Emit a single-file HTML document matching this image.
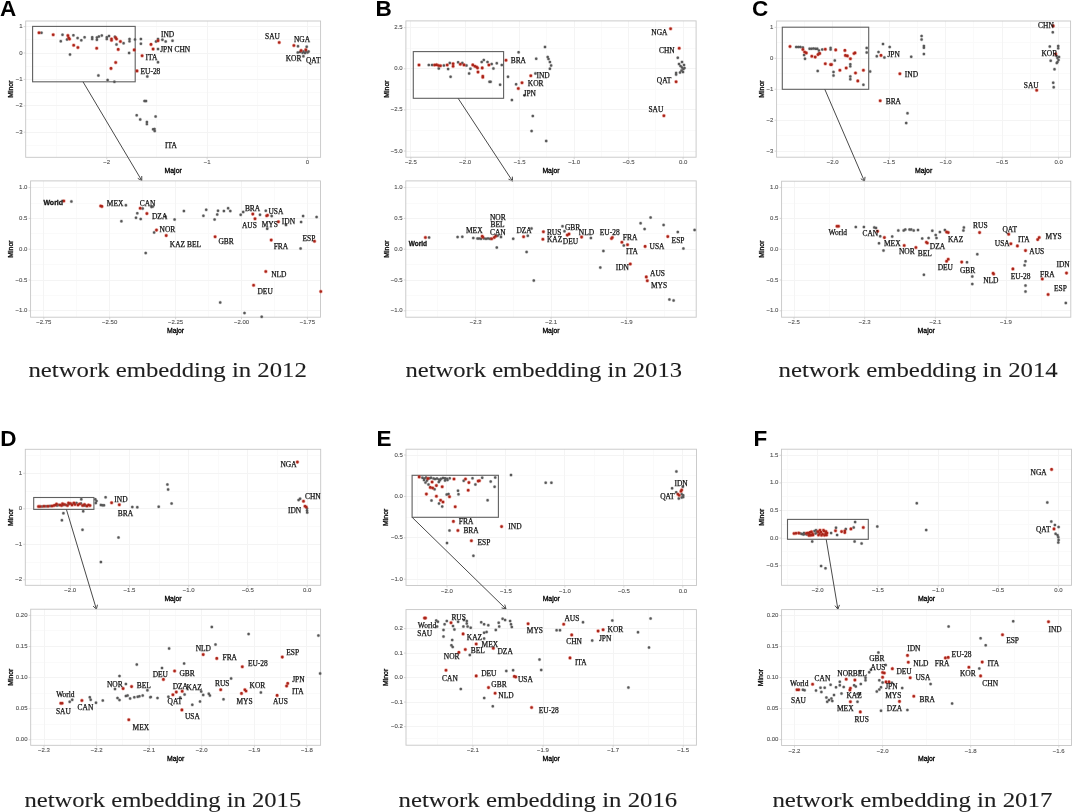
<!DOCTYPE html>
<html><head><meta charset="utf-8"><title>network embedding</title><style>
html,body{margin:0;padding:0;background:#fff;}
svg{display:block;}
.tk{font-family:"Liberation Sans",sans-serif;font-size:6.0px;fill:#505050;stroke:#505050;stroke-width:0.1px;}
.ti{font-family:"Liberation Sans",sans-serif;font-size:6.9px;fill:#000;stroke:#000;stroke-width:0.3px;}
.lb{font-family:"Liberation Serif",serif;font-size:7.45px;fill:#141414;stroke:#141414;stroke-width:0.25px;}
.ls{font-family:"Liberation Sans",sans-serif;font-size:7.6px;fill:#141414;font-weight:bold;stroke:#141414;stroke-width:0.3px;}
.let{font-family:"Liberation Sans",sans-serif;font-size:22.5px;font-weight:bold;fill:#000;}
.cap{font-family:"Liberation Serif",serif;font-size:21.8px;fill:#1e1e1e;stroke:#1e1e1e;stroke-width:0.1px;}
</style></head>
<body><svg width="1072" height="812" viewBox="0 0 1072 812">
<defs><filter id="bl" x="0" y="0" width="1072" height="812" filterUnits="userSpaceOnUse"><feColorMatrix type="identity"/></filter></defs>
<rect width="1072" height="812" fill="#fff"/>
<g filter="url(#bl)">
<rect width="1072" height="812" fill="#fff"/>
<g id="At">
<line x1="56.5" y1="21" x2="56.5" y2="157.3" stroke="#fafafa" stroke-width="1"/>
<line x1="156.5" y1="21" x2="156.5" y2="157.3" stroke="#fafafa" stroke-width="1"/>
<line x1="257.5" y1="21" x2="257.5" y2="157.3" stroke="#fafafa" stroke-width="1"/>
<line x1="25.7" y1="39.5" x2="320.6" y2="39.5" stroke="#fafafa" stroke-width="1"/>
<line x1="25.7" y1="66.5" x2="320.6" y2="66.5" stroke="#fafafa" stroke-width="1"/>
<line x1="25.7" y1="92.5" x2="320.6" y2="92.5" stroke="#fafafa" stroke-width="1"/>
<line x1="25.7" y1="119.5" x2="320.6" y2="119.5" stroke="#fafafa" stroke-width="1"/>
<line x1="25.7" y1="145.5" x2="320.6" y2="145.5" stroke="#fafafa" stroke-width="1"/>
<line x1="106.5" y1="21" x2="106.5" y2="157.3" stroke="#f4f4f4" stroke-width="1"/>
<line x1="207.5" y1="21" x2="207.5" y2="157.3" stroke="#f4f4f4" stroke-width="1"/>
<line x1="307.5" y1="21" x2="307.5" y2="157.3" stroke="#f4f4f4" stroke-width="1"/>
<line x1="25.7" y1="26.5" x2="320.6" y2="26.5" stroke="#f4f4f4" stroke-width="1"/>
<line x1="25.7" y1="53.5" x2="320.6" y2="53.5" stroke="#f4f4f4" stroke-width="1"/>
<line x1="25.7" y1="79.5" x2="320.6" y2="79.5" stroke="#f4f4f4" stroke-width="1"/>
<line x1="25.7" y1="105.5" x2="320.6" y2="105.5" stroke="#f4f4f4" stroke-width="1"/>
<line x1="25.7" y1="132.5" x2="320.6" y2="132.5" stroke="#f4f4f4" stroke-width="1"/>
<rect x="25.7" y="21" width="294.9" height="136.3" fill="none" stroke="#c6c6c6" stroke-width="0.9"/>
<path d="M106.78 157.3v2M207.14 157.3v2M307.5 157.3v2M25.7 26.6h-2M25.7 53h-2M25.7 79.4h-2M25.7 105.8h-2M25.7 132.2h-2" stroke="#c6c6c6" stroke-width="0.7"/>
<text x="106.78" y="164.46" text-anchor="middle" class="tk">−2</text>
<text x="207.14" y="164.46" text-anchor="middle" class="tk">−1</text>
<text x="307.5" y="164.46" text-anchor="middle" class="tk">0</text>
<text x="22.5" y="28.16" text-anchor="end" class="tk">1</text>
<text x="22.5" y="54.56" text-anchor="end" class="tk">0</text>
<text x="22.5" y="80.96" text-anchor="end" class="tk">−1</text>
<text x="22.5" y="107.36" text-anchor="end" class="tk">−2</text>
<text x="22.5" y="133.76" text-anchor="end" class="tk">−3</text>
<text x="173.15" y="172.98" text-anchor="middle" class="ti">Major</text>
<text transform="translate(12.98 89.15) rotate(-90)" text-anchor="middle" class="ti">Minor</text>
<rect x="32.6" y="26.4" width="102.6" height="55.4" fill="none" stroke="#606060" stroke-width="1.1"/>
<path d="M39.65 32.8a1.85 1.85 0 1 0 3.7 0a1.85 1.85 0 1 0 -3.7 0M60.65 34.8a1.85 1.85 0 1 0 3.7 0a1.85 1.85 0 1 0 -3.7 0M58.95 41.2a1.85 1.85 0 1 0 3.7 0a1.85 1.85 0 1 0 -3.7 0M65.15 39.5a1.85 1.85 0 1 0 3.7 0a1.85 1.85 0 1 0 -3.7 0M71.55 35.3a1.85 1.85 0 1 0 3.7 0a1.85 1.85 0 1 0 -3.7 0M75.75 38.1a1.85 1.85 0 1 0 3.7 0a1.85 1.85 0 1 0 -3.7 0M79.45 40.3a1.85 1.85 0 1 0 3.7 0a1.85 1.85 0 1 0 -3.7 0M82.75 37.3a1.85 1.85 0 1 0 3.7 0a1.85 1.85 0 1 0 -3.7 0M68.15 54.6a1.85 1.85 0 1 0 3.7 0a1.85 1.85 0 1 0 -3.7 0M90.35 37.3a1.85 1.85 0 1 0 3.7 0a1.85 1.85 0 1 0 -3.7 0M90.35 39a1.85 1.85 0 1 0 3.7 0a1.85 1.85 0 1 0 -3.7 0M95.05 37.6a1.85 1.85 0 1 0 3.7 0a1.85 1.85 0 1 0 -3.7 0M95.05 39.8a1.85 1.85 0 1 0 3.7 0a1.85 1.85 0 1 0 -3.7 0M97.05 36.5a1.85 1.85 0 1 0 3.7 0a1.85 1.85 0 1 0 -3.7 0M99.95 35.6a1.85 1.85 0 1 0 3.7 0a1.85 1.85 0 1 0 -3.7 0M104.95 37.3a1.85 1.85 0 1 0 3.7 0a1.85 1.85 0 1 0 -3.7 0M104.95 39a1.85 1.85 0 1 0 3.7 0a1.85 1.85 0 1 0 -3.7 0M107.15 36.1a1.85 1.85 0 1 0 3.7 0a1.85 1.85 0 1 0 -3.7 0M113.05 36.8a1.85 1.85 0 1 0 3.7 0a1.85 1.85 0 1 0 -3.7 0M114.65 44.4a1.85 1.85 0 1 0 3.7 0a1.85 1.85 0 1 0 -3.7 0M121.75 43.2a1.85 1.85 0 1 0 3.7 0a1.85 1.85 0 1 0 -3.7 0M127.65 39a1.85 1.85 0 1 0 3.7 0a1.85 1.85 0 1 0 -3.7 0M127.65 41.2a1.85 1.85 0 1 0 3.7 0a1.85 1.85 0 1 0 -3.7 0M133.15 39.5a1.85 1.85 0 1 0 3.7 0a1.85 1.85 0 1 0 -3.7 0M139.05 39a1.85 1.85 0 1 0 3.7 0a1.85 1.85 0 1 0 -3.7 0M139.05 43.7a1.85 1.85 0 1 0 3.7 0a1.85 1.85 0 1 0 -3.7 0M127.25 52.9a1.85 1.85 0 1 0 3.7 0a1.85 1.85 0 1 0 -3.7 0M145.45 76.4a1.85 1.85 0 1 0 3.7 0a1.85 1.85 0 1 0 -3.7 0M96.55 75.4a1.85 1.85 0 1 0 3.7 0a1.85 1.85 0 1 0 -3.7 0M105.75 80.1a1.85 1.85 0 1 0 3.7 0a1.85 1.85 0 1 0 -3.7 0M112.55 81.8a1.85 1.85 0 1 0 3.7 0a1.85 1.85 0 1 0 -3.7 0M156.15 49.1a1.85 1.85 0 1 0 3.7 0a1.85 1.85 0 1 0 -3.7 0M156.15 62.2a1.85 1.85 0 1 0 3.7 0a1.85 1.85 0 1 0 -3.7 0M154.15 41.5a1.85 1.85 0 1 0 3.7 0a1.85 1.85 0 1 0 -3.7 0M156.15 39a1.85 1.85 0 1 0 3.7 0a1.85 1.85 0 1 0 -3.7 0M160.55 39.8a1.85 1.85 0 1 0 3.7 0a1.85 1.85 0 1 0 -3.7 0M163.85 41.5a1.85 1.85 0 1 0 3.7 0a1.85 1.85 0 1 0 -3.7 0M170.65 40.7a1.85 1.85 0 1 0 3.7 0a1.85 1.85 0 1 0 -3.7 0M144.15 101.1a1.85 1.85 0 1 0 3.7 0a1.85 1.85 0 1 0 -3.7 0M142.65 101a1.85 1.85 0 1 0 3.7 0a1.85 1.85 0 1 0 -3.7 0M134.85 115.3a1.85 1.85 0 1 0 3.7 0a1.85 1.85 0 1 0 -3.7 0M138.35 119.4a1.85 1.85 0 1 0 3.7 0a1.85 1.85 0 1 0 -3.7 0M145.05 122.1a1.85 1.85 0 1 0 3.7 0a1.85 1.85 0 1 0 -3.7 0M145.05 124.1a1.85 1.85 0 1 0 3.7 0a1.85 1.85 0 1 0 -3.7 0M153.75 116.5a1.85 1.85 0 1 0 3.7 0a1.85 1.85 0 1 0 -3.7 0M151.25 129.3a1.85 1.85 0 1 0 3.7 0a1.85 1.85 0 1 0 -3.7 0M152.85 130.9a1.85 1.85 0 1 0 3.7 0a1.85 1.85 0 1 0 -3.7 0M152.65 129a1.85 1.85 0 1 0 3.7 0a1.85 1.85 0 1 0 -3.7 0M296.15 46.2a1.85 1.85 0 1 0 3.7 0a1.85 1.85 0 1 0 -3.7 0M304.85 46.7a1.85 1.85 0 1 0 3.7 0a1.85 1.85 0 1 0 -3.7 0M295.95 52.5a1.85 1.85 0 1 0 3.7 0a1.85 1.85 0 1 0 -3.7 0M298.15 52a1.85 1.85 0 1 0 3.7 0a1.85 1.85 0 1 0 -3.7 0M300.65 52.8a1.85 1.85 0 1 0 3.7 0a1.85 1.85 0 1 0 -3.7 0M303.15 53a1.85 1.85 0 1 0 3.7 0a1.85 1.85 0 1 0 -3.7 0M305.65 52.5a1.85 1.85 0 1 0 3.7 0a1.85 1.85 0 1 0 -3.7 0M306.75 51.6a1.85 1.85 0 1 0 3.7 0a1.85 1.85 0 1 0 -3.7 0M304.15 51a1.85 1.85 0 1 0 3.7 0a1.85 1.85 0 1 0 -3.7 0M301.65 51.5a1.85 1.85 0 1 0 3.7 0a1.85 1.85 0 1 0 -3.7 0M301.55 56.2a1.85 1.85 0 1 0 3.7 0a1.85 1.85 0 1 0 -3.7 0" fill="#8a8a8a" fill-opacity="0.35"/>
<path d="M40.25 32.8a1.25 1.25 0 1 0 2.5 0a1.25 1.25 0 1 0 -2.5 0M61.25 34.8a1.25 1.25 0 1 0 2.5 0a1.25 1.25 0 1 0 -2.5 0M59.55 41.2a1.25 1.25 0 1 0 2.5 0a1.25 1.25 0 1 0 -2.5 0M65.75 39.5a1.25 1.25 0 1 0 2.5 0a1.25 1.25 0 1 0 -2.5 0M72.15 35.3a1.25 1.25 0 1 0 2.5 0a1.25 1.25 0 1 0 -2.5 0M76.35 38.1a1.25 1.25 0 1 0 2.5 0a1.25 1.25 0 1 0 -2.5 0M80.05 40.3a1.25 1.25 0 1 0 2.5 0a1.25 1.25 0 1 0 -2.5 0M83.35 37.3a1.25 1.25 0 1 0 2.5 0a1.25 1.25 0 1 0 -2.5 0M68.75 54.6a1.25 1.25 0 1 0 2.5 0a1.25 1.25 0 1 0 -2.5 0M90.95 37.3a1.25 1.25 0 1 0 2.5 0a1.25 1.25 0 1 0 -2.5 0M90.95 39a1.25 1.25 0 1 0 2.5 0a1.25 1.25 0 1 0 -2.5 0M95.65 37.6a1.25 1.25 0 1 0 2.5 0a1.25 1.25 0 1 0 -2.5 0M95.65 39.8a1.25 1.25 0 1 0 2.5 0a1.25 1.25 0 1 0 -2.5 0M97.65 36.5a1.25 1.25 0 1 0 2.5 0a1.25 1.25 0 1 0 -2.5 0M100.55 35.6a1.25 1.25 0 1 0 2.5 0a1.25 1.25 0 1 0 -2.5 0M105.55 37.3a1.25 1.25 0 1 0 2.5 0a1.25 1.25 0 1 0 -2.5 0M105.55 39a1.25 1.25 0 1 0 2.5 0a1.25 1.25 0 1 0 -2.5 0M107.75 36.1a1.25 1.25 0 1 0 2.5 0a1.25 1.25 0 1 0 -2.5 0M113.65 36.8a1.25 1.25 0 1 0 2.5 0a1.25 1.25 0 1 0 -2.5 0M115.25 44.4a1.25 1.25 0 1 0 2.5 0a1.25 1.25 0 1 0 -2.5 0M122.35 43.2a1.25 1.25 0 1 0 2.5 0a1.25 1.25 0 1 0 -2.5 0M128.25 39a1.25 1.25 0 1 0 2.5 0a1.25 1.25 0 1 0 -2.5 0M128.25 41.2a1.25 1.25 0 1 0 2.5 0a1.25 1.25 0 1 0 -2.5 0M133.75 39.5a1.25 1.25 0 1 0 2.5 0a1.25 1.25 0 1 0 -2.5 0M139.65 39a1.25 1.25 0 1 0 2.5 0a1.25 1.25 0 1 0 -2.5 0M139.65 43.7a1.25 1.25 0 1 0 2.5 0a1.25 1.25 0 1 0 -2.5 0M127.85 52.9a1.25 1.25 0 1 0 2.5 0a1.25 1.25 0 1 0 -2.5 0M146.05 76.4a1.25 1.25 0 1 0 2.5 0a1.25 1.25 0 1 0 -2.5 0M97.15 75.4a1.25 1.25 0 1 0 2.5 0a1.25 1.25 0 1 0 -2.5 0M106.35 80.1a1.25 1.25 0 1 0 2.5 0a1.25 1.25 0 1 0 -2.5 0M113.15 81.8a1.25 1.25 0 1 0 2.5 0a1.25 1.25 0 1 0 -2.5 0M156.75 49.1a1.25 1.25 0 1 0 2.5 0a1.25 1.25 0 1 0 -2.5 0M156.75 62.2a1.25 1.25 0 1 0 2.5 0a1.25 1.25 0 1 0 -2.5 0M154.75 41.5a1.25 1.25 0 1 0 2.5 0a1.25 1.25 0 1 0 -2.5 0M156.75 39a1.25 1.25 0 1 0 2.5 0a1.25 1.25 0 1 0 -2.5 0M161.15 39.8a1.25 1.25 0 1 0 2.5 0a1.25 1.25 0 1 0 -2.5 0M164.45 41.5a1.25 1.25 0 1 0 2.5 0a1.25 1.25 0 1 0 -2.5 0M171.25 40.7a1.25 1.25 0 1 0 2.5 0a1.25 1.25 0 1 0 -2.5 0M144.75 101.1a1.25 1.25 0 1 0 2.5 0a1.25 1.25 0 1 0 -2.5 0M143.25 101a1.25 1.25 0 1 0 2.5 0a1.25 1.25 0 1 0 -2.5 0M135.45 115.3a1.25 1.25 0 1 0 2.5 0a1.25 1.25 0 1 0 -2.5 0M138.95 119.4a1.25 1.25 0 1 0 2.5 0a1.25 1.25 0 1 0 -2.5 0M145.65 122.1a1.25 1.25 0 1 0 2.5 0a1.25 1.25 0 1 0 -2.5 0M145.65 124.1a1.25 1.25 0 1 0 2.5 0a1.25 1.25 0 1 0 -2.5 0M154.35 116.5a1.25 1.25 0 1 0 2.5 0a1.25 1.25 0 1 0 -2.5 0M151.85 129.3a1.25 1.25 0 1 0 2.5 0a1.25 1.25 0 1 0 -2.5 0M153.45 130.9a1.25 1.25 0 1 0 2.5 0a1.25 1.25 0 1 0 -2.5 0M153.25 129a1.25 1.25 0 1 0 2.5 0a1.25 1.25 0 1 0 -2.5 0M296.75 46.2a1.25 1.25 0 1 0 2.5 0a1.25 1.25 0 1 0 -2.5 0M305.45 46.7a1.25 1.25 0 1 0 2.5 0a1.25 1.25 0 1 0 -2.5 0M296.55 52.5a1.25 1.25 0 1 0 2.5 0a1.25 1.25 0 1 0 -2.5 0M298.75 52a1.25 1.25 0 1 0 2.5 0a1.25 1.25 0 1 0 -2.5 0M301.25 52.8a1.25 1.25 0 1 0 2.5 0a1.25 1.25 0 1 0 -2.5 0M303.75 53a1.25 1.25 0 1 0 2.5 0a1.25 1.25 0 1 0 -2.5 0M306.25 52.5a1.25 1.25 0 1 0 2.5 0a1.25 1.25 0 1 0 -2.5 0M307.35 51.6a1.25 1.25 0 1 0 2.5 0a1.25 1.25 0 1 0 -2.5 0M304.75 51a1.25 1.25 0 1 0 2.5 0a1.25 1.25 0 1 0 -2.5 0M302.25 51.5a1.25 1.25 0 1 0 2.5 0a1.25 1.25 0 1 0 -2.5 0M302.15 56.2a1.25 1.25 0 1 0 2.5 0a1.25 1.25 0 1 0 -2.5 0" fill="#575757"/>
<path d="M37 32.8a2.0 2.0 0 1 0 4 0a2.0 2.0 0 1 0 -4 0M51.2 34.8a2.0 2.0 0 1 0 4 0a2.0 2.0 0 1 0 -4 0M65.9 35.6a2.0 2.0 0 1 0 4 0a2.0 2.0 0 1 0 -4 0M66.7 37.8a2.0 2.0 0 1 0 4 0a2.0 2.0 0 1 0 -4 0M67.5 39a2.0 2.0 0 1 0 4 0a2.0 2.0 0 1 0 -4 0M71.7 45.2a2.0 2.0 0 1 0 4 0a2.0 2.0 0 1 0 -4 0M75.9 47.5a2.0 2.0 0 1 0 4 0a2.0 2.0 0 1 0 -4 0M94.7 48.2a2.0 2.0 0 1 0 4 0a2.0 2.0 0 1 0 -4 0M109.5 39a2.0 2.0 0 1 0 4 0a2.0 2.0 0 1 0 -4 0M109.5 40.2a2.0 2.0 0 1 0 4 0a2.0 2.0 0 1 0 -4 0M113.7 37.8a2.0 2.0 0 1 0 4 0a2.0 2.0 0 1 0 -4 0M114.5 39a2.0 2.0 0 1 0 4 0a2.0 2.0 0 1 0 -4 0M118.4 41.5a2.0 2.0 0 1 0 4 0a2.0 2.0 0 1 0 -4 0M116.2 49.4a2.0 2.0 0 1 0 4 0a2.0 2.0 0 1 0 -4 0M132.2 49.9a2.0 2.0 0 1 0 4 0a2.0 2.0 0 1 0 -4 0M140.1 55.8a2.0 2.0 0 1 0 4 0a2.0 2.0 0 1 0 -4 0M113.7 62.5a2.0 2.0 0 1 0 4 0a2.0 2.0 0 1 0 -4 0M109 68.4a2.0 2.0 0 1 0 4 0a2.0 2.0 0 1 0 -4 0M135 70.9a2.0 2.0 0 1 0 4 0a2.0 2.0 0 1 0 -4 0M149 44.4a2.0 2.0 0 1 0 4 0a2.0 2.0 0 1 0 -4 0M151.1 49.1a2.0 2.0 0 1 0 4 0a2.0 2.0 0 1 0 -4 0M156 40.7a2.0 2.0 0 1 0 4 0a2.0 2.0 0 1 0 -4 0M277.2 42.5a2.0 2.0 0 1 0 4 0a2.0 2.0 0 1 0 -4 0M291.9 45.5a2.0 2.0 0 1 0 4 0a2.0 2.0 0 1 0 -4 0M299.1 50.6a2.0 2.0 0 1 0 4 0a2.0 2.0 0 1 0 -4 0M303.8 49.7a2.0 2.0 0 1 0 4 0a2.0 2.0 0 1 0 -4 0" fill="#dc4a3c" fill-opacity="0.45"/>
<path d="M37.7 32.8a1.3 1.3 0 1 0 2.6 0a1.3 1.3 0 1 0 -2.6 0M51.9 34.8a1.3 1.3 0 1 0 2.6 0a1.3 1.3 0 1 0 -2.6 0M66.6 35.6a1.3 1.3 0 1 0 2.6 0a1.3 1.3 0 1 0 -2.6 0M67.4 37.8a1.3 1.3 0 1 0 2.6 0a1.3 1.3 0 1 0 -2.6 0M68.2 39a1.3 1.3 0 1 0 2.6 0a1.3 1.3 0 1 0 -2.6 0M72.4 45.2a1.3 1.3 0 1 0 2.6 0a1.3 1.3 0 1 0 -2.6 0M76.6 47.5a1.3 1.3 0 1 0 2.6 0a1.3 1.3 0 1 0 -2.6 0M95.4 48.2a1.3 1.3 0 1 0 2.6 0a1.3 1.3 0 1 0 -2.6 0M110.2 39a1.3 1.3 0 1 0 2.6 0a1.3 1.3 0 1 0 -2.6 0M110.2 40.2a1.3 1.3 0 1 0 2.6 0a1.3 1.3 0 1 0 -2.6 0M114.4 37.8a1.3 1.3 0 1 0 2.6 0a1.3 1.3 0 1 0 -2.6 0M115.2 39a1.3 1.3 0 1 0 2.6 0a1.3 1.3 0 1 0 -2.6 0M119.1 41.5a1.3 1.3 0 1 0 2.6 0a1.3 1.3 0 1 0 -2.6 0M116.9 49.4a1.3 1.3 0 1 0 2.6 0a1.3 1.3 0 1 0 -2.6 0M132.9 49.9a1.3 1.3 0 1 0 2.6 0a1.3 1.3 0 1 0 -2.6 0M140.8 55.8a1.3 1.3 0 1 0 2.6 0a1.3 1.3 0 1 0 -2.6 0M114.4 62.5a1.3 1.3 0 1 0 2.6 0a1.3 1.3 0 1 0 -2.6 0M109.7 68.4a1.3 1.3 0 1 0 2.6 0a1.3 1.3 0 1 0 -2.6 0M135.7 70.9a1.3 1.3 0 1 0 2.6 0a1.3 1.3 0 1 0 -2.6 0M149.7 44.4a1.3 1.3 0 1 0 2.6 0a1.3 1.3 0 1 0 -2.6 0M151.8 49.1a1.3 1.3 0 1 0 2.6 0a1.3 1.3 0 1 0 -2.6 0M156.7 40.7a1.3 1.3 0 1 0 2.6 0a1.3 1.3 0 1 0 -2.6 0M277.9 42.5a1.3 1.3 0 1 0 2.6 0a1.3 1.3 0 1 0 -2.6 0M292.6 45.5a1.3 1.3 0 1 0 2.6 0a1.3 1.3 0 1 0 -2.6 0M299.8 50.6a1.3 1.3 0 1 0 2.6 0a1.3 1.3 0 1 0 -2.6 0M304.5 49.7a1.3 1.3 0 1 0 2.6 0a1.3 1.3 0 1 0 -2.6 0" fill="#a92419"/>
<text x="161" y="36.8" class="lb">IND</text>
<text x="160.2" y="52.1" class="lb">JPN CHN</text>
<text x="145.6" y="60.3" class="lb">ITA</text>
<text x="140.5" y="73.9" class="lb">EU-28</text>
<text x="165" y="148.3" class="lb">ITA</text>
<text x="265" y="38.5" class="lb">SAU</text>
<text x="293.9" y="42.1" class="lb">NGA</text>
<text x="285.7" y="61.4" class="lb">KOR</text>
<text x="306" y="63.2" class="lb">QAT</text>
<path d="M83 81.8L141.8 180.6M137.79 178.35L141.8 180.6L141.74 176" fill="none" stroke="#4a4a4a" stroke-width="1.0"/>
</g>
<g id="Ab">
<line x1="76.5" y1="180.9" x2="76.5" y2="317.2" stroke="#fafafa" stroke-width="1"/>
<line x1="142.5" y1="180.9" x2="142.5" y2="317.2" stroke="#fafafa" stroke-width="1"/>
<line x1="208.5" y1="180.9" x2="208.5" y2="317.2" stroke="#fafafa" stroke-width="1"/>
<line x1="274.5" y1="180.9" x2="274.5" y2="317.2" stroke="#fafafa" stroke-width="1"/>
<line x1="30.6" y1="203.5" x2="320.5" y2="203.5" stroke="#fafafa" stroke-width="1"/>
<line x1="30.6" y1="233.5" x2="320.5" y2="233.5" stroke="#fafafa" stroke-width="1"/>
<line x1="30.6" y1="264.5" x2="320.5" y2="264.5" stroke="#fafafa" stroke-width="1"/>
<line x1="30.6" y1="295.5" x2="320.5" y2="295.5" stroke="#fafafa" stroke-width="1"/>
<line x1="43.5" y1="180.9" x2="43.5" y2="317.2" stroke="#f4f4f4" stroke-width="1"/>
<line x1="109.5" y1="180.9" x2="109.5" y2="317.2" stroke="#f4f4f4" stroke-width="1"/>
<line x1="175.5" y1="180.9" x2="175.5" y2="317.2" stroke="#f4f4f4" stroke-width="1"/>
<line x1="241.5" y1="180.9" x2="241.5" y2="317.2" stroke="#f4f4f4" stroke-width="1"/>
<line x1="307.5" y1="180.9" x2="307.5" y2="317.2" stroke="#f4f4f4" stroke-width="1"/>
<line x1="30.6" y1="187.5" x2="320.5" y2="187.5" stroke="#f4f4f4" stroke-width="1"/>
<line x1="30.6" y1="218.5" x2="320.5" y2="218.5" stroke="#f4f4f4" stroke-width="1"/>
<line x1="30.6" y1="249.5" x2="320.5" y2="249.5" stroke="#f4f4f4" stroke-width="1"/>
<line x1="30.6" y1="280.5" x2="320.5" y2="280.5" stroke="#f4f4f4" stroke-width="1"/>
<line x1="30.6" y1="310.5" x2="320.5" y2="310.5" stroke="#f4f4f4" stroke-width="1"/>
<rect x="30.6" y="180.9" width="289.9" height="136.3" fill="none" stroke="#c6c6c6" stroke-width="0.9"/>
<path d="M43.8 317.2v2M109.7 317.2v2M175.6 317.2v2M241.5 317.2v2M307.4 317.2v2M30.6 187.6h-2M30.6 218.4h-2M30.6 249.2h-2M30.6 280h-2M30.6 310.8h-2" stroke="#c6c6c6" stroke-width="0.7"/>
<text x="43.8" y="324.36" text-anchor="middle" class="tk">−2.75</text>
<text x="109.7" y="324.36" text-anchor="middle" class="tk">−2.50</text>
<text x="175.6" y="324.36" text-anchor="middle" class="tk">−2.25</text>
<text x="241.5" y="324.36" text-anchor="middle" class="tk">−2.00</text>
<text x="307.4" y="324.36" text-anchor="middle" class="tk">−1.75</text>
<text x="27.4" y="189.16" text-anchor="end" class="tk">1.0</text>
<text x="27.4" y="219.96" text-anchor="end" class="tk">0.5</text>
<text x="27.4" y="250.76" text-anchor="end" class="tk">0.0</text>
<text x="27.4" y="281.56" text-anchor="end" class="tk">−0.5</text>
<text x="27.4" y="312.36" text-anchor="end" class="tk">−1.0</text>
<text x="175.55" y="332.88" text-anchor="middle" class="ti">Major</text>
<text transform="translate(13.38 249.05) rotate(-90)" text-anchor="middle" class="ti">Minor</text>
<path d="M69.55 201.4a1.85 1.85 0 1 0 3.7 0a1.85 1.85 0 1 0 -3.7 0M124.05 205.2a1.85 1.85 0 1 0 3.7 0a1.85 1.85 0 1 0 -3.7 0M140.85 208.6a1.85 1.85 0 1 0 3.7 0a1.85 1.85 0 1 0 -3.7 0M150.95 206.6a1.85 1.85 0 1 0 3.7 0a1.85 1.85 0 1 0 -3.7 0M149.65 207a1.85 1.85 0 1 0 3.7 0a1.85 1.85 0 1 0 -3.7 0M135.45 213.3a1.85 1.85 0 1 0 3.7 0a1.85 1.85 0 1 0 -3.7 0M134.15 217.8a1.85 1.85 0 1 0 3.7 0a1.85 1.85 0 1 0 -3.7 0M138.85 219a1.85 1.85 0 1 0 3.7 0a1.85 1.85 0 1 0 -3.7 0M119.55 221.2a1.85 1.85 0 1 0 3.7 0a1.85 1.85 0 1 0 -3.7 0M172.75 219.5a1.85 1.85 0 1 0 3.7 0a1.85 1.85 0 1 0 -3.7 0M152.25 232.4a1.85 1.85 0 1 0 3.7 0a1.85 1.85 0 1 0 -3.7 0M143.85 253.1a1.85 1.85 0 1 0 3.7 0a1.85 1.85 0 1 0 -3.7 0M182.05 211.1a1.85 1.85 0 1 0 3.7 0a1.85 1.85 0 1 0 -3.7 0M204.35 209.8a1.85 1.85 0 1 0 3.7 0a1.85 1.85 0 1 0 -3.7 0M201.55 215.8a1.85 1.85 0 1 0 3.7 0a1.85 1.85 0 1 0 -3.7 0M216.15 210.8a1.85 1.85 0 1 0 3.7 0a1.85 1.85 0 1 0 -3.7 0M215.35 214.5a1.85 1.85 0 1 0 3.7 0a1.85 1.85 0 1 0 -3.7 0M222.05 211.1a1.85 1.85 0 1 0 3.7 0a1.85 1.85 0 1 0 -3.7 0M226.25 208.2a1.85 1.85 0 1 0 3.7 0a1.85 1.85 0 1 0 -3.7 0M228.45 211.1a1.85 1.85 0 1 0 3.7 0a1.85 1.85 0 1 0 -3.7 0M212.75 219.5a1.85 1.85 0 1 0 3.7 0a1.85 1.85 0 1 0 -3.7 0M238.85 214.8a1.85 1.85 0 1 0 3.7 0a1.85 1.85 0 1 0 -3.7 0M241.35 211.9a1.85 1.85 0 1 0 3.7 0a1.85 1.85 0 1 0 -3.7 0M258.15 214.8a1.85 1.85 0 1 0 3.7 0a1.85 1.85 0 1 0 -3.7 0M263.95 210.8a1.85 1.85 0 1 0 3.7 0a1.85 1.85 0 1 0 -3.7 0M269.85 216.1a1.85 1.85 0 1 0 3.7 0a1.85 1.85 0 1 0 -3.7 0M265.35 228.7a1.85 1.85 0 1 0 3.7 0a1.85 1.85 0 1 0 -3.7 0M284.15 225a1.85 1.85 0 1 0 3.7 0a1.85 1.85 0 1 0 -3.7 0M301.25 216.1a1.85 1.85 0 1 0 3.7 0a1.85 1.85 0 1 0 -3.7 0M299.25 222a1.85 1.85 0 1 0 3.7 0a1.85 1.85 0 1 0 -3.7 0M314.75 217a1.85 1.85 0 1 0 3.7 0a1.85 1.85 0 1 0 -3.7 0M298.75 248.5a1.85 1.85 0 1 0 3.7 0a1.85 1.85 0 1 0 -3.7 0M218.35 302.4a1.85 1.85 0 1 0 3.7 0a1.85 1.85 0 1 0 -3.7 0M242.65 313.1a1.85 1.85 0 1 0 3.7 0a1.85 1.85 0 1 0 -3.7 0M259.85 316.8a1.85 1.85 0 1 0 3.7 0a1.85 1.85 0 1 0 -3.7 0M163.65 216.5a1.85 1.85 0 1 0 3.7 0a1.85 1.85 0 1 0 -3.7 0" fill="#8a8a8a" fill-opacity="0.35"/>
<path d="M70.15 201.4a1.25 1.25 0 1 0 2.5 0a1.25 1.25 0 1 0 -2.5 0M124.65 205.2a1.25 1.25 0 1 0 2.5 0a1.25 1.25 0 1 0 -2.5 0M141.45 208.6a1.25 1.25 0 1 0 2.5 0a1.25 1.25 0 1 0 -2.5 0M151.55 206.6a1.25 1.25 0 1 0 2.5 0a1.25 1.25 0 1 0 -2.5 0M150.25 207a1.25 1.25 0 1 0 2.5 0a1.25 1.25 0 1 0 -2.5 0M136.05 213.3a1.25 1.25 0 1 0 2.5 0a1.25 1.25 0 1 0 -2.5 0M134.75 217.8a1.25 1.25 0 1 0 2.5 0a1.25 1.25 0 1 0 -2.5 0M139.45 219a1.25 1.25 0 1 0 2.5 0a1.25 1.25 0 1 0 -2.5 0M120.15 221.2a1.25 1.25 0 1 0 2.5 0a1.25 1.25 0 1 0 -2.5 0M173.35 219.5a1.25 1.25 0 1 0 2.5 0a1.25 1.25 0 1 0 -2.5 0M152.85 232.4a1.25 1.25 0 1 0 2.5 0a1.25 1.25 0 1 0 -2.5 0M144.45 253.1a1.25 1.25 0 1 0 2.5 0a1.25 1.25 0 1 0 -2.5 0M182.65 211.1a1.25 1.25 0 1 0 2.5 0a1.25 1.25 0 1 0 -2.5 0M204.95 209.8a1.25 1.25 0 1 0 2.5 0a1.25 1.25 0 1 0 -2.5 0M202.15 215.8a1.25 1.25 0 1 0 2.5 0a1.25 1.25 0 1 0 -2.5 0M216.75 210.8a1.25 1.25 0 1 0 2.5 0a1.25 1.25 0 1 0 -2.5 0M215.95 214.5a1.25 1.25 0 1 0 2.5 0a1.25 1.25 0 1 0 -2.5 0M222.65 211.1a1.25 1.25 0 1 0 2.5 0a1.25 1.25 0 1 0 -2.5 0M226.85 208.2a1.25 1.25 0 1 0 2.5 0a1.25 1.25 0 1 0 -2.5 0M229.05 211.1a1.25 1.25 0 1 0 2.5 0a1.25 1.25 0 1 0 -2.5 0M213.35 219.5a1.25 1.25 0 1 0 2.5 0a1.25 1.25 0 1 0 -2.5 0M239.45 214.8a1.25 1.25 0 1 0 2.5 0a1.25 1.25 0 1 0 -2.5 0M241.95 211.9a1.25 1.25 0 1 0 2.5 0a1.25 1.25 0 1 0 -2.5 0M258.75 214.8a1.25 1.25 0 1 0 2.5 0a1.25 1.25 0 1 0 -2.5 0M264.55 210.8a1.25 1.25 0 1 0 2.5 0a1.25 1.25 0 1 0 -2.5 0M270.45 216.1a1.25 1.25 0 1 0 2.5 0a1.25 1.25 0 1 0 -2.5 0M265.95 228.7a1.25 1.25 0 1 0 2.5 0a1.25 1.25 0 1 0 -2.5 0M284.75 225a1.25 1.25 0 1 0 2.5 0a1.25 1.25 0 1 0 -2.5 0M301.85 216.1a1.25 1.25 0 1 0 2.5 0a1.25 1.25 0 1 0 -2.5 0M299.85 222a1.25 1.25 0 1 0 2.5 0a1.25 1.25 0 1 0 -2.5 0M315.35 217a1.25 1.25 0 1 0 2.5 0a1.25 1.25 0 1 0 -2.5 0M299.35 248.5a1.25 1.25 0 1 0 2.5 0a1.25 1.25 0 1 0 -2.5 0M218.95 302.4a1.25 1.25 0 1 0 2.5 0a1.25 1.25 0 1 0 -2.5 0M243.25 313.1a1.25 1.25 0 1 0 2.5 0a1.25 1.25 0 1 0 -2.5 0M260.45 316.8a1.25 1.25 0 1 0 2.5 0a1.25 1.25 0 1 0 -2.5 0M164.25 216.5a1.25 1.25 0 1 0 2.5 0a1.25 1.25 0 1 0 -2.5 0" fill="#575757"/>
<path d="M61.8 201a2.0 2.0 0 1 0 4 0a2.0 2.0 0 1 0 -4 0M98.7 206a2.0 2.0 0 1 0 4 0a2.0 2.0 0 1 0 -4 0M99.9 206.4a2.0 2.0 0 1 0 4 0a2.0 2.0 0 1 0 -4 0M138.2 208.2a2.0 2.0 0 1 0 4 0a2.0 2.0 0 1 0 -4 0M144.9 213.6a2.0 2.0 0 1 0 4 0a2.0 2.0 0 1 0 -4 0M154.5 230.1a2.0 2.0 0 1 0 4 0a2.0 2.0 0 1 0 -4 0M164.2 235.6a2.0 2.0 0 1 0 4 0a2.0 2.0 0 1 0 -4 0M213.1 236.8a2.0 2.0 0 1 0 4 0a2.0 2.0 0 1 0 -4 0M250.8 214.1a2.0 2.0 0 1 0 4 0a2.0 2.0 0 1 0 -4 0M253 218.7a2.0 2.0 0 1 0 4 0a2.0 2.0 0 1 0 -4 0M264.7 215.8a2.0 2.0 0 1 0 4 0a2.0 2.0 0 1 0 -4 0M265.5 215.3a2.0 2.0 0 1 0 4 0a2.0 2.0 0 1 0 -4 0M276.4 221.7a2.0 2.0 0 1 0 4 0a2.0 2.0 0 1 0 -4 0M269.2 240.1a2.0 2.0 0 1 0 4 0a2.0 2.0 0 1 0 -4 0M312.5 241.3a2.0 2.0 0 1 0 4 0a2.0 2.0 0 1 0 -4 0M263.8 271.5a2.0 2.0 0 1 0 4 0a2.0 2.0 0 1 0 -4 0M251.6 285.3a2.0 2.0 0 1 0 4 0a2.0 2.0 0 1 0 -4 0M318.8 291.5a2.0 2.0 0 1 0 4 0a2.0 2.0 0 1 0 -4 0" fill="#dc4a3c" fill-opacity="0.45"/>
<path d="M62.5 201a1.3 1.3 0 1 0 2.6 0a1.3 1.3 0 1 0 -2.6 0M99.4 206a1.3 1.3 0 1 0 2.6 0a1.3 1.3 0 1 0 -2.6 0M100.6 206.4a1.3 1.3 0 1 0 2.6 0a1.3 1.3 0 1 0 -2.6 0M138.9 208.2a1.3 1.3 0 1 0 2.6 0a1.3 1.3 0 1 0 -2.6 0M145.6 213.6a1.3 1.3 0 1 0 2.6 0a1.3 1.3 0 1 0 -2.6 0M155.2 230.1a1.3 1.3 0 1 0 2.6 0a1.3 1.3 0 1 0 -2.6 0M164.9 235.6a1.3 1.3 0 1 0 2.6 0a1.3 1.3 0 1 0 -2.6 0M213.8 236.8a1.3 1.3 0 1 0 2.6 0a1.3 1.3 0 1 0 -2.6 0M251.5 214.1a1.3 1.3 0 1 0 2.6 0a1.3 1.3 0 1 0 -2.6 0M253.7 218.7a1.3 1.3 0 1 0 2.6 0a1.3 1.3 0 1 0 -2.6 0M265.4 215.8a1.3 1.3 0 1 0 2.6 0a1.3 1.3 0 1 0 -2.6 0M266.2 215.3a1.3 1.3 0 1 0 2.6 0a1.3 1.3 0 1 0 -2.6 0M277.1 221.7a1.3 1.3 0 1 0 2.6 0a1.3 1.3 0 1 0 -2.6 0M269.9 240.1a1.3 1.3 0 1 0 2.6 0a1.3 1.3 0 1 0 -2.6 0M313.2 241.3a1.3 1.3 0 1 0 2.6 0a1.3 1.3 0 1 0 -2.6 0M264.5 271.5a1.3 1.3 0 1 0 2.6 0a1.3 1.3 0 1 0 -2.6 0M252.3 285.3a1.3 1.3 0 1 0 2.6 0a1.3 1.3 0 1 0 -2.6 0M319.5 291.5a1.3 1.3 0 1 0 2.6 0a1.3 1.3 0 1 0 -2.6 0" fill="#a92419"/>
<text x="43.4" y="204.9" class="ls" style="font-size:7px">World</text>
<text x="106.8" y="206.4" class="lb">MEX</text>
<text x="139.7" y="206.1" class="lb">CAN</text>
<text x="152" y="219" class="lb">DZA</text>
<text x="159.6" y="231.7" class="lb">NOR</text>
<text x="169.8" y="247.2" class="lb">KAZ BEL</text>
<text x="218.5" y="244.2" class="lb">GBR</text>
<text x="244.9" y="211.1" class="lb">BRA</text>
<text x="268.4" y="214" class="lb">USA</text>
<text x="242" y="227.9" class="lb">AUS</text>
<text x="261.7" y="227.4" class="lb">MYS</text>
<text x="281.8" y="223.7" class="lb">IDN</text>
<text x="273.7" y="248.9" class="lb">FRA</text>
<text x="302.5" y="240.5" class="lb">ESP</text>
<text x="271.2" y="277.2" class="lb">NLD</text>
<text x="257.5" y="293.7" class="lb">DEU</text>
</g>
<g id="Bt">
<line x1="438.5" y1="20.9" x2="438.5" y2="157.2" stroke="#fafafa" stroke-width="1"/>
<line x1="492.5" y1="20.9" x2="492.5" y2="157.2" stroke="#fafafa" stroke-width="1"/>
<line x1="546.5" y1="20.9" x2="546.5" y2="157.2" stroke="#fafafa" stroke-width="1"/>
<line x1="601.5" y1="20.9" x2="601.5" y2="157.2" stroke="#fafafa" stroke-width="1"/>
<line x1="655.5" y1="20.9" x2="655.5" y2="157.2" stroke="#fafafa" stroke-width="1"/>
<line x1="405.9" y1="48.5" x2="696.1" y2="48.5" stroke="#fafafa" stroke-width="1"/>
<line x1="405.9" y1="89.5" x2="696.1" y2="89.5" stroke="#fafafa" stroke-width="1"/>
<line x1="405.9" y1="130.5" x2="696.1" y2="130.5" stroke="#fafafa" stroke-width="1"/>
<line x1="410.5" y1="20.9" x2="410.5" y2="157.2" stroke="#f4f4f4" stroke-width="1"/>
<line x1="465.5" y1="20.9" x2="465.5" y2="157.2" stroke="#f4f4f4" stroke-width="1"/>
<line x1="519.5" y1="20.9" x2="519.5" y2="157.2" stroke="#f4f4f4" stroke-width="1"/>
<line x1="574.5" y1="20.9" x2="574.5" y2="157.2" stroke="#f4f4f4" stroke-width="1"/>
<line x1="628.5" y1="20.9" x2="628.5" y2="157.2" stroke="#f4f4f4" stroke-width="1"/>
<line x1="683.5" y1="20.9" x2="683.5" y2="157.2" stroke="#f4f4f4" stroke-width="1"/>
<line x1="405.9" y1="27.5" x2="696.1" y2="27.5" stroke="#f4f4f4" stroke-width="1"/>
<line x1="405.9" y1="68.5" x2="696.1" y2="68.5" stroke="#f4f4f4" stroke-width="1"/>
<line x1="405.9" y1="109.5" x2="696.1" y2="109.5" stroke="#f4f4f4" stroke-width="1"/>
<line x1="405.9" y1="151.5" x2="696.1" y2="151.5" stroke="#f4f4f4" stroke-width="1"/>
<rect x="405.9" y="20.9" width="290.2" height="136.3" fill="none" stroke="#c6c6c6" stroke-width="0.9"/>
<path d="M410.85 157.2v2M465.3 157.2v2M519.75 157.2v2M574.2 157.2v2M628.65 157.2v2M683.1 157.2v2M405.9 27.67h-2M405.9 68.8h-2M405.9 109.92h-2M405.9 151.05h-2" stroke="#c6c6c6" stroke-width="0.7"/>
<text x="410.85" y="164.36" text-anchor="middle" class="tk">−2.5</text>
<text x="465.3" y="164.36" text-anchor="middle" class="tk">−2.0</text>
<text x="519.75" y="164.36" text-anchor="middle" class="tk">−1.5</text>
<text x="574.2" y="164.36" text-anchor="middle" class="tk">−1.0</text>
<text x="628.65" y="164.36" text-anchor="middle" class="tk">−0.5</text>
<text x="683.1" y="164.36" text-anchor="middle" class="tk">0.0</text>
<text x="402.7" y="29.23" text-anchor="end" class="tk">2.5</text>
<text x="402.7" y="70.36" text-anchor="end" class="tk">0.0</text>
<text x="402.7" y="111.48" text-anchor="end" class="tk">−2.5</text>
<text x="402.7" y="152.61" text-anchor="end" class="tk">−5.0</text>
<text x="551" y="172.88" text-anchor="middle" class="ti">Major</text>
<text transform="translate(389.28 89.05) rotate(-90)" text-anchor="middle" class="ti">Minor</text>
<rect x="413.3" y="51.6" width="90.3" height="46.7" fill="none" stroke="#606060" stroke-width="1.1"/>
<path d="M426.95 65a1.85 1.85 0 1 0 3.7 0a1.85 1.85 0 1 0 -3.7 0M430.25 65a1.85 1.85 0 1 0 3.7 0a1.85 1.85 0 1 0 -3.7 0M436.95 68.4a1.85 1.85 0 1 0 3.7 0a1.85 1.85 0 1 0 -3.7 0M442.05 65.4a1.85 1.85 0 1 0 3.7 0a1.85 1.85 0 1 0 -3.7 0M447.95 62.9a1.85 1.85 0 1 0 3.7 0a1.85 1.85 0 1 0 -3.7 0M446.25 69.1a1.85 1.85 0 1 0 3.7 0a1.85 1.85 0 1 0 -3.7 0M448.75 76.8a1.85 1.85 0 1 0 3.7 0a1.85 1.85 0 1 0 -3.7 0M456.25 62.3a1.85 1.85 0 1 0 3.7 0a1.85 1.85 0 1 0 -3.7 0M460.45 62.9a1.85 1.85 0 1 0 3.7 0a1.85 1.85 0 1 0 -3.7 0M464.65 65.4a1.85 1.85 0 1 0 3.7 0a1.85 1.85 0 1 0 -3.7 0M468.55 68.7a1.85 1.85 0 1 0 3.7 0a1.85 1.85 0 1 0 -3.7 0M467.25 73.4a1.85 1.85 0 1 0 3.7 0a1.85 1.85 0 1 0 -3.7 0M479.85 62a1.85 1.85 0 1 0 3.7 0a1.85 1.85 0 1 0 -3.7 0M481.95 60a1.85 1.85 0 1 0 3.7 0a1.85 1.85 0 1 0 -3.7 0M485.65 62a1.85 1.85 0 1 0 3.7 0a1.85 1.85 0 1 0 -3.7 0M489.85 64a1.85 1.85 0 1 0 3.7 0a1.85 1.85 0 1 0 -3.7 0M491.55 68.4a1.85 1.85 0 1 0 3.7 0a1.85 1.85 0 1 0 -3.7 0M494.95 63.2a1.85 1.85 0 1 0 3.7 0a1.85 1.85 0 1 0 -3.7 0M487.65 81.8a1.85 1.85 0 1 0 3.7 0a1.85 1.85 0 1 0 -3.7 0M488.75 81.8a1.85 1.85 0 1 0 3.7 0a1.85 1.85 0 1 0 -3.7 0M498.25 84.7a1.85 1.85 0 1 0 3.7 0a1.85 1.85 0 1 0 -3.7 0M499.95 65a1.85 1.85 0 1 0 3.7 0a1.85 1.85 0 1 0 -3.7 0M516.75 52.3a1.85 1.85 0 1 0 3.7 0a1.85 1.85 0 1 0 -3.7 0M506.15 76.8a1.85 1.85 0 1 0 3.7 0a1.85 1.85 0 1 0 -3.7 0M514.25 84.3a1.85 1.85 0 1 0 3.7 0a1.85 1.85 0 1 0 -3.7 0M522.65 95.3a1.85 1.85 0 1 0 3.7 0a1.85 1.85 0 1 0 -3.7 0M510.05 100.1a1.85 1.85 0 1 0 3.7 0a1.85 1.85 0 1 0 -3.7 0M533.55 73.4a1.85 1.85 0 1 0 3.7 0a1.85 1.85 0 1 0 -3.7 0M534.35 58.7a1.85 1.85 0 1 0 3.7 0a1.85 1.85 0 1 0 -3.7 0M543.15 46.9a1.85 1.85 0 1 0 3.7 0a1.85 1.85 0 1 0 -3.7 0M545.85 57a1.85 1.85 0 1 0 3.7 0a1.85 1.85 0 1 0 -3.7 0M546.65 59a1.85 1.85 0 1 0 3.7 0a1.85 1.85 0 1 0 -3.7 0M548.05 62a1.85 1.85 0 1 0 3.7 0a1.85 1.85 0 1 0 -3.7 0M549.25 65.4a1.85 1.85 0 1 0 3.7 0a1.85 1.85 0 1 0 -3.7 0M548.05 68.7a1.85 1.85 0 1 0 3.7 0a1.85 1.85 0 1 0 -3.7 0M530.95 116a1.85 1.85 0 1 0 3.7 0a1.85 1.85 0 1 0 -3.7 0M529.75 131.1a1.85 1.85 0 1 0 3.7 0a1.85 1.85 0 1 0 -3.7 0M544.35 140.9a1.85 1.85 0 1 0 3.7 0a1.85 1.85 0 1 0 -3.7 0M675.95 57.8a1.85 1.85 0 1 0 3.7 0a1.85 1.85 0 1 0 -3.7 0M680.15 62a1.85 1.85 0 1 0 3.7 0a1.85 1.85 0 1 0 -3.7 0M677.15 64a1.85 1.85 0 1 0 3.7 0a1.85 1.85 0 1 0 -3.7 0M678.65 66a1.85 1.85 0 1 0 3.7 0a1.85 1.85 0 1 0 -3.7 0M680.15 67.5a1.85 1.85 0 1 0 3.7 0a1.85 1.85 0 1 0 -3.7 0M681.65 69a1.85 1.85 0 1 0 3.7 0a1.85 1.85 0 1 0 -3.7 0M679.65 70.5a1.85 1.85 0 1 0 3.7 0a1.85 1.85 0 1 0 -3.7 0M681.15 72a1.85 1.85 0 1 0 3.7 0a1.85 1.85 0 1 0 -3.7 0M678.15 72.5a1.85 1.85 0 1 0 3.7 0a1.85 1.85 0 1 0 -3.7 0M682.15 65a1.85 1.85 0 1 0 3.7 0a1.85 1.85 0 1 0 -3.7 0M682.65 68a1.85 1.85 0 1 0 3.7 0a1.85 1.85 0 1 0 -3.7 0M674.25 72.9a1.85 1.85 0 1 0 3.7 0a1.85 1.85 0 1 0 -3.7 0M674.25 74.6a1.85 1.85 0 1 0 3.7 0a1.85 1.85 0 1 0 -3.7 0" fill="#8a8a8a" fill-opacity="0.35"/>
<path d="M427.55 65a1.25 1.25 0 1 0 2.5 0a1.25 1.25 0 1 0 -2.5 0M430.85 65a1.25 1.25 0 1 0 2.5 0a1.25 1.25 0 1 0 -2.5 0M437.55 68.4a1.25 1.25 0 1 0 2.5 0a1.25 1.25 0 1 0 -2.5 0M442.65 65.4a1.25 1.25 0 1 0 2.5 0a1.25 1.25 0 1 0 -2.5 0M448.55 62.9a1.25 1.25 0 1 0 2.5 0a1.25 1.25 0 1 0 -2.5 0M446.85 69.1a1.25 1.25 0 1 0 2.5 0a1.25 1.25 0 1 0 -2.5 0M449.35 76.8a1.25 1.25 0 1 0 2.5 0a1.25 1.25 0 1 0 -2.5 0M456.85 62.3a1.25 1.25 0 1 0 2.5 0a1.25 1.25 0 1 0 -2.5 0M461.05 62.9a1.25 1.25 0 1 0 2.5 0a1.25 1.25 0 1 0 -2.5 0M465.25 65.4a1.25 1.25 0 1 0 2.5 0a1.25 1.25 0 1 0 -2.5 0M469.15 68.7a1.25 1.25 0 1 0 2.5 0a1.25 1.25 0 1 0 -2.5 0M467.85 73.4a1.25 1.25 0 1 0 2.5 0a1.25 1.25 0 1 0 -2.5 0M480.45 62a1.25 1.25 0 1 0 2.5 0a1.25 1.25 0 1 0 -2.5 0M482.55 60a1.25 1.25 0 1 0 2.5 0a1.25 1.25 0 1 0 -2.5 0M486.25 62a1.25 1.25 0 1 0 2.5 0a1.25 1.25 0 1 0 -2.5 0M490.45 64a1.25 1.25 0 1 0 2.5 0a1.25 1.25 0 1 0 -2.5 0M492.15 68.4a1.25 1.25 0 1 0 2.5 0a1.25 1.25 0 1 0 -2.5 0M495.55 63.2a1.25 1.25 0 1 0 2.5 0a1.25 1.25 0 1 0 -2.5 0M488.25 81.8a1.25 1.25 0 1 0 2.5 0a1.25 1.25 0 1 0 -2.5 0M489.35 81.8a1.25 1.25 0 1 0 2.5 0a1.25 1.25 0 1 0 -2.5 0M498.85 84.7a1.25 1.25 0 1 0 2.5 0a1.25 1.25 0 1 0 -2.5 0M500.55 65a1.25 1.25 0 1 0 2.5 0a1.25 1.25 0 1 0 -2.5 0M517.35 52.3a1.25 1.25 0 1 0 2.5 0a1.25 1.25 0 1 0 -2.5 0M506.75 76.8a1.25 1.25 0 1 0 2.5 0a1.25 1.25 0 1 0 -2.5 0M514.85 84.3a1.25 1.25 0 1 0 2.5 0a1.25 1.25 0 1 0 -2.5 0M523.25 95.3a1.25 1.25 0 1 0 2.5 0a1.25 1.25 0 1 0 -2.5 0M510.65 100.1a1.25 1.25 0 1 0 2.5 0a1.25 1.25 0 1 0 -2.5 0M534.15 73.4a1.25 1.25 0 1 0 2.5 0a1.25 1.25 0 1 0 -2.5 0M534.95 58.7a1.25 1.25 0 1 0 2.5 0a1.25 1.25 0 1 0 -2.5 0M543.75 46.9a1.25 1.25 0 1 0 2.5 0a1.25 1.25 0 1 0 -2.5 0M546.45 57a1.25 1.25 0 1 0 2.5 0a1.25 1.25 0 1 0 -2.5 0M547.25 59a1.25 1.25 0 1 0 2.5 0a1.25 1.25 0 1 0 -2.5 0M548.65 62a1.25 1.25 0 1 0 2.5 0a1.25 1.25 0 1 0 -2.5 0M549.85 65.4a1.25 1.25 0 1 0 2.5 0a1.25 1.25 0 1 0 -2.5 0M548.65 68.7a1.25 1.25 0 1 0 2.5 0a1.25 1.25 0 1 0 -2.5 0M531.55 116a1.25 1.25 0 1 0 2.5 0a1.25 1.25 0 1 0 -2.5 0M530.35 131.1a1.25 1.25 0 1 0 2.5 0a1.25 1.25 0 1 0 -2.5 0M544.95 140.9a1.25 1.25 0 1 0 2.5 0a1.25 1.25 0 1 0 -2.5 0M676.55 57.8a1.25 1.25 0 1 0 2.5 0a1.25 1.25 0 1 0 -2.5 0M680.75 62a1.25 1.25 0 1 0 2.5 0a1.25 1.25 0 1 0 -2.5 0M677.75 64a1.25 1.25 0 1 0 2.5 0a1.25 1.25 0 1 0 -2.5 0M679.25 66a1.25 1.25 0 1 0 2.5 0a1.25 1.25 0 1 0 -2.5 0M680.75 67.5a1.25 1.25 0 1 0 2.5 0a1.25 1.25 0 1 0 -2.5 0M682.25 69a1.25 1.25 0 1 0 2.5 0a1.25 1.25 0 1 0 -2.5 0M680.25 70.5a1.25 1.25 0 1 0 2.5 0a1.25 1.25 0 1 0 -2.5 0M681.75 72a1.25 1.25 0 1 0 2.5 0a1.25 1.25 0 1 0 -2.5 0M678.75 72.5a1.25 1.25 0 1 0 2.5 0a1.25 1.25 0 1 0 -2.5 0M682.75 65a1.25 1.25 0 1 0 2.5 0a1.25 1.25 0 1 0 -2.5 0M683.25 68a1.25 1.25 0 1 0 2.5 0a1.25 1.25 0 1 0 -2.5 0M674.85 72.9a1.25 1.25 0 1 0 2.5 0a1.25 1.25 0 1 0 -2.5 0M674.85 74.6a1.25 1.25 0 1 0 2.5 0a1.25 1.25 0 1 0 -2.5 0" fill="#575757"/>
<path d="M417 65a2.0 2.0 0 1 0 4 0a2.0 2.0 0 1 0 -4 0M432.6 65a2.0 2.0 0 1 0 4 0a2.0 2.0 0 1 0 -4 0M434.5 64.8a2.0 2.0 0 1 0 4 0a2.0 2.0 0 1 0 -4 0M436.5 65.5a2.0 2.0 0 1 0 4 0a2.0 2.0 0 1 0 -4 0M438.5 65.8a2.0 2.0 0 1 0 4 0a2.0 2.0 0 1 0 -4 0M445.2 65a2.0 2.0 0 1 0 4 0a2.0 2.0 0 1 0 -4 0M451.1 63.7a2.0 2.0 0 1 0 4 0a2.0 2.0 0 1 0 -4 0M451.1 66.2a2.0 2.0 0 1 0 4 0a2.0 2.0 0 1 0 -4 0M458.3 64.2a2.0 2.0 0 1 0 4 0a2.0 2.0 0 1 0 -4 0M462 64.9a2.0 2.0 0 1 0 4 0a2.0 2.0 0 1 0 -4 0M470.8 64.9a2.0 2.0 0 1 0 4 0a2.0 2.0 0 1 0 -4 0M472.9 66.2a2.0 2.0 0 1 0 4 0a2.0 2.0 0 1 0 -4 0M474.6 67a2.0 2.0 0 1 0 4 0a2.0 2.0 0 1 0 -4 0M475.5 67.9a2.0 2.0 0 1 0 4 0a2.0 2.0 0 1 0 -4 0M476 72.1a2.0 2.0 0 1 0 4 0a2.0 2.0 0 1 0 -4 0M480.2 67.9a2.0 2.0 0 1 0 4 0a2.0 2.0 0 1 0 -4 0M480.8 76.3a2.0 2.0 0 1 0 4 0a2.0 2.0 0 1 0 -4 0M480.8 77.3a2.0 2.0 0 1 0 4 0a2.0 2.0 0 1 0 -4 0M486.9 65a2.0 2.0 0 1 0 4 0a2.0 2.0 0 1 0 -4 0M504 60.3a2.0 2.0 0 1 0 4 0a2.0 2.0 0 1 0 -4 0M520 82.7a2.0 2.0 0 1 0 4 0a2.0 2.0 0 1 0 -4 0M516.3 88.5a2.0 2.0 0 1 0 4 0a2.0 2.0 0 1 0 -4 0M528.8 75.8a2.0 2.0 0 1 0 4 0a2.0 2.0 0 1 0 -4 0M668.6 28.8a2.0 2.0 0 1 0 4 0a2.0 2.0 0 1 0 -4 0M677.2 48.2a2.0 2.0 0 1 0 4 0a2.0 2.0 0 1 0 -4 0M674.1 81.8a2.0 2.0 0 1 0 4 0a2.0 2.0 0 1 0 -4 0M661.9 115.8a2.0 2.0 0 1 0 4 0a2.0 2.0 0 1 0 -4 0" fill="#dc4a3c" fill-opacity="0.45"/>
<path d="M417.7 65a1.3 1.3 0 1 0 2.6 0a1.3 1.3 0 1 0 -2.6 0M433.3 65a1.3 1.3 0 1 0 2.6 0a1.3 1.3 0 1 0 -2.6 0M435.2 64.8a1.3 1.3 0 1 0 2.6 0a1.3 1.3 0 1 0 -2.6 0M437.2 65.5a1.3 1.3 0 1 0 2.6 0a1.3 1.3 0 1 0 -2.6 0M439.2 65.8a1.3 1.3 0 1 0 2.6 0a1.3 1.3 0 1 0 -2.6 0M445.9 65a1.3 1.3 0 1 0 2.6 0a1.3 1.3 0 1 0 -2.6 0M451.8 63.7a1.3 1.3 0 1 0 2.6 0a1.3 1.3 0 1 0 -2.6 0M451.8 66.2a1.3 1.3 0 1 0 2.6 0a1.3 1.3 0 1 0 -2.6 0M459 64.2a1.3 1.3 0 1 0 2.6 0a1.3 1.3 0 1 0 -2.6 0M462.7 64.9a1.3 1.3 0 1 0 2.6 0a1.3 1.3 0 1 0 -2.6 0M471.5 64.9a1.3 1.3 0 1 0 2.6 0a1.3 1.3 0 1 0 -2.6 0M473.6 66.2a1.3 1.3 0 1 0 2.6 0a1.3 1.3 0 1 0 -2.6 0M475.3 67a1.3 1.3 0 1 0 2.6 0a1.3 1.3 0 1 0 -2.6 0M476.2 67.9a1.3 1.3 0 1 0 2.6 0a1.3 1.3 0 1 0 -2.6 0M476.7 72.1a1.3 1.3 0 1 0 2.6 0a1.3 1.3 0 1 0 -2.6 0M480.9 67.9a1.3 1.3 0 1 0 2.6 0a1.3 1.3 0 1 0 -2.6 0M481.5 76.3a1.3 1.3 0 1 0 2.6 0a1.3 1.3 0 1 0 -2.6 0M481.5 77.3a1.3 1.3 0 1 0 2.6 0a1.3 1.3 0 1 0 -2.6 0M487.6 65a1.3 1.3 0 1 0 2.6 0a1.3 1.3 0 1 0 -2.6 0M504.7 60.3a1.3 1.3 0 1 0 2.6 0a1.3 1.3 0 1 0 -2.6 0M520.7 82.7a1.3 1.3 0 1 0 2.6 0a1.3 1.3 0 1 0 -2.6 0M517 88.5a1.3 1.3 0 1 0 2.6 0a1.3 1.3 0 1 0 -2.6 0M529.5 75.8a1.3 1.3 0 1 0 2.6 0a1.3 1.3 0 1 0 -2.6 0M669.3 28.8a1.3 1.3 0 1 0 2.6 0a1.3 1.3 0 1 0 -2.6 0M677.9 48.2a1.3 1.3 0 1 0 2.6 0a1.3 1.3 0 1 0 -2.6 0M674.8 81.8a1.3 1.3 0 1 0 2.6 0a1.3 1.3 0 1 0 -2.6 0M662.6 115.8a1.3 1.3 0 1 0 2.6 0a1.3 1.3 0 1 0 -2.6 0" fill="#a92419"/>
<text x="510.7" y="63.2" class="lb">BRA</text>
<text x="536.5" y="78" class="lb">IND</text>
<text x="527.8" y="86.4" class="lb">KOR</text>
<text x="523.6" y="95.6" class="lb">JPN</text>
<text x="651.3" y="34.8" class="lb">NGA</text>
<text x="659" y="53.3" class="lb">CHN</text>
<text x="656.8" y="82.5" class="lb">QAT</text>
<text x="648.4" y="111.5" class="lb">SAU</text>
<path d="M458.1 98.3L512.6 181.2M508.49 179.13L512.6 181.2L512.33 176.61" fill="none" stroke="#4a4a4a" stroke-width="1.0"/>
</g>
<g id="Bb">
<line x1="437.5" y1="180.9" x2="437.5" y2="317.2" stroke="#fafafa" stroke-width="1"/>
<line x1="513.5" y1="180.9" x2="513.5" y2="317.2" stroke="#fafafa" stroke-width="1"/>
<line x1="588.5" y1="180.9" x2="588.5" y2="317.2" stroke="#fafafa" stroke-width="1"/>
<line x1="664.5" y1="180.9" x2="664.5" y2="317.2" stroke="#fafafa" stroke-width="1"/>
<line x1="405.8" y1="203.5" x2="696.2" y2="203.5" stroke="#fafafa" stroke-width="1"/>
<line x1="405.8" y1="233.5" x2="696.2" y2="233.5" stroke="#fafafa" stroke-width="1"/>
<line x1="405.8" y1="264.5" x2="696.2" y2="264.5" stroke="#fafafa" stroke-width="1"/>
<line x1="405.8" y1="295.5" x2="696.2" y2="295.5" stroke="#fafafa" stroke-width="1"/>
<line x1="475.5" y1="180.9" x2="475.5" y2="317.2" stroke="#f4f4f4" stroke-width="1"/>
<line x1="551.5" y1="180.9" x2="551.5" y2="317.2" stroke="#f4f4f4" stroke-width="1"/>
<line x1="626.5" y1="180.9" x2="626.5" y2="317.2" stroke="#f4f4f4" stroke-width="1"/>
<line x1="405.8" y1="187.5" x2="696.2" y2="187.5" stroke="#f4f4f4" stroke-width="1"/>
<line x1="405.8" y1="218.5" x2="696.2" y2="218.5" stroke="#f4f4f4" stroke-width="1"/>
<line x1="405.8" y1="249.5" x2="696.2" y2="249.5" stroke="#f4f4f4" stroke-width="1"/>
<line x1="405.8" y1="280.5" x2="696.2" y2="280.5" stroke="#f4f4f4" stroke-width="1"/>
<line x1="405.8" y1="310.5" x2="696.2" y2="310.5" stroke="#f4f4f4" stroke-width="1"/>
<rect x="405.8" y="180.9" width="290.4" height="136.3" fill="none" stroke="#c6c6c6" stroke-width="0.9"/>
<path d="M475.64 317.2v2M551.1 317.2v2M626.56 317.2v2M405.8 187.6h-2M405.8 218.4h-2M405.8 249.2h-2M405.8 280h-2M405.8 310.8h-2" stroke="#c6c6c6" stroke-width="0.7"/>
<text x="475.64" y="324.36" text-anchor="middle" class="tk">−2.3</text>
<text x="551.1" y="324.36" text-anchor="middle" class="tk">−2.1</text>
<text x="626.56" y="324.36" text-anchor="middle" class="tk">−1.9</text>
<text x="402.6" y="189.16" text-anchor="end" class="tk">1.0</text>
<text x="402.6" y="219.96" text-anchor="end" class="tk">0.5</text>
<text x="402.6" y="250.76" text-anchor="end" class="tk">0.0</text>
<text x="402.6" y="281.56" text-anchor="end" class="tk">−0.5</text>
<text x="402.6" y="312.36" text-anchor="end" class="tk">−1.0</text>
<text x="551" y="332.88" text-anchor="middle" class="ti">Major</text>
<text transform="translate(389.28 249.05) rotate(-90)" text-anchor="middle" class="ti">Minor</text>
<path d="M427.25 237.5a1.85 1.85 0 1 0 3.7 0a1.85 1.85 0 1 0 -3.7 0M455.75 237.1a1.85 1.85 0 1 0 3.7 0a1.85 1.85 0 1 0 -3.7 0M460.45 236.8a1.85 1.85 0 1 0 3.7 0a1.85 1.85 0 1 0 -3.7 0M471.45 238a1.85 1.85 0 1 0 3.7 0a1.85 1.85 0 1 0 -3.7 0M475.65 238.5a1.85 1.85 0 1 0 3.7 0a1.85 1.85 0 1 0 -3.7 0M477.15 238.5a1.85 1.85 0 1 0 3.7 0a1.85 1.85 0 1 0 -3.7 0M479.15 238.8a1.85 1.85 0 1 0 3.7 0a1.85 1.85 0 1 0 -3.7 0M482.15 238.5a1.85 1.85 0 1 0 3.7 0a1.85 1.85 0 1 0 -3.7 0M484.15 238.8a1.85 1.85 0 1 0 3.7 0a1.85 1.85 0 1 0 -3.7 0M486.15 238.5a1.85 1.85 0 1 0 3.7 0a1.85 1.85 0 1 0 -3.7 0M488.15 238.8a1.85 1.85 0 1 0 3.7 0a1.85 1.85 0 1 0 -3.7 0M495.75 235.8a1.85 1.85 0 1 0 3.7 0a1.85 1.85 0 1 0 -3.7 0M499.15 237.1a1.85 1.85 0 1 0 3.7 0a1.85 1.85 0 1 0 -3.7 0M494.95 247.5a1.85 1.85 0 1 0 3.7 0a1.85 1.85 0 1 0 -3.7 0M511.35 238.8a1.85 1.85 0 1 0 3.7 0a1.85 1.85 0 1 0 -3.7 0M529.65 228.4a1.85 1.85 0 1 0 3.7 0a1.85 1.85 0 1 0 -3.7 0M525.95 235.8a1.85 1.85 0 1 0 3.7 0a1.85 1.85 0 1 0 -3.7 0M524.75 251.9a1.85 1.85 0 1 0 3.7 0a1.85 1.85 0 1 0 -3.7 0M560.65 226.2a1.85 1.85 0 1 0 3.7 0a1.85 1.85 0 1 0 -3.7 0M562.65 231.2a1.85 1.85 0 1 0 3.7 0a1.85 1.85 0 1 0 -3.7 0M589.05 238a1.85 1.85 0 1 0 3.7 0a1.85 1.85 0 1 0 -3.7 0M601.55 250.9a1.85 1.85 0 1 0 3.7 0a1.85 1.85 0 1 0 -3.7 0M621.95 245.5a1.85 1.85 0 1 0 3.7 0a1.85 1.85 0 1 0 -3.7 0M638.75 223.2a1.85 1.85 0 1 0 3.7 0a1.85 1.85 0 1 0 -3.7 0M648.75 217.5a1.85 1.85 0 1 0 3.7 0a1.85 1.85 0 1 0 -3.7 0M642.75 229.1a1.85 1.85 0 1 0 3.7 0a1.85 1.85 0 1 0 -3.7 0M661.75 224.9a1.85 1.85 0 1 0 3.7 0a1.85 1.85 0 1 0 -3.7 0M675.95 232.1a1.85 1.85 0 1 0 3.7 0a1.85 1.85 0 1 0 -3.7 0M681.55 248.5a1.85 1.85 0 1 0 3.7 0a1.85 1.85 0 1 0 -3.7 0M692.75 229.9a1.85 1.85 0 1 0 3.7 0a1.85 1.85 0 1 0 -3.7 0M598.45 267.6a1.85 1.85 0 1 0 3.7 0a1.85 1.85 0 1 0 -3.7 0M531.95 280.6a1.85 1.85 0 1 0 3.7 0a1.85 1.85 0 1 0 -3.7 0M667.55 299.5a1.85 1.85 0 1 0 3.7 0a1.85 1.85 0 1 0 -3.7 0M671.75 300.4a1.85 1.85 0 1 0 3.7 0a1.85 1.85 0 1 0 -3.7 0" fill="#8a8a8a" fill-opacity="0.35"/>
<path d="M427.85 237.5a1.25 1.25 0 1 0 2.5 0a1.25 1.25 0 1 0 -2.5 0M456.35 237.1a1.25 1.25 0 1 0 2.5 0a1.25 1.25 0 1 0 -2.5 0M461.05 236.8a1.25 1.25 0 1 0 2.5 0a1.25 1.25 0 1 0 -2.5 0M472.05 238a1.25 1.25 0 1 0 2.5 0a1.25 1.25 0 1 0 -2.5 0M476.25 238.5a1.25 1.25 0 1 0 2.5 0a1.25 1.25 0 1 0 -2.5 0M477.75 238.5a1.25 1.25 0 1 0 2.5 0a1.25 1.25 0 1 0 -2.5 0M479.75 238.8a1.25 1.25 0 1 0 2.5 0a1.25 1.25 0 1 0 -2.5 0M482.75 238.5a1.25 1.25 0 1 0 2.5 0a1.25 1.25 0 1 0 -2.5 0M484.75 238.8a1.25 1.25 0 1 0 2.5 0a1.25 1.25 0 1 0 -2.5 0M486.75 238.5a1.25 1.25 0 1 0 2.5 0a1.25 1.25 0 1 0 -2.5 0M488.75 238.8a1.25 1.25 0 1 0 2.5 0a1.25 1.25 0 1 0 -2.5 0M496.35 235.8a1.25 1.25 0 1 0 2.5 0a1.25 1.25 0 1 0 -2.5 0M499.75 237.1a1.25 1.25 0 1 0 2.5 0a1.25 1.25 0 1 0 -2.5 0M495.55 247.5a1.25 1.25 0 1 0 2.5 0a1.25 1.25 0 1 0 -2.5 0M511.95 238.8a1.25 1.25 0 1 0 2.5 0a1.25 1.25 0 1 0 -2.5 0M530.25 228.4a1.25 1.25 0 1 0 2.5 0a1.25 1.25 0 1 0 -2.5 0M526.55 235.8a1.25 1.25 0 1 0 2.5 0a1.25 1.25 0 1 0 -2.5 0M525.35 251.9a1.25 1.25 0 1 0 2.5 0a1.25 1.25 0 1 0 -2.5 0M561.25 226.2a1.25 1.25 0 1 0 2.5 0a1.25 1.25 0 1 0 -2.5 0M563.25 231.2a1.25 1.25 0 1 0 2.5 0a1.25 1.25 0 1 0 -2.5 0M589.65 238a1.25 1.25 0 1 0 2.5 0a1.25 1.25 0 1 0 -2.5 0M602.15 250.9a1.25 1.25 0 1 0 2.5 0a1.25 1.25 0 1 0 -2.5 0M622.55 245.5a1.25 1.25 0 1 0 2.5 0a1.25 1.25 0 1 0 -2.5 0M639.35 223.2a1.25 1.25 0 1 0 2.5 0a1.25 1.25 0 1 0 -2.5 0M649.35 217.5a1.25 1.25 0 1 0 2.5 0a1.25 1.25 0 1 0 -2.5 0M643.35 229.1a1.25 1.25 0 1 0 2.5 0a1.25 1.25 0 1 0 -2.5 0M662.35 224.9a1.25 1.25 0 1 0 2.5 0a1.25 1.25 0 1 0 -2.5 0M676.55 232.1a1.25 1.25 0 1 0 2.5 0a1.25 1.25 0 1 0 -2.5 0M682.15 248.5a1.25 1.25 0 1 0 2.5 0a1.25 1.25 0 1 0 -2.5 0M693.35 229.9a1.25 1.25 0 1 0 2.5 0a1.25 1.25 0 1 0 -2.5 0M599.05 267.6a1.25 1.25 0 1 0 2.5 0a1.25 1.25 0 1 0 -2.5 0M532.55 280.6a1.25 1.25 0 1 0 2.5 0a1.25 1.25 0 1 0 -2.5 0M668.15 299.5a1.25 1.25 0 1 0 2.5 0a1.25 1.25 0 1 0 -2.5 0M672.35 300.4a1.25 1.25 0 1 0 2.5 0a1.25 1.25 0 1 0 -2.5 0" fill="#575757"/>
<path d="M423.4 237.5a2.0 2.0 0 1 0 4 0a2.0 2.0 0 1 0 -4 0M480.2 236.3a2.0 2.0 0 1 0 4 0a2.0 2.0 0 1 0 -4 0M480.8 237.1a2.0 2.0 0 1 0 4 0a2.0 2.0 0 1 0 -4 0M489.7 238.8a2.0 2.0 0 1 0 4 0a2.0 2.0 0 1 0 -4 0M492.2 237.5a2.0 2.0 0 1 0 4 0a2.0 2.0 0 1 0 -4 0M493.6 236.3a2.0 2.0 0 1 0 4 0a2.0 2.0 0 1 0 -4 0M521.6 236.8a2.0 2.0 0 1 0 4 0a2.0 2.0 0 1 0 -4 0M541.4 231.7a2.0 2.0 0 1 0 4 0a2.0 2.0 0 1 0 -4 0M540.9 239.3a2.0 2.0 0 1 0 4 0a2.0 2.0 0 1 0 -4 0M565.3 235.1a2.0 2.0 0 1 0 4 0a2.0 2.0 0 1 0 -4 0M567 234.1a2.0 2.0 0 1 0 4 0a2.0 2.0 0 1 0 -4 0M579.6 237.1a2.0 2.0 0 1 0 4 0a2.0 2.0 0 1 0 -4 0M609.5 238.5a2.0 2.0 0 1 0 4 0a2.0 2.0 0 1 0 -4 0M610.3 237.5a2.0 2.0 0 1 0 4 0a2.0 2.0 0 1 0 -4 0M619.9 242.2a2.0 2.0 0 1 0 4 0a2.0 2.0 0 1 0 -4 0M625.5 244.7a2.0 2.0 0 1 0 4 0a2.0 2.0 0 1 0 -4 0M643.1 246.4a2.0 2.0 0 1 0 4 0a2.0 2.0 0 1 0 -4 0M665.8 236.6a2.0 2.0 0 1 0 4 0a2.0 2.0 0 1 0 -4 0M628.3 264a2.0 2.0 0 1 0 4 0a2.0 2.0 0 1 0 -4 0M644.3 276.9a2.0 2.0 0 1 0 4 0a2.0 2.0 0 1 0 -4 0M645.3 280.7a2.0 2.0 0 1 0 4 0a2.0 2.0 0 1 0 -4 0" fill="#dc4a3c" fill-opacity="0.45"/>
<path d="M424.1 237.5a1.3 1.3 0 1 0 2.6 0a1.3 1.3 0 1 0 -2.6 0M480.9 236.3a1.3 1.3 0 1 0 2.6 0a1.3 1.3 0 1 0 -2.6 0M481.5 237.1a1.3 1.3 0 1 0 2.6 0a1.3 1.3 0 1 0 -2.6 0M490.4 238.8a1.3 1.3 0 1 0 2.6 0a1.3 1.3 0 1 0 -2.6 0M492.9 237.5a1.3 1.3 0 1 0 2.6 0a1.3 1.3 0 1 0 -2.6 0M494.3 236.3a1.3 1.3 0 1 0 2.6 0a1.3 1.3 0 1 0 -2.6 0M522.3 236.8a1.3 1.3 0 1 0 2.6 0a1.3 1.3 0 1 0 -2.6 0M542.1 231.7a1.3 1.3 0 1 0 2.6 0a1.3 1.3 0 1 0 -2.6 0M541.6 239.3a1.3 1.3 0 1 0 2.6 0a1.3 1.3 0 1 0 -2.6 0M566 235.1a1.3 1.3 0 1 0 2.6 0a1.3 1.3 0 1 0 -2.6 0M567.7 234.1a1.3 1.3 0 1 0 2.6 0a1.3 1.3 0 1 0 -2.6 0M580.3 237.1a1.3 1.3 0 1 0 2.6 0a1.3 1.3 0 1 0 -2.6 0M610.2 238.5a1.3 1.3 0 1 0 2.6 0a1.3 1.3 0 1 0 -2.6 0M611 237.5a1.3 1.3 0 1 0 2.6 0a1.3 1.3 0 1 0 -2.6 0M620.6 242.2a1.3 1.3 0 1 0 2.6 0a1.3 1.3 0 1 0 -2.6 0M626.2 244.7a1.3 1.3 0 1 0 2.6 0a1.3 1.3 0 1 0 -2.6 0M643.8 246.4a1.3 1.3 0 1 0 2.6 0a1.3 1.3 0 1 0 -2.6 0M666.5 236.6a1.3 1.3 0 1 0 2.6 0a1.3 1.3 0 1 0 -2.6 0M629 264a1.3 1.3 0 1 0 2.6 0a1.3 1.3 0 1 0 -2.6 0M645 276.9a1.3 1.3 0 1 0 2.6 0a1.3 1.3 0 1 0 -2.6 0M646 280.7a1.3 1.3 0 1 0 2.6 0a1.3 1.3 0 1 0 -2.6 0" fill="#a92419"/>
<text x="408.8" y="245.9" class="ls" style="font-size:6.5px">World</text>
<text x="466" y="232.6" class="lb">MEX</text>
<text x="490" y="219.5" class="lb">NOR</text>
<text x="490.5" y="227" class="lb">BEL</text>
<text x="490" y="234.6" class="lb">CAN</text>
<text x="516.4" y="233.4" class="lb">DZA</text>
<text x="546.9" y="235" class="lb">RUS</text>
<text x="546.9" y="241.8" class="lb">KAZ</text>
<text x="565" y="229.6" class="lb">GBR</text>
<text x="562.8" y="243.8" class="lb">DEU</text>
<text x="578.8" y="234.6" class="lb">NLD</text>
<text x="599.8" y="234.6" class="lb">EU-28</text>
<text x="622.8" y="240.1" class="lb">FRA</text>
<text x="626.1" y="253.9" class="lb">ITA</text>
<text x="649.6" y="248.9" class="lb">USA</text>
<text x="671.6" y="243" class="lb">ESP</text>
<text x="615.7" y="269.6" class="lb">IDN</text>
<text x="650.1" y="276" class="lb">AUS</text>
<text x="651" y="287.8" class="lb">MYS</text>
</g>
<g id="Ct">
<line x1="804.5" y1="21" x2="804.5" y2="157.2" stroke="#fafafa" stroke-width="1"/>
<line x1="860.5" y1="21" x2="860.5" y2="157.2" stroke="#fafafa" stroke-width="1"/>
<line x1="917.5" y1="21" x2="917.5" y2="157.2" stroke="#fafafa" stroke-width="1"/>
<line x1="973.5" y1="21" x2="973.5" y2="157.2" stroke="#fafafa" stroke-width="1"/>
<line x1="1030.5" y1="21" x2="1030.5" y2="157.2" stroke="#fafafa" stroke-width="1"/>
<line x1="776.6" y1="42.5" x2="1070.6" y2="42.5" stroke="#fafafa" stroke-width="1"/>
<line x1="776.6" y1="73.5" x2="1070.6" y2="73.5" stroke="#fafafa" stroke-width="1"/>
<line x1="776.6" y1="104.5" x2="1070.6" y2="104.5" stroke="#fafafa" stroke-width="1"/>
<line x1="776.6" y1="135.5" x2="1070.6" y2="135.5" stroke="#fafafa" stroke-width="1"/>
<line x1="832.5" y1="21" x2="832.5" y2="157.2" stroke="#f4f4f4" stroke-width="1"/>
<line x1="889.5" y1="21" x2="889.5" y2="157.2" stroke="#f4f4f4" stroke-width="1"/>
<line x1="945.5" y1="21" x2="945.5" y2="157.2" stroke="#f4f4f4" stroke-width="1"/>
<line x1="1002.5" y1="21" x2="1002.5" y2="157.2" stroke="#f4f4f4" stroke-width="1"/>
<line x1="1058.5" y1="21" x2="1058.5" y2="157.2" stroke="#f4f4f4" stroke-width="1"/>
<line x1="776.6" y1="27.5" x2="1070.6" y2="27.5" stroke="#f4f4f4" stroke-width="1"/>
<line x1="776.6" y1="58.5" x2="1070.6" y2="58.5" stroke="#f4f4f4" stroke-width="1"/>
<line x1="776.6" y1="89.5" x2="1070.6" y2="89.5" stroke="#f4f4f4" stroke-width="1"/>
<line x1="776.6" y1="120.5" x2="1070.6" y2="120.5" stroke="#f4f4f4" stroke-width="1"/>
<line x1="776.6" y1="151.5" x2="1070.6" y2="151.5" stroke="#f4f4f4" stroke-width="1"/>
<rect x="776.6" y="21" width="294" height="136.2" fill="none" stroke="#c6c6c6" stroke-width="0.9"/>
<path d="M832.6 157.2v2M889.1 157.2v2M945.6 157.2v2M1002.1 157.2v2M1058.6 157.2v2M776.6 27.35h-2M776.6 58.3h-2M776.6 89.25h-2M776.6 120.2h-2M776.6 151.15h-2" stroke="#c6c6c6" stroke-width="0.7"/>
<text x="832.6" y="164.36" text-anchor="middle" class="tk">−2.0</text>
<text x="889.1" y="164.36" text-anchor="middle" class="tk">−1.5</text>
<text x="945.6" y="164.36" text-anchor="middle" class="tk">−1.0</text>
<text x="1002.1" y="164.36" text-anchor="middle" class="tk">−0.5</text>
<text x="1058.6" y="164.36" text-anchor="middle" class="tk">0.0</text>
<text x="773.4" y="28.91" text-anchor="end" class="tk">1</text>
<text x="773.4" y="59.86" text-anchor="end" class="tk">0</text>
<text x="773.4" y="90.81" text-anchor="end" class="tk">−1</text>
<text x="773.4" y="121.76" text-anchor="end" class="tk">−2</text>
<text x="773.4" y="152.71" text-anchor="end" class="tk">−3</text>
<text x="923.6" y="172.88" text-anchor="middle" class="ti">Major</text>
<text transform="translate(764.28 89.1) rotate(-90)" text-anchor="middle" class="ti">Minor</text>
<rect x="782.3" y="27.2" width="86.4" height="62.1" fill="none" stroke="#606060" stroke-width="1.1"/>
<path d="M794.35 47a1.85 1.85 0 1 0 3.7 0a1.85 1.85 0 1 0 -3.7 0M796.45 47a1.85 1.85 0 1 0 3.7 0a1.85 1.85 0 1 0 -3.7 0M798.55 47a1.85 1.85 0 1 0 3.7 0a1.85 1.85 0 1 0 -3.7 0M801.05 47.5a1.85 1.85 0 1 0 3.7 0a1.85 1.85 0 1 0 -3.7 0M802.25 55.1a1.85 1.85 0 1 0 3.7 0a1.85 1.85 0 1 0 -3.7 0M803.15 58.8a1.85 1.85 0 1 0 3.7 0a1.85 1.85 0 1 0 -3.7 0M807.75 48.7a1.85 1.85 0 1 0 3.7 0a1.85 1.85 0 1 0 -3.7 0M809.65 48.7a1.85 1.85 0 1 0 3.7 0a1.85 1.85 0 1 0 -3.7 0M811.65 48.5a1.85 1.85 0 1 0 3.7 0a1.85 1.85 0 1 0 -3.7 0M813.65 48.7a1.85 1.85 0 1 0 3.7 0a1.85 1.85 0 1 0 -3.7 0M815.35 48.7a1.85 1.85 0 1 0 3.7 0a1.85 1.85 0 1 0 -3.7 0M817.05 50.4a1.85 1.85 0 1 0 3.7 0a1.85 1.85 0 1 0 -3.7 0M817.05 53.4a1.85 1.85 0 1 0 3.7 0a1.85 1.85 0 1 0 -3.7 0M820.35 49.5a1.85 1.85 0 1 0 3.7 0a1.85 1.85 0 1 0 -3.7 0M828.75 47.9a1.85 1.85 0 1 0 3.7 0a1.85 1.85 0 1 0 -3.7 0M828.75 49.5a1.85 1.85 0 1 0 3.7 0a1.85 1.85 0 1 0 -3.7 0M832.95 60.4a1.85 1.85 0 1 0 3.7 0a1.85 1.85 0 1 0 -3.7 0M815.85 70.9a1.85 1.85 0 1 0 3.7 0a1.85 1.85 0 1 0 -3.7 0M831.65 71.9a1.85 1.85 0 1 0 3.7 0a1.85 1.85 0 1 0 -3.7 0M831.65 75.6a1.85 1.85 0 1 0 3.7 0a1.85 1.85 0 1 0 -3.7 0M848.45 64.3a1.85 1.85 0 1 0 3.7 0a1.85 1.85 0 1 0 -3.7 0M848.45 66.3a1.85 1.85 0 1 0 3.7 0a1.85 1.85 0 1 0 -3.7 0M848.45 76.4a1.85 1.85 0 1 0 3.7 0a1.85 1.85 0 1 0 -3.7 0M848.45 79.2a1.85 1.85 0 1 0 3.7 0a1.85 1.85 0 1 0 -3.7 0M861.55 84.8a1.85 1.85 0 1 0 3.7 0a1.85 1.85 0 1 0 -3.7 0M864.85 47.9a1.85 1.85 0 1 0 3.7 0a1.85 1.85 0 1 0 -3.7 0M864.85 52.4a1.85 1.85 0 1 0 3.7 0a1.85 1.85 0 1 0 -3.7 0M868.25 71.4a1.85 1.85 0 1 0 3.7 0a1.85 1.85 0 1 0 -3.7 0M874.95 56.2a1.85 1.85 0 1 0 3.7 0a1.85 1.85 0 1 0 -3.7 0M876.65 52a1.85 1.85 0 1 0 3.7 0a1.85 1.85 0 1 0 -3.7 0M882.55 57.4a1.85 1.85 0 1 0 3.7 0a1.85 1.85 0 1 0 -3.7 0M881.15 44a1.85 1.85 0 1 0 3.7 0a1.85 1.85 0 1 0 -3.7 0M887.85 47a1.85 1.85 0 1 0 3.7 0a1.85 1.85 0 1 0 -3.7 0M909.35 56.8a1.85 1.85 0 1 0 3.7 0a1.85 1.85 0 1 0 -3.7 0M919.75 36a1.85 1.85 0 1 0 3.7 0a1.85 1.85 0 1 0 -3.7 0M919.75 39.6a1.85 1.85 0 1 0 3.7 0a1.85 1.85 0 1 0 -3.7 0M922.05 46.1a1.85 1.85 0 1 0 3.7 0a1.85 1.85 0 1 0 -3.7 0M922.05 47.7a1.85 1.85 0 1 0 3.7 0a1.85 1.85 0 1 0 -3.7 0M922.05 54.1a1.85 1.85 0 1 0 3.7 0a1.85 1.85 0 1 0 -3.7 0M905.65 113.2a1.85 1.85 0 1 0 3.7 0a1.85 1.85 0 1 0 -3.7 0M904.35 123.1a1.85 1.85 0 1 0 3.7 0a1.85 1.85 0 1 0 -3.7 0M1050.95 32.3a1.85 1.85 0 1 0 3.7 0a1.85 1.85 0 1 0 -3.7 0M1047.95 46.6a1.85 1.85 0 1 0 3.7 0a1.85 1.85 0 1 0 -3.7 0M1056.35 46.1a1.85 1.85 0 1 0 3.7 0a1.85 1.85 0 1 0 -3.7 0M1056.35 48.2a1.85 1.85 0 1 0 3.7 0a1.85 1.85 0 1 0 -3.7 0M1054.65 56.1a1.85 1.85 0 1 0 3.7 0a1.85 1.85 0 1 0 -3.7 0M1055.65 58a1.85 1.85 0 1 0 3.7 0a1.85 1.85 0 1 0 -3.7 0M1056.65 60a1.85 1.85 0 1 0 3.7 0a1.85 1.85 0 1 0 -3.7 0M1055.65 62a1.85 1.85 0 1 0 3.7 0a1.85 1.85 0 1 0 -3.7 0M1054.95 62.9a1.85 1.85 0 1 0 3.7 0a1.85 1.85 0 1 0 -3.7 0M1057.15 57a1.85 1.85 0 1 0 3.7 0a1.85 1.85 0 1 0 -3.7 0M1048.85 60.7a1.85 1.85 0 1 0 3.7 0a1.85 1.85 0 1 0 -3.7 0M1052.65 69.2a1.85 1.85 0 1 0 3.7 0a1.85 1.85 0 1 0 -3.7 0M1051.35 82.7a1.85 1.85 0 1 0 3.7 0a1.85 1.85 0 1 0 -3.7 0M1051.85 87.2a1.85 1.85 0 1 0 3.7 0a1.85 1.85 0 1 0 -3.7 0" fill="#8a8a8a" fill-opacity="0.35"/>
<path d="M794.95 47a1.25 1.25 0 1 0 2.5 0a1.25 1.25 0 1 0 -2.5 0M797.05 47a1.25 1.25 0 1 0 2.5 0a1.25 1.25 0 1 0 -2.5 0M799.15 47a1.25 1.25 0 1 0 2.5 0a1.25 1.25 0 1 0 -2.5 0M801.65 47.5a1.25 1.25 0 1 0 2.5 0a1.25 1.25 0 1 0 -2.5 0M802.85 55.1a1.25 1.25 0 1 0 2.5 0a1.25 1.25 0 1 0 -2.5 0M803.75 58.8a1.25 1.25 0 1 0 2.5 0a1.25 1.25 0 1 0 -2.5 0M808.35 48.7a1.25 1.25 0 1 0 2.5 0a1.25 1.25 0 1 0 -2.5 0M810.25 48.7a1.25 1.25 0 1 0 2.5 0a1.25 1.25 0 1 0 -2.5 0M812.25 48.5a1.25 1.25 0 1 0 2.5 0a1.25 1.25 0 1 0 -2.5 0M814.25 48.7a1.25 1.25 0 1 0 2.5 0a1.25 1.25 0 1 0 -2.5 0M815.95 48.7a1.25 1.25 0 1 0 2.5 0a1.25 1.25 0 1 0 -2.5 0M817.65 50.4a1.25 1.25 0 1 0 2.5 0a1.25 1.25 0 1 0 -2.5 0M817.65 53.4a1.25 1.25 0 1 0 2.5 0a1.25 1.25 0 1 0 -2.5 0M820.95 49.5a1.25 1.25 0 1 0 2.5 0a1.25 1.25 0 1 0 -2.5 0M829.35 47.9a1.25 1.25 0 1 0 2.5 0a1.25 1.25 0 1 0 -2.5 0M829.35 49.5a1.25 1.25 0 1 0 2.5 0a1.25 1.25 0 1 0 -2.5 0M833.55 60.4a1.25 1.25 0 1 0 2.5 0a1.25 1.25 0 1 0 -2.5 0M816.45 70.9a1.25 1.25 0 1 0 2.5 0a1.25 1.25 0 1 0 -2.5 0M832.25 71.9a1.25 1.25 0 1 0 2.5 0a1.25 1.25 0 1 0 -2.5 0M832.25 75.6a1.25 1.25 0 1 0 2.5 0a1.25 1.25 0 1 0 -2.5 0M849.05 64.3a1.25 1.25 0 1 0 2.5 0a1.25 1.25 0 1 0 -2.5 0M849.05 66.3a1.25 1.25 0 1 0 2.5 0a1.25 1.25 0 1 0 -2.5 0M849.05 76.4a1.25 1.25 0 1 0 2.5 0a1.25 1.25 0 1 0 -2.5 0M849.05 79.2a1.25 1.25 0 1 0 2.5 0a1.25 1.25 0 1 0 -2.5 0M862.15 84.8a1.25 1.25 0 1 0 2.5 0a1.25 1.25 0 1 0 -2.5 0M865.45 47.9a1.25 1.25 0 1 0 2.5 0a1.25 1.25 0 1 0 -2.5 0M865.45 52.4a1.25 1.25 0 1 0 2.5 0a1.25 1.25 0 1 0 -2.5 0M868.85 71.4a1.25 1.25 0 1 0 2.5 0a1.25 1.25 0 1 0 -2.5 0M875.55 56.2a1.25 1.25 0 1 0 2.5 0a1.25 1.25 0 1 0 -2.5 0M877.25 52a1.25 1.25 0 1 0 2.5 0a1.25 1.25 0 1 0 -2.5 0M883.15 57.4a1.25 1.25 0 1 0 2.5 0a1.25 1.25 0 1 0 -2.5 0M881.75 44a1.25 1.25 0 1 0 2.5 0a1.25 1.25 0 1 0 -2.5 0M888.45 47a1.25 1.25 0 1 0 2.5 0a1.25 1.25 0 1 0 -2.5 0M909.95 56.8a1.25 1.25 0 1 0 2.5 0a1.25 1.25 0 1 0 -2.5 0M920.35 36a1.25 1.25 0 1 0 2.5 0a1.25 1.25 0 1 0 -2.5 0M920.35 39.6a1.25 1.25 0 1 0 2.5 0a1.25 1.25 0 1 0 -2.5 0M922.65 46.1a1.25 1.25 0 1 0 2.5 0a1.25 1.25 0 1 0 -2.5 0M922.65 47.7a1.25 1.25 0 1 0 2.5 0a1.25 1.25 0 1 0 -2.5 0M922.65 54.1a1.25 1.25 0 1 0 2.5 0a1.25 1.25 0 1 0 -2.5 0M906.25 113.2a1.25 1.25 0 1 0 2.5 0a1.25 1.25 0 1 0 -2.5 0M904.95 123.1a1.25 1.25 0 1 0 2.5 0a1.25 1.25 0 1 0 -2.5 0M1051.55 32.3a1.25 1.25 0 1 0 2.5 0a1.25 1.25 0 1 0 -2.5 0M1048.55 46.6a1.25 1.25 0 1 0 2.5 0a1.25 1.25 0 1 0 -2.5 0M1056.95 46.1a1.25 1.25 0 1 0 2.5 0a1.25 1.25 0 1 0 -2.5 0M1056.95 48.2a1.25 1.25 0 1 0 2.5 0a1.25 1.25 0 1 0 -2.5 0M1055.25 56.1a1.25 1.25 0 1 0 2.5 0a1.25 1.25 0 1 0 -2.5 0M1056.25 58a1.25 1.25 0 1 0 2.5 0a1.25 1.25 0 1 0 -2.5 0M1057.25 60a1.25 1.25 0 1 0 2.5 0a1.25 1.25 0 1 0 -2.5 0M1056.25 62a1.25 1.25 0 1 0 2.5 0a1.25 1.25 0 1 0 -2.5 0M1055.55 62.9a1.25 1.25 0 1 0 2.5 0a1.25 1.25 0 1 0 -2.5 0M1057.75 57a1.25 1.25 0 1 0 2.5 0a1.25 1.25 0 1 0 -2.5 0M1049.45 60.7a1.25 1.25 0 1 0 2.5 0a1.25 1.25 0 1 0 -2.5 0M1053.25 69.2a1.25 1.25 0 1 0 2.5 0a1.25 1.25 0 1 0 -2.5 0M1051.95 82.7a1.25 1.25 0 1 0 2.5 0a1.25 1.25 0 1 0 -2.5 0M1052.45 87.2a1.25 1.25 0 1 0 2.5 0a1.25 1.25 0 1 0 -2.5 0" fill="#575757"/>
<path d="M788 46.5a2.0 2.0 0 1 0 4 0a2.0 2.0 0 1 0 -4 0M800.9 49.5a2.0 2.0 0 1 0 4 0a2.0 2.0 0 1 0 -4 0M802.6 52a2.0 2.0 0 1 0 4 0a2.0 2.0 0 1 0 -4 0M804.3 52.9a2.0 2.0 0 1 0 4 0a2.0 2.0 0 1 0 -4 0M816 54.6a2.0 2.0 0 1 0 4 0a2.0 2.0 0 1 0 -4 0M817.7 53.4a2.0 2.0 0 1 0 4 0a2.0 2.0 0 1 0 -4 0M809.8 56.2a2.0 2.0 0 1 0 4 0a2.0 2.0 0 1 0 -4 0M813.2 57.1a2.0 2.0 0 1 0 4 0a2.0 2.0 0 1 0 -4 0M823.3 49.2a2.0 2.0 0 1 0 4 0a2.0 2.0 0 1 0 -4 0M833.7 49.9a2.0 2.0 0 1 0 4 0a2.0 2.0 0 1 0 -4 0M823.3 63.8a2.0 2.0 0 1 0 4 0a2.0 2.0 0 1 0 -4 0M828.6 64.6a2.0 2.0 0 1 0 4 0a2.0 2.0 0 1 0 -4 0M829.5 64.6a2.0 2.0 0 1 0 4 0a2.0 2.0 0 1 0 -4 0M837.9 70.2a2.0 2.0 0 1 0 4 0a2.0 2.0 0 1 0 -4 0M842.9 50.4a2.0 2.0 0 1 0 4 0a2.0 2.0 0 1 0 -4 0M843.4 55.4a2.0 2.0 0 1 0 4 0a2.0 2.0 0 1 0 -4 0M845.4 55.9a2.0 2.0 0 1 0 4 0a2.0 2.0 0 1 0 -4 0M848.4 58.8a2.0 2.0 0 1 0 4 0a2.0 2.0 0 1 0 -4 0M844.2 68a2.0 2.0 0 1 0 4 0a2.0 2.0 0 1 0 -4 0M853 52.9a2.0 2.0 0 1 0 4 0a2.0 2.0 0 1 0 -4 0M852 53.5a2.0 2.0 0 1 0 4 0a2.0 2.0 0 1 0 -4 0M853.5 73a2.0 2.0 0 1 0 4 0a2.0 2.0 0 1 0 -4 0M855.8 80.9a2.0 2.0 0 1 0 4 0a2.0 2.0 0 1 0 -4 0M861.4 70.2a2.0 2.0 0 1 0 4 0a2.0 2.0 0 1 0 -4 0M879 55.4a2.0 2.0 0 1 0 4 0a2.0 2.0 0 1 0 -4 0M897.9 73.7a2.0 2.0 0 1 0 4 0a2.0 2.0 0 1 0 -4 0M878.2 100.7a2.0 2.0 0 1 0 4 0a2.0 2.0 0 1 0 -4 0M1051.2 25.9a2.0 2.0 0 1 0 4 0a2.0 2.0 0 1 0 -4 0M1053.7 54a2.0 2.0 0 1 0 4 0a2.0 2.0 0 1 0 -4 0M1034.7 90.2a2.0 2.0 0 1 0 4 0a2.0 2.0 0 1 0 -4 0" fill="#dc4a3c" fill-opacity="0.45"/>
<path d="M788.7 46.5a1.3 1.3 0 1 0 2.6 0a1.3 1.3 0 1 0 -2.6 0M801.6 49.5a1.3 1.3 0 1 0 2.6 0a1.3 1.3 0 1 0 -2.6 0M803.3 52a1.3 1.3 0 1 0 2.6 0a1.3 1.3 0 1 0 -2.6 0M805 52.9a1.3 1.3 0 1 0 2.6 0a1.3 1.3 0 1 0 -2.6 0M816.7 54.6a1.3 1.3 0 1 0 2.6 0a1.3 1.3 0 1 0 -2.6 0M818.4 53.4a1.3 1.3 0 1 0 2.6 0a1.3 1.3 0 1 0 -2.6 0M810.5 56.2a1.3 1.3 0 1 0 2.6 0a1.3 1.3 0 1 0 -2.6 0M813.9 57.1a1.3 1.3 0 1 0 2.6 0a1.3 1.3 0 1 0 -2.6 0M824 49.2a1.3 1.3 0 1 0 2.6 0a1.3 1.3 0 1 0 -2.6 0M834.4 49.9a1.3 1.3 0 1 0 2.6 0a1.3 1.3 0 1 0 -2.6 0M824 63.8a1.3 1.3 0 1 0 2.6 0a1.3 1.3 0 1 0 -2.6 0M829.3 64.6a1.3 1.3 0 1 0 2.6 0a1.3 1.3 0 1 0 -2.6 0M830.2 64.6a1.3 1.3 0 1 0 2.6 0a1.3 1.3 0 1 0 -2.6 0M838.6 70.2a1.3 1.3 0 1 0 2.6 0a1.3 1.3 0 1 0 -2.6 0M843.6 50.4a1.3 1.3 0 1 0 2.6 0a1.3 1.3 0 1 0 -2.6 0M844.1 55.4a1.3 1.3 0 1 0 2.6 0a1.3 1.3 0 1 0 -2.6 0M846.1 55.9a1.3 1.3 0 1 0 2.6 0a1.3 1.3 0 1 0 -2.6 0M849.1 58.8a1.3 1.3 0 1 0 2.6 0a1.3 1.3 0 1 0 -2.6 0M844.9 68a1.3 1.3 0 1 0 2.6 0a1.3 1.3 0 1 0 -2.6 0M853.7 52.9a1.3 1.3 0 1 0 2.6 0a1.3 1.3 0 1 0 -2.6 0M852.7 53.5a1.3 1.3 0 1 0 2.6 0a1.3 1.3 0 1 0 -2.6 0M854.2 73a1.3 1.3 0 1 0 2.6 0a1.3 1.3 0 1 0 -2.6 0M856.5 80.9a1.3 1.3 0 1 0 2.6 0a1.3 1.3 0 1 0 -2.6 0M862.1 70.2a1.3 1.3 0 1 0 2.6 0a1.3 1.3 0 1 0 -2.6 0M879.7 55.4a1.3 1.3 0 1 0 2.6 0a1.3 1.3 0 1 0 -2.6 0M898.6 73.7a1.3 1.3 0 1 0 2.6 0a1.3 1.3 0 1 0 -2.6 0M878.9 100.7a1.3 1.3 0 1 0 2.6 0a1.3 1.3 0 1 0 -2.6 0M1051.9 25.9a1.3 1.3 0 1 0 2.6 0a1.3 1.3 0 1 0 -2.6 0M1054.4 54a1.3 1.3 0 1 0 2.6 0a1.3 1.3 0 1 0 -2.6 0M1035.4 90.2a1.3 1.3 0 1 0 2.6 0a1.3 1.3 0 1 0 -2.6 0" fill="#a92419"/>
<text x="887.4" y="57.1" class="lb">JPN</text>
<text x="904.8" y="77.1" class="lb">IND</text>
<text x="885.7" y="104.3" class="lb">BRA</text>
<text x="1038.1" y="28.1" class="lb">CHN</text>
<text x="1041.4" y="55.8" class="lb">KOR</text>
<text x="1023.8" y="88" class="lb">SAU</text>
<path d="M824.8 89.3L864.5 181.4M860.81 178.65L864.5 181.4L865.04 176.83" fill="none" stroke="#4a4a4a" stroke-width="1.0"/>
</g>
<g id="Cb">
<line x1="829.5" y1="181.2" x2="829.5" y2="317.2" stroke="#fafafa" stroke-width="1"/>
<line x1="900.5" y1="181.2" x2="900.5" y2="317.2" stroke="#fafafa" stroke-width="1"/>
<line x1="970.5" y1="181.2" x2="970.5" y2="317.2" stroke="#fafafa" stroke-width="1"/>
<line x1="1041.5" y1="181.2" x2="1041.5" y2="317.2" stroke="#fafafa" stroke-width="1"/>
<line x1="781.6" y1="203.5" x2="1070.8" y2="203.5" stroke="#fafafa" stroke-width="1"/>
<line x1="781.6" y1="233.5" x2="1070.8" y2="233.5" stroke="#fafafa" stroke-width="1"/>
<line x1="781.6" y1="264.5" x2="1070.8" y2="264.5" stroke="#fafafa" stroke-width="1"/>
<line x1="781.6" y1="295.5" x2="1070.8" y2="295.5" stroke="#fafafa" stroke-width="1"/>
<line x1="794.5" y1="181.2" x2="794.5" y2="317.2" stroke="#f4f4f4" stroke-width="1"/>
<line x1="864.5" y1="181.2" x2="864.5" y2="317.2" stroke="#f4f4f4" stroke-width="1"/>
<line x1="935.5" y1="181.2" x2="935.5" y2="317.2" stroke="#f4f4f4" stroke-width="1"/>
<line x1="1006.5" y1="181.2" x2="1006.5" y2="317.2" stroke="#f4f4f4" stroke-width="1"/>
<line x1="781.6" y1="187.5" x2="1070.8" y2="187.5" stroke="#f4f4f4" stroke-width="1"/>
<line x1="781.6" y1="218.5" x2="1070.8" y2="218.5" stroke="#f4f4f4" stroke-width="1"/>
<line x1="781.6" y1="249.5" x2="1070.8" y2="249.5" stroke="#f4f4f4" stroke-width="1"/>
<line x1="781.6" y1="280.5" x2="1070.8" y2="280.5" stroke="#f4f4f4" stroke-width="1"/>
<line x1="781.6" y1="310.5" x2="1070.8" y2="310.5" stroke="#f4f4f4" stroke-width="1"/>
<rect x="781.6" y="181.2" width="289.2" height="136" fill="none" stroke="#c6c6c6" stroke-width="0.9"/>
<path d="M794 317.2v2M864.68 317.2v2M935.36 317.2v2M1006.04 317.2v2M781.6 187.6h-2M781.6 218.4h-2M781.6 249.2h-2M781.6 280h-2M781.6 310.8h-2" stroke="#c6c6c6" stroke-width="0.7"/>
<text x="794" y="324.36" text-anchor="middle" class="tk">−2.5</text>
<text x="864.68" y="324.36" text-anchor="middle" class="tk">−2.3</text>
<text x="935.36" y="324.36" text-anchor="middle" class="tk">−2.1</text>
<text x="1006.04" y="324.36" text-anchor="middle" class="tk">−1.9</text>
<text x="778.4" y="189.16" text-anchor="end" class="tk">1.0</text>
<text x="778.4" y="219.96" text-anchor="end" class="tk">0.5</text>
<text x="778.4" y="250.76" text-anchor="end" class="tk">0.0</text>
<text x="778.4" y="281.56" text-anchor="end" class="tk">−0.5</text>
<text x="778.4" y="312.36" text-anchor="end" class="tk">−1.0</text>
<text x="926.2" y="332.88" text-anchor="middle" class="ti">Major</text>
<text transform="translate(764.28 249.2) rotate(-90)" text-anchor="middle" class="ti">Minor</text>
<path d="M853.95 227a1.85 1.85 0 1 0 3.7 0a1.85 1.85 0 1 0 -3.7 0M862.05 227a1.85 1.85 0 1 0 3.7 0a1.85 1.85 0 1 0 -3.7 0M872.45 227.4a1.85 1.85 0 1 0 3.7 0a1.85 1.85 0 1 0 -3.7 0M874.15 227.9a1.85 1.85 0 1 0 3.7 0a1.85 1.85 0 1 0 -3.7 0M878.35 236.3a1.85 1.85 0 1 0 3.7 0a1.85 1.85 0 1 0 -3.7 0M890.35 236.6a1.85 1.85 0 1 0 3.7 0a1.85 1.85 0 1 0 -3.7 0M877.15 243.3a1.85 1.85 0 1 0 3.7 0a1.85 1.85 0 1 0 -3.7 0M881.65 250.6a1.85 1.85 0 1 0 3.7 0a1.85 1.85 0 1 0 -3.7 0M896.45 230.4a1.85 1.85 0 1 0 3.7 0a1.85 1.85 0 1 0 -3.7 0M901.85 230.4a1.85 1.85 0 1 0 3.7 0a1.85 1.85 0 1 0 -3.7 0M903.45 229.6a1.85 1.85 0 1 0 3.7 0a1.85 1.85 0 1 0 -3.7 0M907.65 229.6a1.85 1.85 0 1 0 3.7 0a1.85 1.85 0 1 0 -3.7 0M909.35 229.6a1.85 1.85 0 1 0 3.7 0a1.85 1.85 0 1 0 -3.7 0M911.85 230.4a1.85 1.85 0 1 0 3.7 0a1.85 1.85 0 1 0 -3.7 0M916.15 230.1a1.85 1.85 0 1 0 3.7 0a1.85 1.85 0 1 0 -3.7 0M920.35 238.5a1.85 1.85 0 1 0 3.7 0a1.85 1.85 0 1 0 -3.7 0M926.75 238a1.85 1.85 0 1 0 3.7 0a1.85 1.85 0 1 0 -3.7 0M930.45 230.7a1.85 1.85 0 1 0 3.7 0a1.85 1.85 0 1 0 -3.7 0M938.05 232.1a1.85 1.85 0 1 0 3.7 0a1.85 1.85 0 1 0 -3.7 0M933.85 235a1.85 1.85 0 1 0 3.7 0a1.85 1.85 0 1 0 -3.7 0M934.65 238a1.85 1.85 0 1 0 3.7 0a1.85 1.85 0 1 0 -3.7 0M943.05 230.1a1.85 1.85 0 1 0 3.7 0a1.85 1.85 0 1 0 -3.7 0M962.05 227.4a1.85 1.85 0 1 0 3.7 0a1.85 1.85 0 1 0 -3.7 0M961.55 230.4a1.85 1.85 0 1 0 3.7 0a1.85 1.85 0 1 0 -3.7 0M975.45 254.2a1.85 1.85 0 1 0 3.7 0a1.85 1.85 0 1 0 -3.7 0M1023.65 261.3a1.85 1.85 0 1 0 3.7 0a1.85 1.85 0 1 0 -3.7 0M1022.75 265.2a1.85 1.85 0 1 0 3.7 0a1.85 1.85 0 1 0 -3.7 0M965.15 262.3a1.85 1.85 0 1 0 3.7 0a1.85 1.85 0 1 0 -3.7 0M922.05 274.8a1.85 1.85 0 1 0 3.7 0a1.85 1.85 0 1 0 -3.7 0M970.45 276.4a1.85 1.85 0 1 0 3.7 0a1.85 1.85 0 1 0 -3.7 0M970.45 284.1a1.85 1.85 0 1 0 3.7 0a1.85 1.85 0 1 0 -3.7 0M1023.65 285.6a1.85 1.85 0 1 0 3.7 0a1.85 1.85 0 1 0 -3.7 0M1023.65 291.6a1.85 1.85 0 1 0 3.7 0a1.85 1.85 0 1 0 -3.7 0M1063.95 302.9a1.85 1.85 0 1 0 3.7 0a1.85 1.85 0 1 0 -3.7 0" fill="#8a8a8a" fill-opacity="0.35"/>
<path d="M854.55 227a1.25 1.25 0 1 0 2.5 0a1.25 1.25 0 1 0 -2.5 0M862.65 227a1.25 1.25 0 1 0 2.5 0a1.25 1.25 0 1 0 -2.5 0M873.05 227.4a1.25 1.25 0 1 0 2.5 0a1.25 1.25 0 1 0 -2.5 0M874.75 227.9a1.25 1.25 0 1 0 2.5 0a1.25 1.25 0 1 0 -2.5 0M878.95 236.3a1.25 1.25 0 1 0 2.5 0a1.25 1.25 0 1 0 -2.5 0M890.95 236.6a1.25 1.25 0 1 0 2.5 0a1.25 1.25 0 1 0 -2.5 0M877.75 243.3a1.25 1.25 0 1 0 2.5 0a1.25 1.25 0 1 0 -2.5 0M882.25 250.6a1.25 1.25 0 1 0 2.5 0a1.25 1.25 0 1 0 -2.5 0M897.05 230.4a1.25 1.25 0 1 0 2.5 0a1.25 1.25 0 1 0 -2.5 0M902.45 230.4a1.25 1.25 0 1 0 2.5 0a1.25 1.25 0 1 0 -2.5 0M904.05 229.6a1.25 1.25 0 1 0 2.5 0a1.25 1.25 0 1 0 -2.5 0M908.25 229.6a1.25 1.25 0 1 0 2.5 0a1.25 1.25 0 1 0 -2.5 0M909.95 229.6a1.25 1.25 0 1 0 2.5 0a1.25 1.25 0 1 0 -2.5 0M912.45 230.4a1.25 1.25 0 1 0 2.5 0a1.25 1.25 0 1 0 -2.5 0M916.75 230.1a1.25 1.25 0 1 0 2.5 0a1.25 1.25 0 1 0 -2.5 0M920.95 238.5a1.25 1.25 0 1 0 2.5 0a1.25 1.25 0 1 0 -2.5 0M927.35 238a1.25 1.25 0 1 0 2.5 0a1.25 1.25 0 1 0 -2.5 0M931.05 230.7a1.25 1.25 0 1 0 2.5 0a1.25 1.25 0 1 0 -2.5 0M938.65 232.1a1.25 1.25 0 1 0 2.5 0a1.25 1.25 0 1 0 -2.5 0M934.45 235a1.25 1.25 0 1 0 2.5 0a1.25 1.25 0 1 0 -2.5 0M935.25 238a1.25 1.25 0 1 0 2.5 0a1.25 1.25 0 1 0 -2.5 0M943.65 230.1a1.25 1.25 0 1 0 2.5 0a1.25 1.25 0 1 0 -2.5 0M962.65 227.4a1.25 1.25 0 1 0 2.5 0a1.25 1.25 0 1 0 -2.5 0M962.15 230.4a1.25 1.25 0 1 0 2.5 0a1.25 1.25 0 1 0 -2.5 0M976.05 254.2a1.25 1.25 0 1 0 2.5 0a1.25 1.25 0 1 0 -2.5 0M1024.25 261.3a1.25 1.25 0 1 0 2.5 0a1.25 1.25 0 1 0 -2.5 0M1023.35 265.2a1.25 1.25 0 1 0 2.5 0a1.25 1.25 0 1 0 -2.5 0M965.75 262.3a1.25 1.25 0 1 0 2.5 0a1.25 1.25 0 1 0 -2.5 0M922.65 274.8a1.25 1.25 0 1 0 2.5 0a1.25 1.25 0 1 0 -2.5 0M971.05 276.4a1.25 1.25 0 1 0 2.5 0a1.25 1.25 0 1 0 -2.5 0M971.05 284.1a1.25 1.25 0 1 0 2.5 0a1.25 1.25 0 1 0 -2.5 0M1024.25 285.6a1.25 1.25 0 1 0 2.5 0a1.25 1.25 0 1 0 -2.5 0M1024.25 291.6a1.25 1.25 0 1 0 2.5 0a1.25 1.25 0 1 0 -2.5 0M1064.55 302.9a1.25 1.25 0 1 0 2.5 0a1.25 1.25 0 1 0 -2.5 0" fill="#575757"/>
<path d="M835 226.2a2.0 2.0 0 1 0 4 0a2.0 2.0 0 1 0 -4 0M836.5 226.2a2.0 2.0 0 1 0 4 0a2.0 2.0 0 1 0 -4 0M875.6 231.2a2.0 2.0 0 1 0 4 0a2.0 2.0 0 1 0 -4 0M882.4 237.6a2.0 2.0 0 1 0 4 0a2.0 2.0 0 1 0 -4 0M902.2 245.5a2.0 2.0 0 1 0 4 0a2.0 2.0 0 1 0 -4 0M913.9 247.5a2.0 2.0 0 1 0 4 0a2.0 2.0 0 1 0 -4 0M924.4 242.2a2.0 2.0 0 1 0 4 0a2.0 2.0 0 1 0 -4 0M925.3 243a2.0 2.0 0 1 0 4 0a2.0 2.0 0 1 0 -4 0M944.6 232.1a2.0 2.0 0 1 0 4 0a2.0 2.0 0 1 0 -4 0M946.2 232.6a2.0 2.0 0 1 0 4 0a2.0 2.0 0 1 0 -4 0M977.6 232.6a2.0 2.0 0 1 0 4 0a2.0 2.0 0 1 0 -4 0M1006.7 234.3a2.0 2.0 0 1 0 4 0a2.0 2.0 0 1 0 -4 0M1008.9 243.8a2.0 2.0 0 1 0 4 0a2.0 2.0 0 1 0 -4 0M1015.4 245.9a2.0 2.0 0 1 0 4 0a2.0 2.0 0 1 0 -4 0M1037.2 237.5a2.0 2.0 0 1 0 4 0a2.0 2.0 0 1 0 -4 0M1035.7 239.6a2.0 2.0 0 1 0 4 0a2.0 2.0 0 1 0 -4 0M1023.5 250.6a2.0 2.0 0 1 0 4 0a2.0 2.0 0 1 0 -4 0M944.6 261.2a2.0 2.0 0 1 0 4 0a2.0 2.0 0 1 0 -4 0M946.2 259.3a2.0 2.0 0 1 0 4 0a2.0 2.0 0 1 0 -4 0M959.7 262.1a2.0 2.0 0 1 0 4 0a2.0 2.0 0 1 0 -4 0M1010.9 268.9a2.0 2.0 0 1 0 4 0a2.0 2.0 0 1 0 -4 0M1064.5 273.1a2.0 2.0 0 1 0 4 0a2.0 2.0 0 1 0 -4 0M991.1 273.2a2.0 2.0 0 1 0 4 0a2.0 2.0 0 1 0 -4 0M991.6 274a2.0 2.0 0 1 0 4 0a2.0 2.0 0 1 0 -4 0M1040.3 279a2.0 2.0 0 1 0 4 0a2.0 2.0 0 1 0 -4 0M1046.1 294.5a2.0 2.0 0 1 0 4 0a2.0 2.0 0 1 0 -4 0" fill="#dc4a3c" fill-opacity="0.45"/>
<path d="M835.7 226.2a1.3 1.3 0 1 0 2.6 0a1.3 1.3 0 1 0 -2.6 0M837.2 226.2a1.3 1.3 0 1 0 2.6 0a1.3 1.3 0 1 0 -2.6 0M876.3 231.2a1.3 1.3 0 1 0 2.6 0a1.3 1.3 0 1 0 -2.6 0M883.1 237.6a1.3 1.3 0 1 0 2.6 0a1.3 1.3 0 1 0 -2.6 0M902.9 245.5a1.3 1.3 0 1 0 2.6 0a1.3 1.3 0 1 0 -2.6 0M914.6 247.5a1.3 1.3 0 1 0 2.6 0a1.3 1.3 0 1 0 -2.6 0M925.1 242.2a1.3 1.3 0 1 0 2.6 0a1.3 1.3 0 1 0 -2.6 0M926 243a1.3 1.3 0 1 0 2.6 0a1.3 1.3 0 1 0 -2.6 0M945.3 232.1a1.3 1.3 0 1 0 2.6 0a1.3 1.3 0 1 0 -2.6 0M946.9 232.6a1.3 1.3 0 1 0 2.6 0a1.3 1.3 0 1 0 -2.6 0M978.3 232.6a1.3 1.3 0 1 0 2.6 0a1.3 1.3 0 1 0 -2.6 0M1007.4 234.3a1.3 1.3 0 1 0 2.6 0a1.3 1.3 0 1 0 -2.6 0M1009.6 243.8a1.3 1.3 0 1 0 2.6 0a1.3 1.3 0 1 0 -2.6 0M1016.1 245.9a1.3 1.3 0 1 0 2.6 0a1.3 1.3 0 1 0 -2.6 0M1037.9 237.5a1.3 1.3 0 1 0 2.6 0a1.3 1.3 0 1 0 -2.6 0M1036.4 239.6a1.3 1.3 0 1 0 2.6 0a1.3 1.3 0 1 0 -2.6 0M1024.2 250.6a1.3 1.3 0 1 0 2.6 0a1.3 1.3 0 1 0 -2.6 0M945.3 261.2a1.3 1.3 0 1 0 2.6 0a1.3 1.3 0 1 0 -2.6 0M946.9 259.3a1.3 1.3 0 1 0 2.6 0a1.3 1.3 0 1 0 -2.6 0M960.4 262.1a1.3 1.3 0 1 0 2.6 0a1.3 1.3 0 1 0 -2.6 0M1011.6 268.9a1.3 1.3 0 1 0 2.6 0a1.3 1.3 0 1 0 -2.6 0M1065.2 273.1a1.3 1.3 0 1 0 2.6 0a1.3 1.3 0 1 0 -2.6 0M991.8 273.2a1.3 1.3 0 1 0 2.6 0a1.3 1.3 0 1 0 -2.6 0M992.3 274a1.3 1.3 0 1 0 2.6 0a1.3 1.3 0 1 0 -2.6 0M1041 279a1.3 1.3 0 1 0 2.6 0a1.3 1.3 0 1 0 -2.6 0M1046.8 294.5a1.3 1.3 0 1 0 2.6 0a1.3 1.3 0 1 0 -2.6 0" fill="#a92419"/>
<text x="828.6" y="235.4" class="lb">World</text>
<text x="862.5" y="235.8" class="lb">CAN</text>
<text x="884" y="246.4" class="lb">MEX</text>
<text x="899" y="254" class="lb">NOR</text>
<text x="917.8" y="255.6" class="lb">BEL</text>
<text x="929.8" y="248.9" class="lb">DZA</text>
<text x="947.9" y="242.2" class="lb">KAZ</text>
<text x="973.1" y="227.9" class="lb">RUS</text>
<text x="1002.5" y="232.1" class="lb">QAT</text>
<text x="994.8" y="246.4" class="lb">USA</text>
<text x="1017.9" y="242.2" class="lb">ITA</text>
<text x="1045.6" y="238.8" class="lb">MYS</text>
<text x="1029.3" y="254.2" class="lb">AUS</text>
<text x="937.7" y="269.6" class="lb">DEU</text>
<text x="960" y="272.6" class="lb">GBR</text>
<text x="1056.5" y="267.3" class="lb">IDN</text>
<text x="983.2" y="282.7" class="lb">NLD</text>
<text x="1010.7" y="278.9" class="lb">EU-28</text>
<text x="1040.1" y="276.9" class="lb">FRA</text>
<text x="1054" y="291.1" class="lb">ESP</text>
</g>
<g id="Dt">
<line x1="40.5" y1="449.3" x2="40.5" y2="585.3" stroke="#fafafa" stroke-width="1"/>
<line x1="99.5" y1="449.3" x2="99.5" y2="585.3" stroke="#fafafa" stroke-width="1"/>
<line x1="159.5" y1="449.3" x2="159.5" y2="585.3" stroke="#fafafa" stroke-width="1"/>
<line x1="218.5" y1="449.3" x2="218.5" y2="585.3" stroke="#fafafa" stroke-width="1"/>
<line x1="277.5" y1="449.3" x2="277.5" y2="585.3" stroke="#fafafa" stroke-width="1"/>
<line x1="25.3" y1="455.5" x2="320.7" y2="455.5" stroke="#fafafa" stroke-width="1"/>
<line x1="25.3" y1="491.5" x2="320.7" y2="491.5" stroke="#fafafa" stroke-width="1"/>
<line x1="25.3" y1="526.5" x2="320.7" y2="526.5" stroke="#fafafa" stroke-width="1"/>
<line x1="25.3" y1="562.5" x2="320.7" y2="562.5" stroke="#fafafa" stroke-width="1"/>
<line x1="70.5" y1="449.3" x2="70.5" y2="585.3" stroke="#f4f4f4" stroke-width="1"/>
<line x1="129.5" y1="449.3" x2="129.5" y2="585.3" stroke="#f4f4f4" stroke-width="1"/>
<line x1="188.5" y1="449.3" x2="188.5" y2="585.3" stroke="#f4f4f4" stroke-width="1"/>
<line x1="247.5" y1="449.3" x2="247.5" y2="585.3" stroke="#f4f4f4" stroke-width="1"/>
<line x1="307.5" y1="449.3" x2="307.5" y2="585.3" stroke="#f4f4f4" stroke-width="1"/>
<line x1="25.3" y1="473.5" x2="320.7" y2="473.5" stroke="#f4f4f4" stroke-width="1"/>
<line x1="25.3" y1="508.5" x2="320.7" y2="508.5" stroke="#f4f4f4" stroke-width="1"/>
<line x1="25.3" y1="544.5" x2="320.7" y2="544.5" stroke="#f4f4f4" stroke-width="1"/>
<line x1="25.3" y1="579.5" x2="320.7" y2="579.5" stroke="#f4f4f4" stroke-width="1"/>
<rect x="25.3" y="449.3" width="295.4" height="136" fill="none" stroke="#c6c6c6" stroke-width="0.9"/>
<path d="M70.3 585.3v2M129.5 585.3v2M188.7 585.3v2M247.9 585.3v2M307.1 585.3v2M25.3 473.3h-2M25.3 508.8h-2M25.3 544.3h-2M25.3 579.8h-2" stroke="#c6c6c6" stroke-width="0.7"/>
<text x="70.3" y="592.46" text-anchor="middle" class="tk">−2.0</text>
<text x="129.5" y="592.46" text-anchor="middle" class="tk">−1.5</text>
<text x="188.7" y="592.46" text-anchor="middle" class="tk">−1.0</text>
<text x="247.9" y="592.46" text-anchor="middle" class="tk">−0.5</text>
<text x="307.1" y="592.46" text-anchor="middle" class="tk">0.0</text>
<text x="22.1" y="474.86" text-anchor="end" class="tk">1</text>
<text x="22.1" y="510.36" text-anchor="end" class="tk">0</text>
<text x="22.1" y="545.86" text-anchor="end" class="tk">−1</text>
<text x="22.1" y="581.36" text-anchor="end" class="tk">−2</text>
<text x="173" y="600.98" text-anchor="middle" class="ti">Major</text>
<text transform="translate(12.88 517.3) rotate(-90)" text-anchor="middle" class="ti">Minor</text>
<rect x="33.7" y="497.5" width="60.2" height="11.9" fill="none" stroke="#606060" stroke-width="1.1"/>
<path d="M40.15 506.5a1.85 1.85 0 1 0 3.7 0a1.85 1.85 0 1 0 -3.7 0M44.15 506.3a1.85 1.85 0 1 0 3.7 0a1.85 1.85 0 1 0 -3.7 0M48.15 506a1.85 1.85 0 1 0 3.7 0a1.85 1.85 0 1 0 -3.7 0M55.15 505.5a1.85 1.85 0 1 0 3.7 0a1.85 1.85 0 1 0 -3.7 0M56.65 505a1.85 1.85 0 1 0 3.7 0a1.85 1.85 0 1 0 -3.7 0M61.15 505a1.85 1.85 0 1 0 3.7 0a1.85 1.85 0 1 0 -3.7 0M64.15 505a1.85 1.85 0 1 0 3.7 0a1.85 1.85 0 1 0 -3.7 0M67.15 504a1.85 1.85 0 1 0 3.7 0a1.85 1.85 0 1 0 -3.7 0M71.65 503.5a1.85 1.85 0 1 0 3.7 0a1.85 1.85 0 1 0 -3.7 0M74.65 503a1.85 1.85 0 1 0 3.7 0a1.85 1.85 0 1 0 -3.7 0M79.15 503.5a1.85 1.85 0 1 0 3.7 0a1.85 1.85 0 1 0 -3.7 0M79.45 499.3a1.85 1.85 0 1 0 3.7 0a1.85 1.85 0 1 0 -3.7 0M82.15 505.5a1.85 1.85 0 1 0 3.7 0a1.85 1.85 0 1 0 -3.7 0M83.65 505.5a1.85 1.85 0 1 0 3.7 0a1.85 1.85 0 1 0 -3.7 0M93.45 499.3a1.85 1.85 0 1 0 3.7 0a1.85 1.85 0 1 0 -3.7 0M93.95 503.1a1.85 1.85 0 1 0 3.7 0a1.85 1.85 0 1 0 -3.7 0M94.65 501a1.85 1.85 0 1 0 3.7 0a1.85 1.85 0 1 0 -3.7 0M99.05 504.9a1.85 1.85 0 1 0 3.7 0a1.85 1.85 0 1 0 -3.7 0M100.65 505.3a1.85 1.85 0 1 0 3.7 0a1.85 1.85 0 1 0 -3.7 0M102.15 505.3a1.85 1.85 0 1 0 3.7 0a1.85 1.85 0 1 0 -3.7 0M103.75 497.3a1.85 1.85 0 1 0 3.7 0a1.85 1.85 0 1 0 -3.7 0M130.45 507.1a1.85 1.85 0 1 0 3.7 0a1.85 1.85 0 1 0 -3.7 0M135.45 507.2a1.85 1.85 0 1 0 3.7 0a1.85 1.85 0 1 0 -3.7 0M156.85 506.7a1.85 1.85 0 1 0 3.7 0a1.85 1.85 0 1 0 -3.7 0M165.55 484.5a1.85 1.85 0 1 0 3.7 0a1.85 1.85 0 1 0 -3.7 0M166.25 489.4a1.85 1.85 0 1 0 3.7 0a1.85 1.85 0 1 0 -3.7 0M169.75 503.5a1.85 1.85 0 1 0 3.7 0a1.85 1.85 0 1 0 -3.7 0M81.35 511.3a1.85 1.85 0 1 0 3.7 0a1.85 1.85 0 1 0 -3.7 0M61.55 513.2a1.85 1.85 0 1 0 3.7 0a1.85 1.85 0 1 0 -3.7 0M60.05 520.2a1.85 1.85 0 1 0 3.7 0a1.85 1.85 0 1 0 -3.7 0M80.65 529.8a1.85 1.85 0 1 0 3.7 0a1.85 1.85 0 1 0 -3.7 0M116.65 537.5a1.85 1.85 0 1 0 3.7 0a1.85 1.85 0 1 0 -3.7 0M99.05 562.1a1.85 1.85 0 1 0 3.7 0a1.85 1.85 0 1 0 -3.7 0M296.75 500.1a1.85 1.85 0 1 0 3.7 0a1.85 1.85 0 1 0 -3.7 0M298.25 498.7a1.85 1.85 0 1 0 3.7 0a1.85 1.85 0 1 0 -3.7 0M305.15 508.5a1.85 1.85 0 1 0 3.7 0a1.85 1.85 0 1 0 -3.7 0M305.15 510.5a1.85 1.85 0 1 0 3.7 0a1.85 1.85 0 1 0 -3.7 0M305.35 512.5a1.85 1.85 0 1 0 3.7 0a1.85 1.85 0 1 0 -3.7 0" fill="#8a8a8a" fill-opacity="0.35"/>
<path d="M40.75 506.5a1.25 1.25 0 1 0 2.5 0a1.25 1.25 0 1 0 -2.5 0M44.75 506.3a1.25 1.25 0 1 0 2.5 0a1.25 1.25 0 1 0 -2.5 0M48.75 506a1.25 1.25 0 1 0 2.5 0a1.25 1.25 0 1 0 -2.5 0M55.75 505.5a1.25 1.25 0 1 0 2.5 0a1.25 1.25 0 1 0 -2.5 0M57.25 505a1.25 1.25 0 1 0 2.5 0a1.25 1.25 0 1 0 -2.5 0M61.75 505a1.25 1.25 0 1 0 2.5 0a1.25 1.25 0 1 0 -2.5 0M64.75 505a1.25 1.25 0 1 0 2.5 0a1.25 1.25 0 1 0 -2.5 0M67.75 504a1.25 1.25 0 1 0 2.5 0a1.25 1.25 0 1 0 -2.5 0M72.25 503.5a1.25 1.25 0 1 0 2.5 0a1.25 1.25 0 1 0 -2.5 0M75.25 503a1.25 1.25 0 1 0 2.5 0a1.25 1.25 0 1 0 -2.5 0M79.75 503.5a1.25 1.25 0 1 0 2.5 0a1.25 1.25 0 1 0 -2.5 0M80.05 499.3a1.25 1.25 0 1 0 2.5 0a1.25 1.25 0 1 0 -2.5 0M82.75 505.5a1.25 1.25 0 1 0 2.5 0a1.25 1.25 0 1 0 -2.5 0M84.25 505.5a1.25 1.25 0 1 0 2.5 0a1.25 1.25 0 1 0 -2.5 0M94.05 499.3a1.25 1.25 0 1 0 2.5 0a1.25 1.25 0 1 0 -2.5 0M94.55 503.1a1.25 1.25 0 1 0 2.5 0a1.25 1.25 0 1 0 -2.5 0M95.25 501a1.25 1.25 0 1 0 2.5 0a1.25 1.25 0 1 0 -2.5 0M99.65 504.9a1.25 1.25 0 1 0 2.5 0a1.25 1.25 0 1 0 -2.5 0M101.25 505.3a1.25 1.25 0 1 0 2.5 0a1.25 1.25 0 1 0 -2.5 0M102.75 505.3a1.25 1.25 0 1 0 2.5 0a1.25 1.25 0 1 0 -2.5 0M104.35 497.3a1.25 1.25 0 1 0 2.5 0a1.25 1.25 0 1 0 -2.5 0M131.05 507.1a1.25 1.25 0 1 0 2.5 0a1.25 1.25 0 1 0 -2.5 0M136.05 507.2a1.25 1.25 0 1 0 2.5 0a1.25 1.25 0 1 0 -2.5 0M157.45 506.7a1.25 1.25 0 1 0 2.5 0a1.25 1.25 0 1 0 -2.5 0M166.15 484.5a1.25 1.25 0 1 0 2.5 0a1.25 1.25 0 1 0 -2.5 0M166.85 489.4a1.25 1.25 0 1 0 2.5 0a1.25 1.25 0 1 0 -2.5 0M170.35 503.5a1.25 1.25 0 1 0 2.5 0a1.25 1.25 0 1 0 -2.5 0M81.95 511.3a1.25 1.25 0 1 0 2.5 0a1.25 1.25 0 1 0 -2.5 0M62.15 513.2a1.25 1.25 0 1 0 2.5 0a1.25 1.25 0 1 0 -2.5 0M60.65 520.2a1.25 1.25 0 1 0 2.5 0a1.25 1.25 0 1 0 -2.5 0M81.25 529.8a1.25 1.25 0 1 0 2.5 0a1.25 1.25 0 1 0 -2.5 0M117.25 537.5a1.25 1.25 0 1 0 2.5 0a1.25 1.25 0 1 0 -2.5 0M99.65 562.1a1.25 1.25 0 1 0 2.5 0a1.25 1.25 0 1 0 -2.5 0M297.35 500.1a1.25 1.25 0 1 0 2.5 0a1.25 1.25 0 1 0 -2.5 0M298.85 498.7a1.25 1.25 0 1 0 2.5 0a1.25 1.25 0 1 0 -2.5 0M305.75 508.5a1.25 1.25 0 1 0 2.5 0a1.25 1.25 0 1 0 -2.5 0M305.75 510.5a1.25 1.25 0 1 0 2.5 0a1.25 1.25 0 1 0 -2.5 0M305.95 512.5a1.25 1.25 0 1 0 2.5 0a1.25 1.25 0 1 0 -2.5 0" fill="#575757"/>
<path d="M36.5 506.5a2.0 2.0 0 1 0 4 0a2.0 2.0 0 1 0 -4 0M38 506.5a2.0 2.0 0 1 0 4 0a2.0 2.0 0 1 0 -4 0M42 506.3a2.0 2.0 0 1 0 4 0a2.0 2.0 0 1 0 -4 0M46 506.3a2.0 2.0 0 1 0 4 0a2.0 2.0 0 1 0 -4 0M50 506a2.0 2.0 0 1 0 4 0a2.0 2.0 0 1 0 -4 0M54.5 504a2.0 2.0 0 1 0 4 0a2.0 2.0 0 1 0 -4 0M60.5 503.8a2.0 2.0 0 1 0 4 0a2.0 2.0 0 1 0 -4 0M66.5 503a2.0 2.0 0 1 0 4 0a2.0 2.0 0 1 0 -4 0M72 503a2.0 2.0 0 1 0 4 0a2.0 2.0 0 1 0 -4 0M82.5 504.5a2.0 2.0 0 1 0 4 0a2.0 2.0 0 1 0 -4 0M52 505.5a2.0 2.0 0 1 0 4 0a2.0 2.0 0 1 0 -4 0M53.5 505a2.0 2.0 0 1 0 4 0a2.0 2.0 0 1 0 -4 0M58 505a2.0 2.0 0 1 0 4 0a2.0 2.0 0 1 0 -4 0M59.5 505.5a2.0 2.0 0 1 0 4 0a2.0 2.0 0 1 0 -4 0M62.5 504.5a2.0 2.0 0 1 0 4 0a2.0 2.0 0 1 0 -4 0M65.5 505.5a2.0 2.0 0 1 0 4 0a2.0 2.0 0 1 0 -4 0M68.5 503.5a2.0 2.0 0 1 0 4 0a2.0 2.0 0 1 0 -4 0M70 505a2.0 2.0 0 1 0 4 0a2.0 2.0 0 1 0 -4 0M73 504.5a2.0 2.0 0 1 0 4 0a2.0 2.0 0 1 0 -4 0M76 505a2.0 2.0 0 1 0 4 0a2.0 2.0 0 1 0 -4 0M77.5 504a2.0 2.0 0 1 0 4 0a2.0 2.0 0 1 0 -4 0M80.5 505.5a2.0 2.0 0 1 0 4 0a2.0 2.0 0 1 0 -4 0M85 506a2.0 2.0 0 1 0 4 0a2.0 2.0 0 1 0 -4 0M86.5 505a2.0 2.0 0 1 0 4 0a2.0 2.0 0 1 0 -4 0M88 505.5a2.0 2.0 0 1 0 4 0a2.0 2.0 0 1 0 -4 0M109.6 502.8a2.0 2.0 0 1 0 4 0a2.0 2.0 0 1 0 -4 0M117.3 504.8a2.0 2.0 0 1 0 4 0a2.0 2.0 0 1 0 -4 0M295.4 462.1a2.0 2.0 0 1 0 4 0a2.0 2.0 0 1 0 -4 0M301.5 501.3a2.0 2.0 0 1 0 4 0a2.0 2.0 0 1 0 -4 0M303 506.3a2.0 2.0 0 1 0 4 0a2.0 2.0 0 1 0 -4 0M304.2 507a2.0 2.0 0 1 0 4 0a2.0 2.0 0 1 0 -4 0" fill="#dc4a3c" fill-opacity="0.45"/>
<path d="M37.2 506.5a1.3 1.3 0 1 0 2.6 0a1.3 1.3 0 1 0 -2.6 0M38.7 506.5a1.3 1.3 0 1 0 2.6 0a1.3 1.3 0 1 0 -2.6 0M42.7 506.3a1.3 1.3 0 1 0 2.6 0a1.3 1.3 0 1 0 -2.6 0M46.7 506.3a1.3 1.3 0 1 0 2.6 0a1.3 1.3 0 1 0 -2.6 0M50.7 506a1.3 1.3 0 1 0 2.6 0a1.3 1.3 0 1 0 -2.6 0M55.2 504a1.3 1.3 0 1 0 2.6 0a1.3 1.3 0 1 0 -2.6 0M61.2 503.8a1.3 1.3 0 1 0 2.6 0a1.3 1.3 0 1 0 -2.6 0M67.2 503a1.3 1.3 0 1 0 2.6 0a1.3 1.3 0 1 0 -2.6 0M72.7 503a1.3 1.3 0 1 0 2.6 0a1.3 1.3 0 1 0 -2.6 0M83.2 504.5a1.3 1.3 0 1 0 2.6 0a1.3 1.3 0 1 0 -2.6 0M52.7 505.5a1.3 1.3 0 1 0 2.6 0a1.3 1.3 0 1 0 -2.6 0M54.2 505a1.3 1.3 0 1 0 2.6 0a1.3 1.3 0 1 0 -2.6 0M58.7 505a1.3 1.3 0 1 0 2.6 0a1.3 1.3 0 1 0 -2.6 0M60.2 505.5a1.3 1.3 0 1 0 2.6 0a1.3 1.3 0 1 0 -2.6 0M63.2 504.5a1.3 1.3 0 1 0 2.6 0a1.3 1.3 0 1 0 -2.6 0M66.2 505.5a1.3 1.3 0 1 0 2.6 0a1.3 1.3 0 1 0 -2.6 0M69.2 503.5a1.3 1.3 0 1 0 2.6 0a1.3 1.3 0 1 0 -2.6 0M70.7 505a1.3 1.3 0 1 0 2.6 0a1.3 1.3 0 1 0 -2.6 0M73.7 504.5a1.3 1.3 0 1 0 2.6 0a1.3 1.3 0 1 0 -2.6 0M76.7 505a1.3 1.3 0 1 0 2.6 0a1.3 1.3 0 1 0 -2.6 0M78.2 504a1.3 1.3 0 1 0 2.6 0a1.3 1.3 0 1 0 -2.6 0M81.2 505.5a1.3 1.3 0 1 0 2.6 0a1.3 1.3 0 1 0 -2.6 0M85.7 506a1.3 1.3 0 1 0 2.6 0a1.3 1.3 0 1 0 -2.6 0M87.2 505a1.3 1.3 0 1 0 2.6 0a1.3 1.3 0 1 0 -2.6 0M88.7 505.5a1.3 1.3 0 1 0 2.6 0a1.3 1.3 0 1 0 -2.6 0M110.3 502.8a1.3 1.3 0 1 0 2.6 0a1.3 1.3 0 1 0 -2.6 0M118 504.8a1.3 1.3 0 1 0 2.6 0a1.3 1.3 0 1 0 -2.6 0M296.1 462.1a1.3 1.3 0 1 0 2.6 0a1.3 1.3 0 1 0 -2.6 0M302.2 501.3a1.3 1.3 0 1 0 2.6 0a1.3 1.3 0 1 0 -2.6 0M303.7 506.3a1.3 1.3 0 1 0 2.6 0a1.3 1.3 0 1 0 -2.6 0M304.9 507a1.3 1.3 0 1 0 2.6 0a1.3 1.3 0 1 0 -2.6 0" fill="#a92419"/>
<text x="114.3" y="501.5" class="lb">IND</text>
<text x="117.8" y="516.4" class="lb">BRA</text>
<text x="280.4" y="466.8" class="lb">NGA</text>
<text x="305" y="499.3" class="lb">CHN</text>
<text x="288" y="512.5" class="lb">IDN</text>
<path d="M66.4 509.4L96.4 609.2M93.05 606.05L96.4 609.2L97.46 604.72" fill="none" stroke="#4a4a4a" stroke-width="1.0"/>
</g>
<g id="Db">
<line x1="70.5" y1="609.2" x2="70.5" y2="745.3" stroke="#fafafa" stroke-width="1"/>
<line x1="122.5" y1="609.2" x2="122.5" y2="745.3" stroke="#fafafa" stroke-width="1"/>
<line x1="175.5" y1="609.2" x2="175.5" y2="745.3" stroke="#fafafa" stroke-width="1"/>
<line x1="228.5" y1="609.2" x2="228.5" y2="745.3" stroke="#fafafa" stroke-width="1"/>
<line x1="280.5" y1="609.2" x2="280.5" y2="745.3" stroke="#fafafa" stroke-width="1"/>
<line x1="30.7" y1="630.5" x2="320.6" y2="630.5" stroke="#fafafa" stroke-width="1"/>
<line x1="30.7" y1="662.5" x2="320.6" y2="662.5" stroke="#fafafa" stroke-width="1"/>
<line x1="30.7" y1="693.5" x2="320.6" y2="693.5" stroke="#fafafa" stroke-width="1"/>
<line x1="30.7" y1="724.5" x2="320.6" y2="724.5" stroke="#fafafa" stroke-width="1"/>
<line x1="44.5" y1="609.2" x2="44.5" y2="745.3" stroke="#f4f4f4" stroke-width="1"/>
<line x1="96.5" y1="609.2" x2="96.5" y2="745.3" stroke="#f4f4f4" stroke-width="1"/>
<line x1="149.5" y1="609.2" x2="149.5" y2="745.3" stroke="#f4f4f4" stroke-width="1"/>
<line x1="201.5" y1="609.2" x2="201.5" y2="745.3" stroke="#f4f4f4" stroke-width="1"/>
<line x1="254.5" y1="609.2" x2="254.5" y2="745.3" stroke="#f4f4f4" stroke-width="1"/>
<line x1="306.5" y1="609.2" x2="306.5" y2="745.3" stroke="#f4f4f4" stroke-width="1"/>
<line x1="30.7" y1="615.5" x2="320.6" y2="615.5" stroke="#f4f4f4" stroke-width="1"/>
<line x1="30.7" y1="646.5" x2="320.6" y2="646.5" stroke="#f4f4f4" stroke-width="1"/>
<line x1="30.7" y1="677.5" x2="320.6" y2="677.5" stroke="#f4f4f4" stroke-width="1"/>
<line x1="30.7" y1="708.5" x2="320.6" y2="708.5" stroke="#f4f4f4" stroke-width="1"/>
<line x1="30.7" y1="739.5" x2="320.6" y2="739.5" stroke="#f4f4f4" stroke-width="1"/>
<rect x="30.7" y="609.2" width="289.9" height="136.1" fill="none" stroke="#c6c6c6" stroke-width="0.9"/>
<path d="M44 745.3v2M96.6 745.3v2M149.2 745.3v2M201.8 745.3v2M254.4 745.3v2M307 745.3v2M30.7 615.4h-2M30.7 646.5h-2M30.7 677.6h-2M30.7 708.7h-2M30.7 739.8h-2" stroke="#c6c6c6" stroke-width="0.7"/>
<text x="44" y="752.46" text-anchor="middle" class="tk">−2.3</text>
<text x="96.6" y="752.46" text-anchor="middle" class="tk">−2.2</text>
<text x="149.2" y="752.46" text-anchor="middle" class="tk">−2.1</text>
<text x="201.8" y="752.46" text-anchor="middle" class="tk">−2.0</text>
<text x="254.4" y="752.46" text-anchor="middle" class="tk">−1.9</text>
<text x="307" y="752.46" text-anchor="middle" class="tk">−1.8</text>
<text x="27.5" y="616.96" text-anchor="end" class="tk">0.20</text>
<text x="27.5" y="648.06" text-anchor="end" class="tk">0.15</text>
<text x="27.5" y="679.16" text-anchor="end" class="tk">0.10</text>
<text x="27.5" y="710.26" text-anchor="end" class="tk">0.05</text>
<text x="27.5" y="741.36" text-anchor="end" class="tk">0.00</text>
<text x="175.65" y="760.98" text-anchor="middle" class="ti">Major</text>
<text transform="translate(12.88 677.25) rotate(-90)" text-anchor="middle" class="ti">Minor</text>
<path d="M67.85 701.8a1.85 1.85 0 1 0 3.7 0a1.85 1.85 0 1 0 -3.7 0M70.35 699.8a1.85 1.85 0 1 0 3.7 0a1.85 1.85 0 1 0 -3.7 0M87.95 697.3a1.85 1.85 0 1 0 3.7 0a1.85 1.85 0 1 0 -3.7 0M88.85 699.8a1.85 1.85 0 1 0 3.7 0a1.85 1.85 0 1 0 -3.7 0M94.15 702.7a1.85 1.85 0 1 0 3.7 0a1.85 1.85 0 1 0 -3.7 0M100.95 700.5a1.85 1.85 0 1 0 3.7 0a1.85 1.85 0 1 0 -3.7 0M115.65 698.1a1.85 1.85 0 1 0 3.7 0a1.85 1.85 0 1 0 -3.7 0M117.65 700.1a1.85 1.85 0 1 0 3.7 0a1.85 1.85 0 1 0 -3.7 0M124.05 696a1.85 1.85 0 1 0 3.7 0a1.85 1.85 0 1 0 -3.7 0M125.75 695.6a1.85 1.85 0 1 0 3.7 0a1.85 1.85 0 1 0 -3.7 0M128.25 698.5a1.85 1.85 0 1 0 3.7 0a1.85 1.85 0 1 0 -3.7 0M132.45 697.3a1.85 1.85 0 1 0 3.7 0a1.85 1.85 0 1 0 -3.7 0M135.85 696.8a1.85 1.85 0 1 0 3.7 0a1.85 1.85 0 1 0 -3.7 0M137.55 696.3a1.85 1.85 0 1 0 3.7 0a1.85 1.85 0 1 0 -3.7 0M140.85 695.6a1.85 1.85 0 1 0 3.7 0a1.85 1.85 0 1 0 -3.7 0M148.45 697.3a1.85 1.85 0 1 0 3.7 0a1.85 1.85 0 1 0 -3.7 0M155.65 698.1a1.85 1.85 0 1 0 3.7 0a1.85 1.85 0 1 0 -3.7 0M166.55 696.8a1.85 1.85 0 1 0 3.7 0a1.85 1.85 0 1 0 -3.7 0M113.15 689.1a1.85 1.85 0 1 0 3.7 0a1.85 1.85 0 1 0 -3.7 0M124.05 684a1.85 1.85 0 1 0 3.7 0a1.85 1.85 0 1 0 -3.7 0M145.55 690.3a1.85 1.85 0 1 0 3.7 0a1.85 1.85 0 1 0 -3.7 0M167.25 648.4a1.85 1.85 0 1 0 3.7 0a1.85 1.85 0 1 0 -3.7 0M134.95 664.6a1.85 1.85 0 1 0 3.7 0a1.85 1.85 0 1 0 -3.7 0M160.15 668a1.85 1.85 0 1 0 3.7 0a1.85 1.85 0 1 0 -3.7 0M117.65 676.1a1.85 1.85 0 1 0 3.7 0a1.85 1.85 0 1 0 -3.7 0M209.95 626.9a1.85 1.85 0 1 0 3.7 0a1.85 1.85 0 1 0 -3.7 0M246.75 634.1a1.85 1.85 0 1 0 3.7 0a1.85 1.85 0 1 0 -3.7 0M316.55 635.6a1.85 1.85 0 1 0 3.7 0a1.85 1.85 0 1 0 -3.7 0M213.65 644.5a1.85 1.85 0 1 0 3.7 0a1.85 1.85 0 1 0 -3.7 0M182.25 663.5a1.85 1.85 0 1 0 3.7 0a1.85 1.85 0 1 0 -3.7 0M318.25 673.4a1.85 1.85 0 1 0 3.7 0a1.85 1.85 0 1 0 -3.7 0M229.25 678.4a1.85 1.85 0 1 0 3.7 0a1.85 1.85 0 1 0 -3.7 0M259.05 692.4a1.85 1.85 0 1 0 3.7 0a1.85 1.85 0 1 0 -3.7 0M182.75 694.4a1.85 1.85 0 1 0 3.7 0a1.85 1.85 0 1 0 -3.7 0M178.35 697.6a1.85 1.85 0 1 0 3.7 0a1.85 1.85 0 1 0 -3.7 0M199.35 691.4a1.85 1.85 0 1 0 3.7 0a1.85 1.85 0 1 0 -3.7 0M201.35 694.9a1.85 1.85 0 1 0 3.7 0a1.85 1.85 0 1 0 -3.7 0M206.95 693.7a1.85 1.85 0 1 0 3.7 0a1.85 1.85 0 1 0 -3.7 0M208.05 695.6a1.85 1.85 0 1 0 3.7 0a1.85 1.85 0 1 0 -3.7 0M221.65 699.3a1.85 1.85 0 1 0 3.7 0a1.85 1.85 0 1 0 -3.7 0M198.15 701.5a1.85 1.85 0 1 0 3.7 0a1.85 1.85 0 1 0 -3.7 0M190.45 704.8a1.85 1.85 0 1 0 3.7 0a1.85 1.85 0 1 0 -3.7 0M148.95 697.1a1.85 1.85 0 1 0 3.7 0a1.85 1.85 0 1 0 -3.7 0" fill="#8a8a8a" fill-opacity="0.35"/>
<path d="M68.45 701.8a1.25 1.25 0 1 0 2.5 0a1.25 1.25 0 1 0 -2.5 0M70.95 699.8a1.25 1.25 0 1 0 2.5 0a1.25 1.25 0 1 0 -2.5 0M88.55 697.3a1.25 1.25 0 1 0 2.5 0a1.25 1.25 0 1 0 -2.5 0M89.45 699.8a1.25 1.25 0 1 0 2.5 0a1.25 1.25 0 1 0 -2.5 0M94.75 702.7a1.25 1.25 0 1 0 2.5 0a1.25 1.25 0 1 0 -2.5 0M101.55 700.5a1.25 1.25 0 1 0 2.5 0a1.25 1.25 0 1 0 -2.5 0M116.25 698.1a1.25 1.25 0 1 0 2.5 0a1.25 1.25 0 1 0 -2.5 0M118.25 700.1a1.25 1.25 0 1 0 2.5 0a1.25 1.25 0 1 0 -2.5 0M124.65 696a1.25 1.25 0 1 0 2.5 0a1.25 1.25 0 1 0 -2.5 0M126.35 695.6a1.25 1.25 0 1 0 2.5 0a1.25 1.25 0 1 0 -2.5 0M128.85 698.5a1.25 1.25 0 1 0 2.5 0a1.25 1.25 0 1 0 -2.5 0M133.05 697.3a1.25 1.25 0 1 0 2.5 0a1.25 1.25 0 1 0 -2.5 0M136.45 696.8a1.25 1.25 0 1 0 2.5 0a1.25 1.25 0 1 0 -2.5 0M138.15 696.3a1.25 1.25 0 1 0 2.5 0a1.25 1.25 0 1 0 -2.5 0M141.45 695.6a1.25 1.25 0 1 0 2.5 0a1.25 1.25 0 1 0 -2.5 0M149.05 697.3a1.25 1.25 0 1 0 2.5 0a1.25 1.25 0 1 0 -2.5 0M156.25 698.1a1.25 1.25 0 1 0 2.5 0a1.25 1.25 0 1 0 -2.5 0M167.15 696.8a1.25 1.25 0 1 0 2.5 0a1.25 1.25 0 1 0 -2.5 0M113.75 689.1a1.25 1.25 0 1 0 2.5 0a1.25 1.25 0 1 0 -2.5 0M124.65 684a1.25 1.25 0 1 0 2.5 0a1.25 1.25 0 1 0 -2.5 0M146.15 690.3a1.25 1.25 0 1 0 2.5 0a1.25 1.25 0 1 0 -2.5 0M167.85 648.4a1.25 1.25 0 1 0 2.5 0a1.25 1.25 0 1 0 -2.5 0M135.55 664.6a1.25 1.25 0 1 0 2.5 0a1.25 1.25 0 1 0 -2.5 0M160.75 668a1.25 1.25 0 1 0 2.5 0a1.25 1.25 0 1 0 -2.5 0M118.25 676.1a1.25 1.25 0 1 0 2.5 0a1.25 1.25 0 1 0 -2.5 0M210.55 626.9a1.25 1.25 0 1 0 2.5 0a1.25 1.25 0 1 0 -2.5 0M247.35 634.1a1.25 1.25 0 1 0 2.5 0a1.25 1.25 0 1 0 -2.5 0M317.15 635.6a1.25 1.25 0 1 0 2.5 0a1.25 1.25 0 1 0 -2.5 0M214.25 644.5a1.25 1.25 0 1 0 2.5 0a1.25 1.25 0 1 0 -2.5 0M182.85 663.5a1.25 1.25 0 1 0 2.5 0a1.25 1.25 0 1 0 -2.5 0M318.85 673.4a1.25 1.25 0 1 0 2.5 0a1.25 1.25 0 1 0 -2.5 0M229.85 678.4a1.25 1.25 0 1 0 2.5 0a1.25 1.25 0 1 0 -2.5 0M259.65 692.4a1.25 1.25 0 1 0 2.5 0a1.25 1.25 0 1 0 -2.5 0M183.35 694.4a1.25 1.25 0 1 0 2.5 0a1.25 1.25 0 1 0 -2.5 0M178.95 697.6a1.25 1.25 0 1 0 2.5 0a1.25 1.25 0 1 0 -2.5 0M199.95 691.4a1.25 1.25 0 1 0 2.5 0a1.25 1.25 0 1 0 -2.5 0M201.95 694.9a1.25 1.25 0 1 0 2.5 0a1.25 1.25 0 1 0 -2.5 0M207.55 693.7a1.25 1.25 0 1 0 2.5 0a1.25 1.25 0 1 0 -2.5 0M208.65 695.6a1.25 1.25 0 1 0 2.5 0a1.25 1.25 0 1 0 -2.5 0M222.25 699.3a1.25 1.25 0 1 0 2.5 0a1.25 1.25 0 1 0 -2.5 0M198.75 701.5a1.25 1.25 0 1 0 2.5 0a1.25 1.25 0 1 0 -2.5 0M191.05 704.8a1.25 1.25 0 1 0 2.5 0a1.25 1.25 0 1 0 -2.5 0M149.55 697.1a1.25 1.25 0 1 0 2.5 0a1.25 1.25 0 1 0 -2.5 0" fill="#575757"/>
<path d="M58.8 703.2a2.0 2.0 0 1 0 4 0a2.0 2.0 0 1 0 -4 0M60.1 703.2a2.0 2.0 0 1 0 4 0a2.0 2.0 0 1 0 -4 0M79.9 700.5a2.0 2.0 0 1 0 4 0a2.0 2.0 0 1 0 -4 0M170.9 694.8a2.0 2.0 0 1 0 4 0a2.0 2.0 0 1 0 -4 0M174.3 692.1a2.0 2.0 0 1 0 4 0a2.0 2.0 0 1 0 -4 0M126.8 719.8a2.0 2.0 0 1 0 4 0a2.0 2.0 0 1 0 -4 0M121.1 688.6a2.0 2.0 0 1 0 4 0a2.0 2.0 0 1 0 -4 0M129.6 686.6a2.0 2.0 0 1 0 4 0a2.0 2.0 0 1 0 -4 0M172.6 671a2.0 2.0 0 1 0 4 0a2.0 2.0 0 1 0 -4 0M161.4 679.4a2.0 2.0 0 1 0 4 0a2.0 2.0 0 1 0 -4 0M201.2 654.6a2.0 2.0 0 1 0 4 0a2.0 2.0 0 1 0 -4 0M214.8 658.4a2.0 2.0 0 1 0 4 0a2.0 2.0 0 1 0 -4 0M240.3 666.7a2.0 2.0 0 1 0 4 0a2.0 2.0 0 1 0 -4 0M280.3 657.1a2.0 2.0 0 1 0 4 0a2.0 2.0 0 1 0 -4 0M218.7 689.7a2.0 2.0 0 1 0 4 0a2.0 2.0 0 1 0 -4 0M242.9 689.8a2.0 2.0 0 1 0 4 0a2.0 2.0 0 1 0 -4 0M244 691a2.0 2.0 0 1 0 4 0a2.0 2.0 0 1 0 -4 0M239.5 693.4a2.0 2.0 0 1 0 4 0a2.0 2.0 0 1 0 -4 0M285.7 683.4a2.0 2.0 0 1 0 4 0a2.0 2.0 0 1 0 -4 0M284.6 686a2.0 2.0 0 1 0 4 0a2.0 2.0 0 1 0 -4 0M275.1 695.4a2.0 2.0 0 1 0 4 0a2.0 2.0 0 1 0 -4 0M180.2 691.3a2.0 2.0 0 1 0 4 0a2.0 2.0 0 1 0 -4 0M179.9 709.9a2.0 2.0 0 1 0 4 0a2.0 2.0 0 1 0 -4 0" fill="#dc4a3c" fill-opacity="0.45"/>
<path d="M59.5 703.2a1.3 1.3 0 1 0 2.6 0a1.3 1.3 0 1 0 -2.6 0M60.8 703.2a1.3 1.3 0 1 0 2.6 0a1.3 1.3 0 1 0 -2.6 0M80.6 700.5a1.3 1.3 0 1 0 2.6 0a1.3 1.3 0 1 0 -2.6 0M171.6 694.8a1.3 1.3 0 1 0 2.6 0a1.3 1.3 0 1 0 -2.6 0M175 692.1a1.3 1.3 0 1 0 2.6 0a1.3 1.3 0 1 0 -2.6 0M127.5 719.8a1.3 1.3 0 1 0 2.6 0a1.3 1.3 0 1 0 -2.6 0M121.8 688.6a1.3 1.3 0 1 0 2.6 0a1.3 1.3 0 1 0 -2.6 0M130.3 686.6a1.3 1.3 0 1 0 2.6 0a1.3 1.3 0 1 0 -2.6 0M173.3 671a1.3 1.3 0 1 0 2.6 0a1.3 1.3 0 1 0 -2.6 0M162.1 679.4a1.3 1.3 0 1 0 2.6 0a1.3 1.3 0 1 0 -2.6 0M201.9 654.6a1.3 1.3 0 1 0 2.6 0a1.3 1.3 0 1 0 -2.6 0M215.5 658.4a1.3 1.3 0 1 0 2.6 0a1.3 1.3 0 1 0 -2.6 0M241 666.7a1.3 1.3 0 1 0 2.6 0a1.3 1.3 0 1 0 -2.6 0M281 657.1a1.3 1.3 0 1 0 2.6 0a1.3 1.3 0 1 0 -2.6 0M219.4 689.7a1.3 1.3 0 1 0 2.6 0a1.3 1.3 0 1 0 -2.6 0M243.6 689.8a1.3 1.3 0 1 0 2.6 0a1.3 1.3 0 1 0 -2.6 0M244.7 691a1.3 1.3 0 1 0 2.6 0a1.3 1.3 0 1 0 -2.6 0M240.2 693.4a1.3 1.3 0 1 0 2.6 0a1.3 1.3 0 1 0 -2.6 0M286.4 683.4a1.3 1.3 0 1 0 2.6 0a1.3 1.3 0 1 0 -2.6 0M285.3 686a1.3 1.3 0 1 0 2.6 0a1.3 1.3 0 1 0 -2.6 0M275.8 695.4a1.3 1.3 0 1 0 2.6 0a1.3 1.3 0 1 0 -2.6 0M180.9 691.3a1.3 1.3 0 1 0 2.6 0a1.3 1.3 0 1 0 -2.6 0M180.6 709.9a1.3 1.3 0 1 0 2.6 0a1.3 1.3 0 1 0 -2.6 0" fill="#a92419"/>
<text x="56.2" y="696.9" class="lb">World</text>
<text x="55.9" y="714.1" class="lb">SAU</text>
<text x="77.6" y="710.2" class="lb">CAN</text>
<text x="107" y="687.3" class="lb">NOR</text>
<text x="136.8" y="687.6" class="lb">BEL</text>
<text x="152.7" y="677.4" class="lb">DEU</text>
<text x="179.4" y="676.4" class="lb">GBR</text>
<text x="195.7" y="651.2" class="lb">NLD</text>
<text x="222.5" y="659.9" class="lb">FRA</text>
<text x="247.9" y="665.5" class="lb">EU-28</text>
<text x="286.3" y="654.6" class="lb">ESP</text>
<text x="172.7" y="688.6" class="lb">DZA</text>
<text x="186.6" y="689.8" class="lb">KAZ</text>
<text x="215" y="686.1" class="lb">RUS</text>
<text x="249.6" y="687.6" class="lb">KOR</text>
<text x="292.2" y="682.3" class="lb">JPN</text>
<text x="291.9" y="693.7" class="lb">ITA</text>
<text x="167.6" y="703.8" class="lb">QAT</text>
<text x="236.5" y="704.3" class="lb">MYS</text>
<text x="272.9" y="704.3" class="lb">AUS</text>
<text x="184.9" y="718.6" class="lb">USA</text>
<text x="132.6" y="729.9" class="lb">MEX</text>
</g>
<g id="Et">
<line x1="417.5" y1="449.2" x2="417.5" y2="585.5" stroke="#fafafa" stroke-width="1"/>
<line x1="476.5" y1="449.2" x2="476.5" y2="585.5" stroke="#fafafa" stroke-width="1"/>
<line x1="535.5" y1="449.2" x2="535.5" y2="585.5" stroke="#fafafa" stroke-width="1"/>
<line x1="594.5" y1="449.2" x2="594.5" y2="585.5" stroke="#fafafa" stroke-width="1"/>
<line x1="653.5" y1="449.2" x2="653.5" y2="585.5" stroke="#fafafa" stroke-width="1"/>
<line x1="406" y1="475.5" x2="696.5" y2="475.5" stroke="#fafafa" stroke-width="1"/>
<line x1="406" y1="517.5" x2="696.5" y2="517.5" stroke="#fafafa" stroke-width="1"/>
<line x1="406" y1="558.5" x2="696.5" y2="558.5" stroke="#fafafa" stroke-width="1"/>
<line x1="446.5" y1="449.2" x2="446.5" y2="585.5" stroke="#f4f4f4" stroke-width="1"/>
<line x1="505.5" y1="449.2" x2="505.5" y2="585.5" stroke="#f4f4f4" stroke-width="1"/>
<line x1="564.5" y1="449.2" x2="564.5" y2="585.5" stroke="#f4f4f4" stroke-width="1"/>
<line x1="623.5" y1="449.2" x2="623.5" y2="585.5" stroke="#f4f4f4" stroke-width="1"/>
<line x1="682.5" y1="449.2" x2="682.5" y2="585.5" stroke="#f4f4f4" stroke-width="1"/>
<line x1="406" y1="455.5" x2="696.5" y2="455.5" stroke="#f4f4f4" stroke-width="1"/>
<line x1="406" y1="496.5" x2="696.5" y2="496.5" stroke="#f4f4f4" stroke-width="1"/>
<line x1="406" y1="537.5" x2="696.5" y2="537.5" stroke="#f4f4f4" stroke-width="1"/>
<line x1="406" y1="579.5" x2="696.5" y2="579.5" stroke="#f4f4f4" stroke-width="1"/>
<rect x="406" y="449.2" width="290.5" height="136.3" fill="none" stroke="#c6c6c6" stroke-width="0.9"/>
<path d="M447 585.5v2M505.95 585.5v2M564.9 585.5v2M623.85 585.5v2M682.8 585.5v2M406 455h-2M406 496.4h-2M406 537.8h-2M406 579.2h-2" stroke="#c6c6c6" stroke-width="0.7"/>
<text x="447" y="592.66" text-anchor="middle" class="tk">−2.0</text>
<text x="505.95" y="592.66" text-anchor="middle" class="tk">−1.5</text>
<text x="564.9" y="592.66" text-anchor="middle" class="tk">−1.0</text>
<text x="623.85" y="592.66" text-anchor="middle" class="tk">−0.5</text>
<text x="682.8" y="592.66" text-anchor="middle" class="tk">0.0</text>
<text x="402.8" y="456.56" text-anchor="end" class="tk">0.5</text>
<text x="402.8" y="497.96" text-anchor="end" class="tk">0.0</text>
<text x="402.8" y="539.36" text-anchor="end" class="tk">−0.5</text>
<text x="402.8" y="580.76" text-anchor="end" class="tk">−1.0</text>
<text x="551.25" y="601.18" text-anchor="middle" class="ti">Major</text>
<text transform="translate(387.68 517.35) rotate(-90)" text-anchor="middle" class="ti">Minor</text>
<rect x="412.1" y="475.3" width="86.3" height="42" fill="none" stroke="#606060" stroke-width="1.1"/>
<path d="M420.55 477.7a1.85 1.85 0 1 0 3.7 0a1.85 1.85 0 1 0 -3.7 0M422.65 478.5a1.85 1.85 0 1 0 3.7 0a1.85 1.85 0 1 0 -3.7 0M424.15 477.5a1.85 1.85 0 1 0 3.7 0a1.85 1.85 0 1 0 -3.7 0M427.65 478.2a1.85 1.85 0 1 0 3.7 0a1.85 1.85 0 1 0 -3.7 0M429.15 477.8a1.85 1.85 0 1 0 3.7 0a1.85 1.85 0 1 0 -3.7 0M431.65 478.5a1.85 1.85 0 1 0 3.7 0a1.85 1.85 0 1 0 -3.7 0M433.15 479a1.85 1.85 0 1 0 3.7 0a1.85 1.85 0 1 0 -3.7 0M435.15 478.5a1.85 1.85 0 1 0 3.7 0a1.85 1.85 0 1 0 -3.7 0M437.15 479.5a1.85 1.85 0 1 0 3.7 0a1.85 1.85 0 1 0 -3.7 0M439.15 478.8a1.85 1.85 0 1 0 3.7 0a1.85 1.85 0 1 0 -3.7 0M441.15 478a1.85 1.85 0 1 0 3.7 0a1.85 1.85 0 1 0 -3.7 0M443.15 478.3a1.85 1.85 0 1 0 3.7 0a1.85 1.85 0 1 0 -3.7 0M445.15 478.8a1.85 1.85 0 1 0 3.7 0a1.85 1.85 0 1 0 -3.7 0M447.85 478.3a1.85 1.85 0 1 0 3.7 0a1.85 1.85 0 1 0 -3.7 0M422.15 480a1.85 1.85 0 1 0 3.7 0a1.85 1.85 0 1 0 -3.7 0M425.15 480.5a1.85 1.85 0 1 0 3.7 0a1.85 1.85 0 1 0 -3.7 0M443.15 480.5a1.85 1.85 0 1 0 3.7 0a1.85 1.85 0 1 0 -3.7 0M445.65 480a1.85 1.85 0 1 0 3.7 0a1.85 1.85 0 1 0 -3.7 0M423.65 482.6a1.85 1.85 0 1 0 3.7 0a1.85 1.85 0 1 0 -3.7 0M426.65 484.4a1.85 1.85 0 1 0 3.7 0a1.85 1.85 0 1 0 -3.7 0M432.75 489.3a1.85 1.85 0 1 0 3.7 0a1.85 1.85 0 1 0 -3.7 0M436.95 482a1.85 1.85 0 1 0 3.7 0a1.85 1.85 0 1 0 -3.7 0M438.15 480.2a1.85 1.85 0 1 0 3.7 0a1.85 1.85 0 1 0 -3.7 0M461.85 480.8a1.85 1.85 0 1 0 3.7 0a1.85 1.85 0 1 0 -3.7 0M470.65 478.3a1.85 1.85 0 1 0 3.7 0a1.85 1.85 0 1 0 -3.7 0M473.55 484.4a1.85 1.85 0 1 0 3.7 0a1.85 1.85 0 1 0 -3.7 0M480.35 477.7a1.85 1.85 0 1 0 3.7 0a1.85 1.85 0 1 0 -3.7 0M488.85 481.6a1.85 1.85 0 1 0 3.7 0a1.85 1.85 0 1 0 -3.7 0M493.35 477.4a1.85 1.85 0 1 0 3.7 0a1.85 1.85 0 1 0 -3.7 0M492.75 486.8a1.85 1.85 0 1 0 3.7 0a1.85 1.85 0 1 0 -3.7 0M509.15 475.1a1.85 1.85 0 1 0 3.7 0a1.85 1.85 0 1 0 -3.7 0M456.15 490.7a1.85 1.85 0 1 0 3.7 0a1.85 1.85 0 1 0 -3.7 0M456.65 494.3a1.85 1.85 0 1 0 3.7 0a1.85 1.85 0 1 0 -3.7 0M444.85 494.5a1.85 1.85 0 1 0 3.7 0a1.85 1.85 0 1 0 -3.7 0M446.65 494.1a1.85 1.85 0 1 0 3.7 0a1.85 1.85 0 1 0 -3.7 0M429.65 500.5a1.85 1.85 0 1 0 3.7 0a1.85 1.85 0 1 0 -3.7 0M437.15 503.6a1.85 1.85 0 1 0 3.7 0a1.85 1.85 0 1 0 -3.7 0M440.35 506.6a1.85 1.85 0 1 0 3.7 0a1.85 1.85 0 1 0 -3.7 0M485.75 500.2a1.85 1.85 0 1 0 3.7 0a1.85 1.85 0 1 0 -3.7 0M447.65 530.5a1.85 1.85 0 1 0 3.7 0a1.85 1.85 0 1 0 -3.7 0M445.15 543.1a1.85 1.85 0 1 0 3.7 0a1.85 1.85 0 1 0 -3.7 0M471.55 555.8a1.85 1.85 0 1 0 3.7 0a1.85 1.85 0 1 0 -3.7 0M543.85 482.7a1.85 1.85 0 1 0 3.7 0a1.85 1.85 0 1 0 -3.7 0M549.55 482.7a1.85 1.85 0 1 0 3.7 0a1.85 1.85 0 1 0 -3.7 0M674.55 471.4a1.85 1.85 0 1 0 3.7 0a1.85 1.85 0 1 0 -3.7 0M670.25 488.3a1.85 1.85 0 1 0 3.7 0a1.85 1.85 0 1 0 -3.7 0M680.95 486.8a1.85 1.85 0 1 0 3.7 0a1.85 1.85 0 1 0 -3.7 0M674.35 492.3a1.85 1.85 0 1 0 3.7 0a1.85 1.85 0 1 0 -3.7 0M679.85 494.2a1.85 1.85 0 1 0 3.7 0a1.85 1.85 0 1 0 -3.7 0M681.35 495.3a1.85 1.85 0 1 0 3.7 0a1.85 1.85 0 1 0 -3.7 0M681.35 497.1a1.85 1.85 0 1 0 3.7 0a1.85 1.85 0 1 0 -3.7 0M679.85 497.5a1.85 1.85 0 1 0 3.7 0a1.85 1.85 0 1 0 -3.7 0M676.95 498.6a1.85 1.85 0 1 0 3.7 0a1.85 1.85 0 1 0 -3.7 0" fill="#8a8a8a" fill-opacity="0.35"/>
<path d="M421.15 477.7a1.25 1.25 0 1 0 2.5 0a1.25 1.25 0 1 0 -2.5 0M423.25 478.5a1.25 1.25 0 1 0 2.5 0a1.25 1.25 0 1 0 -2.5 0M424.75 477.5a1.25 1.25 0 1 0 2.5 0a1.25 1.25 0 1 0 -2.5 0M428.25 478.2a1.25 1.25 0 1 0 2.5 0a1.25 1.25 0 1 0 -2.5 0M429.75 477.8a1.25 1.25 0 1 0 2.5 0a1.25 1.25 0 1 0 -2.5 0M432.25 478.5a1.25 1.25 0 1 0 2.5 0a1.25 1.25 0 1 0 -2.5 0M433.75 479a1.25 1.25 0 1 0 2.5 0a1.25 1.25 0 1 0 -2.5 0M435.75 478.5a1.25 1.25 0 1 0 2.5 0a1.25 1.25 0 1 0 -2.5 0M437.75 479.5a1.25 1.25 0 1 0 2.5 0a1.25 1.25 0 1 0 -2.5 0M439.75 478.8a1.25 1.25 0 1 0 2.5 0a1.25 1.25 0 1 0 -2.5 0M441.75 478a1.25 1.25 0 1 0 2.5 0a1.25 1.25 0 1 0 -2.5 0M443.75 478.3a1.25 1.25 0 1 0 2.5 0a1.25 1.25 0 1 0 -2.5 0M445.75 478.8a1.25 1.25 0 1 0 2.5 0a1.25 1.25 0 1 0 -2.5 0M448.45 478.3a1.25 1.25 0 1 0 2.5 0a1.25 1.25 0 1 0 -2.5 0M422.75 480a1.25 1.25 0 1 0 2.5 0a1.25 1.25 0 1 0 -2.5 0M425.75 480.5a1.25 1.25 0 1 0 2.5 0a1.25 1.25 0 1 0 -2.5 0M443.75 480.5a1.25 1.25 0 1 0 2.5 0a1.25 1.25 0 1 0 -2.5 0M446.25 480a1.25 1.25 0 1 0 2.5 0a1.25 1.25 0 1 0 -2.5 0M424.25 482.6a1.25 1.25 0 1 0 2.5 0a1.25 1.25 0 1 0 -2.5 0M427.25 484.4a1.25 1.25 0 1 0 2.5 0a1.25 1.25 0 1 0 -2.5 0M433.35 489.3a1.25 1.25 0 1 0 2.5 0a1.25 1.25 0 1 0 -2.5 0M437.55 482a1.25 1.25 0 1 0 2.5 0a1.25 1.25 0 1 0 -2.5 0M438.75 480.2a1.25 1.25 0 1 0 2.5 0a1.25 1.25 0 1 0 -2.5 0M462.45 480.8a1.25 1.25 0 1 0 2.5 0a1.25 1.25 0 1 0 -2.5 0M471.25 478.3a1.25 1.25 0 1 0 2.5 0a1.25 1.25 0 1 0 -2.5 0M474.15 484.4a1.25 1.25 0 1 0 2.5 0a1.25 1.25 0 1 0 -2.5 0M480.95 477.7a1.25 1.25 0 1 0 2.5 0a1.25 1.25 0 1 0 -2.5 0M489.45 481.6a1.25 1.25 0 1 0 2.5 0a1.25 1.25 0 1 0 -2.5 0M493.95 477.4a1.25 1.25 0 1 0 2.5 0a1.25 1.25 0 1 0 -2.5 0M493.35 486.8a1.25 1.25 0 1 0 2.5 0a1.25 1.25 0 1 0 -2.5 0M509.75 475.1a1.25 1.25 0 1 0 2.5 0a1.25 1.25 0 1 0 -2.5 0M456.75 490.7a1.25 1.25 0 1 0 2.5 0a1.25 1.25 0 1 0 -2.5 0M457.25 494.3a1.25 1.25 0 1 0 2.5 0a1.25 1.25 0 1 0 -2.5 0M445.45 494.5a1.25 1.25 0 1 0 2.5 0a1.25 1.25 0 1 0 -2.5 0M447.25 494.1a1.25 1.25 0 1 0 2.5 0a1.25 1.25 0 1 0 -2.5 0M430.25 500.5a1.25 1.25 0 1 0 2.5 0a1.25 1.25 0 1 0 -2.5 0M437.75 503.6a1.25 1.25 0 1 0 2.5 0a1.25 1.25 0 1 0 -2.5 0M440.95 506.6a1.25 1.25 0 1 0 2.5 0a1.25 1.25 0 1 0 -2.5 0M486.35 500.2a1.25 1.25 0 1 0 2.5 0a1.25 1.25 0 1 0 -2.5 0M448.25 530.5a1.25 1.25 0 1 0 2.5 0a1.25 1.25 0 1 0 -2.5 0M445.75 543.1a1.25 1.25 0 1 0 2.5 0a1.25 1.25 0 1 0 -2.5 0M472.15 555.8a1.25 1.25 0 1 0 2.5 0a1.25 1.25 0 1 0 -2.5 0M544.45 482.7a1.25 1.25 0 1 0 2.5 0a1.25 1.25 0 1 0 -2.5 0M550.15 482.7a1.25 1.25 0 1 0 2.5 0a1.25 1.25 0 1 0 -2.5 0M675.15 471.4a1.25 1.25 0 1 0 2.5 0a1.25 1.25 0 1 0 -2.5 0M670.85 488.3a1.25 1.25 0 1 0 2.5 0a1.25 1.25 0 1 0 -2.5 0M681.55 486.8a1.25 1.25 0 1 0 2.5 0a1.25 1.25 0 1 0 -2.5 0M674.95 492.3a1.25 1.25 0 1 0 2.5 0a1.25 1.25 0 1 0 -2.5 0M680.45 494.2a1.25 1.25 0 1 0 2.5 0a1.25 1.25 0 1 0 -2.5 0M681.95 495.3a1.25 1.25 0 1 0 2.5 0a1.25 1.25 0 1 0 -2.5 0M681.95 497.1a1.25 1.25 0 1 0 2.5 0a1.25 1.25 0 1 0 -2.5 0M680.45 497.5a1.25 1.25 0 1 0 2.5 0a1.25 1.25 0 1 0 -2.5 0M677.55 498.6a1.25 1.25 0 1 0 2.5 0a1.25 1.25 0 1 0 -2.5 0" fill="#575757"/>
<path d="M417.2 476.9a2.0 2.0 0 1 0 4 0a2.0 2.0 0 1 0 -4 0M425.9 478.6a2.0 2.0 0 1 0 4 0a2.0 2.0 0 1 0 -4 0M430.1 482a2.0 2.0 0 1 0 4 0a2.0 2.0 0 1 0 -4 0M428.3 487.4a2.0 2.0 0 1 0 4 0a2.0 2.0 0 1 0 -4 0M430.7 488a2.0 2.0 0 1 0 4 0a2.0 2.0 0 1 0 -4 0M434.4 485.6a2.0 2.0 0 1 0 4 0a2.0 2.0 0 1 0 -4 0M440.2 486.8a2.0 2.0 0 1 0 4 0a2.0 2.0 0 1 0 -4 0M452 479a2.0 2.0 0 1 0 4 0a2.0 2.0 0 1 0 -4 0M463.5 479a2.0 2.0 0 1 0 4 0a2.0 2.0 0 1 0 -4 0M466.9 482.6a2.0 2.0 0 1 0 4 0a2.0 2.0 0 1 0 -4 0M476.2 481.1a2.0 2.0 0 1 0 4 0a2.0 2.0 0 1 0 -4 0M477.4 480.8a2.0 2.0 0 1 0 4 0a2.0 2.0 0 1 0 -4 0M466.2 490.2a2.0 2.0 0 1 0 4 0a2.0 2.0 0 1 0 -4 0M424.4 494.1a2.0 2.0 0 1 0 4 0a2.0 2.0 0 1 0 -4 0M434.4 496.3a2.0 2.0 0 1 0 4 0a2.0 2.0 0 1 0 -4 0M447.5 496.8a2.0 2.0 0 1 0 4 0a2.0 2.0 0 1 0 -4 0M438.6 500.2a2.0 2.0 0 1 0 4 0a2.0 2.0 0 1 0 -4 0M441 502a2.0 2.0 0 1 0 4 0a2.0 2.0 0 1 0 -4 0M453.2 506.8a2.0 2.0 0 1 0 4 0a2.0 2.0 0 1 0 -4 0M451.4 521.4a2.0 2.0 0 1 0 4 0a2.0 2.0 0 1 0 -4 0M455.9 530.5a2.0 2.0 0 1 0 4 0a2.0 2.0 0 1 0 -4 0M499.6 526.6a2.0 2.0 0 1 0 4 0a2.0 2.0 0 1 0 -4 0M469.4 540.7a2.0 2.0 0 1 0 4 0a2.0 2.0 0 1 0 -4 0M679.7 490.1a2.0 2.0 0 1 0 4 0a2.0 2.0 0 1 0 -4 0M679 491.2a2.0 2.0 0 1 0 4 0a2.0 2.0 0 1 0 -4 0M676 494.2a2.0 2.0 0 1 0 4 0a2.0 2.0 0 1 0 -4 0M677.1 495.3a2.0 2.0 0 1 0 4 0a2.0 2.0 0 1 0 -4 0" fill="#dc4a3c" fill-opacity="0.45"/>
<path d="M417.9 476.9a1.3 1.3 0 1 0 2.6 0a1.3 1.3 0 1 0 -2.6 0M426.6 478.6a1.3 1.3 0 1 0 2.6 0a1.3 1.3 0 1 0 -2.6 0M430.8 482a1.3 1.3 0 1 0 2.6 0a1.3 1.3 0 1 0 -2.6 0M429 487.4a1.3 1.3 0 1 0 2.6 0a1.3 1.3 0 1 0 -2.6 0M431.4 488a1.3 1.3 0 1 0 2.6 0a1.3 1.3 0 1 0 -2.6 0M435.1 485.6a1.3 1.3 0 1 0 2.6 0a1.3 1.3 0 1 0 -2.6 0M440.9 486.8a1.3 1.3 0 1 0 2.6 0a1.3 1.3 0 1 0 -2.6 0M452.7 479a1.3 1.3 0 1 0 2.6 0a1.3 1.3 0 1 0 -2.6 0M464.2 479a1.3 1.3 0 1 0 2.6 0a1.3 1.3 0 1 0 -2.6 0M467.6 482.6a1.3 1.3 0 1 0 2.6 0a1.3 1.3 0 1 0 -2.6 0M476.9 481.1a1.3 1.3 0 1 0 2.6 0a1.3 1.3 0 1 0 -2.6 0M478.1 480.8a1.3 1.3 0 1 0 2.6 0a1.3 1.3 0 1 0 -2.6 0M466.9 490.2a1.3 1.3 0 1 0 2.6 0a1.3 1.3 0 1 0 -2.6 0M425.1 494.1a1.3 1.3 0 1 0 2.6 0a1.3 1.3 0 1 0 -2.6 0M435.1 496.3a1.3 1.3 0 1 0 2.6 0a1.3 1.3 0 1 0 -2.6 0M448.2 496.8a1.3 1.3 0 1 0 2.6 0a1.3 1.3 0 1 0 -2.6 0M439.3 500.2a1.3 1.3 0 1 0 2.6 0a1.3 1.3 0 1 0 -2.6 0M441.7 502a1.3 1.3 0 1 0 2.6 0a1.3 1.3 0 1 0 -2.6 0M453.9 506.8a1.3 1.3 0 1 0 2.6 0a1.3 1.3 0 1 0 -2.6 0M452.1 521.4a1.3 1.3 0 1 0 2.6 0a1.3 1.3 0 1 0 -2.6 0M456.6 530.5a1.3 1.3 0 1 0 2.6 0a1.3 1.3 0 1 0 -2.6 0M500.3 526.6a1.3 1.3 0 1 0 2.6 0a1.3 1.3 0 1 0 -2.6 0M470.1 540.7a1.3 1.3 0 1 0 2.6 0a1.3 1.3 0 1 0 -2.6 0M680.4 490.1a1.3 1.3 0 1 0 2.6 0a1.3 1.3 0 1 0 -2.6 0M679.7 491.2a1.3 1.3 0 1 0 2.6 0a1.3 1.3 0 1 0 -2.6 0M676.7 494.2a1.3 1.3 0 1 0 2.6 0a1.3 1.3 0 1 0 -2.6 0M677.8 495.3a1.3 1.3 0 1 0 2.6 0a1.3 1.3 0 1 0 -2.6 0" fill="#a92419"/>
<text x="458.8" y="524.4" class="lb">FRA</text>
<text x="463.4" y="533.4" class="lb">BRA</text>
<text x="508.3" y="528.6" class="lb">IND</text>
<text x="477.5" y="545.4" class="lb">ESP</text>
<text x="674.5" y="485.6" class="lb">IDN</text>
<text x="660.2" y="499.4" class="lb">QAT</text>
<path d="M412.1 517.3L506 609M501.54 607.86L506 609L504.76 604.57" fill="none" stroke="#4a4a4a" stroke-width="1.0"/>
</g>
<g id="Eb">
<line x1="437.5" y1="609.6" x2="437.5" y2="745.2" stroke="#fafafa" stroke-width="1"/>
<line x1="507.5" y1="609.6" x2="507.5" y2="745.2" stroke="#fafafa" stroke-width="1"/>
<line x1="578.5" y1="609.6" x2="578.5" y2="745.2" stroke="#fafafa" stroke-width="1"/>
<line x1="648.5" y1="609.6" x2="648.5" y2="745.2" stroke="#fafafa" stroke-width="1"/>
<line x1="406" y1="640.5" x2="696.4" y2="640.5" stroke="#fafafa" stroke-width="1"/>
<line x1="406" y1="665.5" x2="696.4" y2="665.5" stroke="#fafafa" stroke-width="1"/>
<line x1="406" y1="689.5" x2="696.4" y2="689.5" stroke="#fafafa" stroke-width="1"/>
<line x1="406" y1="714.5" x2="696.4" y2="714.5" stroke="#fafafa" stroke-width="1"/>
<line x1="406" y1="738.5" x2="696.4" y2="738.5" stroke="#fafafa" stroke-width="1"/>
<line x1="472.5" y1="609.6" x2="472.5" y2="745.2" stroke="#f4f4f4" stroke-width="1"/>
<line x1="543.5" y1="609.6" x2="543.5" y2="745.2" stroke="#f4f4f4" stroke-width="1"/>
<line x1="613.5" y1="609.6" x2="613.5" y2="745.2" stroke="#f4f4f4" stroke-width="1"/>
<line x1="683.5" y1="609.6" x2="683.5" y2="745.2" stroke="#f4f4f4" stroke-width="1"/>
<line x1="406" y1="628.5" x2="696.4" y2="628.5" stroke="#f4f4f4" stroke-width="1"/>
<line x1="406" y1="653.5" x2="696.4" y2="653.5" stroke="#f4f4f4" stroke-width="1"/>
<line x1="406" y1="677.5" x2="696.4" y2="677.5" stroke="#f4f4f4" stroke-width="1"/>
<line x1="406" y1="702.5" x2="696.4" y2="702.5" stroke="#f4f4f4" stroke-width="1"/>
<line x1="406" y1="726.5" x2="696.4" y2="726.5" stroke="#f4f4f4" stroke-width="1"/>
<rect x="406" y="609.6" width="290.4" height="135.6" fill="none" stroke="#c6c6c6" stroke-width="0.9"/>
<path d="M472.9 745.2v2M543 745.2v2M613.1 745.2v2M683.2 745.2v2M406 628.6h-2M406 653.1h-2M406 677.6h-2M406 702.1h-2M406 726.6h-2" stroke="#c6c6c6" stroke-width="0.7"/>
<text x="472.9" y="752.36" text-anchor="middle" class="tk">−2.1</text>
<text x="543" y="752.36" text-anchor="middle" class="tk">−1.9</text>
<text x="613.1" y="752.36" text-anchor="middle" class="tk">−1.7</text>
<text x="683.2" y="752.36" text-anchor="middle" class="tk">−1.5</text>
<text x="402.8" y="630.16" text-anchor="end" class="tk">0.2</text>
<text x="402.8" y="654.66" text-anchor="end" class="tk">0.1</text>
<text x="402.8" y="679.16" text-anchor="end" class="tk">0.0</text>
<text x="402.8" y="703.66" text-anchor="end" class="tk">−0.1</text>
<text x="402.8" y="728.16" text-anchor="end" class="tk">−0.2</text>
<text x="551.2" y="760.88" text-anchor="middle" class="ti">Major</text>
<text transform="translate(388.38 677.4) rotate(-90)" text-anchor="middle" class="ti">Minor</text>
<path d="M434.35 620.5a1.85 1.85 0 1 0 3.7 0a1.85 1.85 0 1 0 -3.7 0M436.05 621.8a1.85 1.85 0 1 0 3.7 0a1.85 1.85 0 1 0 -3.7 0M435.25 626.5a1.85 1.85 0 1 0 3.7 0a1.85 1.85 0 1 0 -3.7 0M441.65 629.9a1.85 1.85 0 1 0 3.7 0a1.85 1.85 0 1 0 -3.7 0M441.65 636.6a1.85 1.85 0 1 0 3.7 0a1.85 1.85 0 1 0 -3.7 0M442.75 624.3a1.85 1.85 0 1 0 3.7 0a1.85 1.85 0 1 0 -3.7 0M444.95 621a1.85 1.85 0 1 0 3.7 0a1.85 1.85 0 1 0 -3.7 0M451.15 626a1.85 1.85 0 1 0 3.7 0a1.85 1.85 0 1 0 -3.7 0M452.55 629.4a1.85 1.85 0 1 0 3.7 0a1.85 1.85 0 1 0 -3.7 0M456.25 621.8a1.85 1.85 0 1 0 3.7 0a1.85 1.85 0 1 0 -3.7 0M462.05 620.1a1.85 1.85 0 1 0 3.7 0a1.85 1.85 0 1 0 -3.7 0M464.95 621a1.85 1.85 0 1 0 3.7 0a1.85 1.85 0 1 0 -3.7 0M464.95 623.5a1.85 1.85 0 1 0 3.7 0a1.85 1.85 0 1 0 -3.7 0M461.55 626.5a1.85 1.85 0 1 0 3.7 0a1.85 1.85 0 1 0 -3.7 0M465.75 626.5a1.85 1.85 0 1 0 3.7 0a1.85 1.85 0 1 0 -3.7 0M468.85 627.7a1.85 1.85 0 1 0 3.7 0a1.85 1.85 0 1 0 -3.7 0M450.35 640a1.85 1.85 0 1 0 3.7 0a1.85 1.85 0 1 0 -3.7 0M449.55 645.3a1.85 1.85 0 1 0 3.7 0a1.85 1.85 0 1 0 -3.7 0M450.85 647a1.85 1.85 0 1 0 3.7 0a1.85 1.85 0 1 0 -3.7 0M479.35 622.3a1.85 1.85 0 1 0 3.7 0a1.85 1.85 0 1 0 -3.7 0M482.25 624.3a1.85 1.85 0 1 0 3.7 0a1.85 1.85 0 1 0 -3.7 0M486.45 625.2a1.85 1.85 0 1 0 3.7 0a1.85 1.85 0 1 0 -3.7 0M482.25 632.7a1.85 1.85 0 1 0 3.7 0a1.85 1.85 0 1 0 -3.7 0M484.75 631.9a1.85 1.85 0 1 0 3.7 0a1.85 1.85 0 1 0 -3.7 0M482.25 638.6a1.85 1.85 0 1 0 3.7 0a1.85 1.85 0 1 0 -3.7 0M467.95 655.1a1.85 1.85 0 1 0 3.7 0a1.85 1.85 0 1 0 -3.7 0M493.95 629.9a1.85 1.85 0 1 0 3.7 0a1.85 1.85 0 1 0 -3.7 0M497.35 626.5a1.85 1.85 0 1 0 3.7 0a1.85 1.85 0 1 0 -3.7 0M496.85 622.7a1.85 1.85 0 1 0 3.7 0a1.85 1.85 0 1 0 -3.7 0M500.75 618.8a1.85 1.85 0 1 0 3.7 0a1.85 1.85 0 1 0 -3.7 0M503.25 620.1a1.85 1.85 0 1 0 3.7 0a1.85 1.85 0 1 0 -3.7 0M508.25 621a1.85 1.85 0 1 0 3.7 0a1.85 1.85 0 1 0 -3.7 0M509.15 624.3a1.85 1.85 0 1 0 3.7 0a1.85 1.85 0 1 0 -3.7 0M509.95 626.9a1.85 1.85 0 1 0 3.7 0a1.85 1.85 0 1 0 -3.7 0M554.75 630.2a1.85 1.85 0 1 0 3.7 0a1.85 1.85 0 1 0 -3.7 0M558.15 630.2a1.85 1.85 0 1 0 3.7 0a1.85 1.85 0 1 0 -3.7 0M537.65 659.6a1.85 1.85 0 1 0 3.7 0a1.85 1.85 0 1 0 -3.7 0M539.35 669.9a1.85 1.85 0 1 0 3.7 0a1.85 1.85 0 1 0 -3.7 0M504.45 670.9a1.85 1.85 0 1 0 3.7 0a1.85 1.85 0 1 0 -3.7 0M511.25 670.2a1.85 1.85 0 1 0 3.7 0a1.85 1.85 0 1 0 -3.7 0M458.95 689a1.85 1.85 0 1 0 3.7 0a1.85 1.85 0 1 0 -3.7 0M482.35 698a1.85 1.85 0 1 0 3.7 0a1.85 1.85 0 1 0 -3.7 0M490.95 706.3a1.85 1.85 0 1 0 3.7 0a1.85 1.85 0 1 0 -3.7 0M626.55 687.6a1.85 1.85 0 1 0 3.7 0a1.85 1.85 0 1 0 -3.7 0M581.15 622.2a1.85 1.85 0 1 0 3.7 0a1.85 1.85 0 1 0 -3.7 0M590.35 640.6a1.85 1.85 0 1 0 3.7 0a1.85 1.85 0 1 0 -3.7 0M610.45 620.5a1.85 1.85 0 1 0 3.7 0a1.85 1.85 0 1 0 -3.7 0M648.75 618.5a1.85 1.85 0 1 0 3.7 0a1.85 1.85 0 1 0 -3.7 0M636.15 632.2a1.85 1.85 0 1 0 3.7 0a1.85 1.85 0 1 0 -3.7 0M647.15 647.5a1.85 1.85 0 1 0 3.7 0a1.85 1.85 0 1 0 -3.7 0" fill="#8a8a8a" fill-opacity="0.35"/>
<path d="M434.95 620.5a1.25 1.25 0 1 0 2.5 0a1.25 1.25 0 1 0 -2.5 0M436.65 621.8a1.25 1.25 0 1 0 2.5 0a1.25 1.25 0 1 0 -2.5 0M435.85 626.5a1.25 1.25 0 1 0 2.5 0a1.25 1.25 0 1 0 -2.5 0M442.25 629.9a1.25 1.25 0 1 0 2.5 0a1.25 1.25 0 1 0 -2.5 0M442.25 636.6a1.25 1.25 0 1 0 2.5 0a1.25 1.25 0 1 0 -2.5 0M443.35 624.3a1.25 1.25 0 1 0 2.5 0a1.25 1.25 0 1 0 -2.5 0M445.55 621a1.25 1.25 0 1 0 2.5 0a1.25 1.25 0 1 0 -2.5 0M451.75 626a1.25 1.25 0 1 0 2.5 0a1.25 1.25 0 1 0 -2.5 0M453.15 629.4a1.25 1.25 0 1 0 2.5 0a1.25 1.25 0 1 0 -2.5 0M456.85 621.8a1.25 1.25 0 1 0 2.5 0a1.25 1.25 0 1 0 -2.5 0M462.65 620.1a1.25 1.25 0 1 0 2.5 0a1.25 1.25 0 1 0 -2.5 0M465.55 621a1.25 1.25 0 1 0 2.5 0a1.25 1.25 0 1 0 -2.5 0M465.55 623.5a1.25 1.25 0 1 0 2.5 0a1.25 1.25 0 1 0 -2.5 0M462.15 626.5a1.25 1.25 0 1 0 2.5 0a1.25 1.25 0 1 0 -2.5 0M466.35 626.5a1.25 1.25 0 1 0 2.5 0a1.25 1.25 0 1 0 -2.5 0M469.45 627.7a1.25 1.25 0 1 0 2.5 0a1.25 1.25 0 1 0 -2.5 0M450.95 640a1.25 1.25 0 1 0 2.5 0a1.25 1.25 0 1 0 -2.5 0M450.15 645.3a1.25 1.25 0 1 0 2.5 0a1.25 1.25 0 1 0 -2.5 0M451.45 647a1.25 1.25 0 1 0 2.5 0a1.25 1.25 0 1 0 -2.5 0M479.95 622.3a1.25 1.25 0 1 0 2.5 0a1.25 1.25 0 1 0 -2.5 0M482.85 624.3a1.25 1.25 0 1 0 2.5 0a1.25 1.25 0 1 0 -2.5 0M487.05 625.2a1.25 1.25 0 1 0 2.5 0a1.25 1.25 0 1 0 -2.5 0M482.85 632.7a1.25 1.25 0 1 0 2.5 0a1.25 1.25 0 1 0 -2.5 0M485.35 631.9a1.25 1.25 0 1 0 2.5 0a1.25 1.25 0 1 0 -2.5 0M482.85 638.6a1.25 1.25 0 1 0 2.5 0a1.25 1.25 0 1 0 -2.5 0M468.55 655.1a1.25 1.25 0 1 0 2.5 0a1.25 1.25 0 1 0 -2.5 0M494.55 629.9a1.25 1.25 0 1 0 2.5 0a1.25 1.25 0 1 0 -2.5 0M497.95 626.5a1.25 1.25 0 1 0 2.5 0a1.25 1.25 0 1 0 -2.5 0M497.45 622.7a1.25 1.25 0 1 0 2.5 0a1.25 1.25 0 1 0 -2.5 0M501.35 618.8a1.25 1.25 0 1 0 2.5 0a1.25 1.25 0 1 0 -2.5 0M503.85 620.1a1.25 1.25 0 1 0 2.5 0a1.25 1.25 0 1 0 -2.5 0M508.85 621a1.25 1.25 0 1 0 2.5 0a1.25 1.25 0 1 0 -2.5 0M509.75 624.3a1.25 1.25 0 1 0 2.5 0a1.25 1.25 0 1 0 -2.5 0M510.55 626.9a1.25 1.25 0 1 0 2.5 0a1.25 1.25 0 1 0 -2.5 0M555.35 630.2a1.25 1.25 0 1 0 2.5 0a1.25 1.25 0 1 0 -2.5 0M558.75 630.2a1.25 1.25 0 1 0 2.5 0a1.25 1.25 0 1 0 -2.5 0M538.25 659.6a1.25 1.25 0 1 0 2.5 0a1.25 1.25 0 1 0 -2.5 0M539.95 669.9a1.25 1.25 0 1 0 2.5 0a1.25 1.25 0 1 0 -2.5 0M505.05 670.9a1.25 1.25 0 1 0 2.5 0a1.25 1.25 0 1 0 -2.5 0M511.85 670.2a1.25 1.25 0 1 0 2.5 0a1.25 1.25 0 1 0 -2.5 0M459.55 689a1.25 1.25 0 1 0 2.5 0a1.25 1.25 0 1 0 -2.5 0M482.95 698a1.25 1.25 0 1 0 2.5 0a1.25 1.25 0 1 0 -2.5 0M491.55 706.3a1.25 1.25 0 1 0 2.5 0a1.25 1.25 0 1 0 -2.5 0M627.15 687.6a1.25 1.25 0 1 0 2.5 0a1.25 1.25 0 1 0 -2.5 0M581.75 622.2a1.25 1.25 0 1 0 2.5 0a1.25 1.25 0 1 0 -2.5 0M590.95 640.6a1.25 1.25 0 1 0 2.5 0a1.25 1.25 0 1 0 -2.5 0M611.05 620.5a1.25 1.25 0 1 0 2.5 0a1.25 1.25 0 1 0 -2.5 0M649.35 618.5a1.25 1.25 0 1 0 2.5 0a1.25 1.25 0 1 0 -2.5 0M636.75 632.2a1.25 1.25 0 1 0 2.5 0a1.25 1.25 0 1 0 -2.5 0M647.75 647.5a1.25 1.25 0 1 0 2.5 0a1.25 1.25 0 1 0 -2.5 0" fill="#575757"/>
<path d="M422.5 618.1a2.0 2.0 0 1 0 4 0a2.0 2.0 0 1 0 -4 0M423.5 618.1a2.0 2.0 0 1 0 4 0a2.0 2.0 0 1 0 -4 0M449 622.7a2.0 2.0 0 1 0 4 0a2.0 2.0 0 1 0 -4 0M461.1 633.9a2.0 2.0 0 1 0 4 0a2.0 2.0 0 1 0 -4 0M474.2 644a2.0 2.0 0 1 0 4 0a2.0 2.0 0 1 0 -4 0M463.3 649.5a2.0 2.0 0 1 0 4 0a2.0 2.0 0 1 0 -4 0M456.9 652.4a2.0 2.0 0 1 0 4 0a2.0 2.0 0 1 0 -4 0M491.3 648.2a2.0 2.0 0 1 0 4 0a2.0 2.0 0 1 0 -4 0M526.1 623.8a2.0 2.0 0 1 0 4 0a2.0 2.0 0 1 0 -4 0M444 670.2a2.0 2.0 0 1 0 4 0a2.0 2.0 0 1 0 -4 0M474.2 675.9a2.0 2.0 0 1 0 4 0a2.0 2.0 0 1 0 -4 0M512.3 676.4a2.0 2.0 0 1 0 4 0a2.0 2.0 0 1 0 -4 0M513.7 676.9a2.0 2.0 0 1 0 4 0a2.0 2.0 0 1 0 -4 0M486.5 687.6a2.0 2.0 0 1 0 4 0a2.0 2.0 0 1 0 -4 0M493.1 693.3a2.0 2.0 0 1 0 4 0a2.0 2.0 0 1 0 -4 0M529.6 707.5a2.0 2.0 0 1 0 4 0a2.0 2.0 0 1 0 -4 0M561.7 624.3a2.0 2.0 0 1 0 4 0a2.0 2.0 0 1 0 -4 0M569.7 634.9a2.0 2.0 0 1 0 4 0a2.0 2.0 0 1 0 -4 0M596.1 631.1a2.0 2.0 0 1 0 4 0a2.0 2.0 0 1 0 -4 0M601.1 629.7a2.0 2.0 0 1 0 4 0a2.0 2.0 0 1 0 -4 0M568 657.9a2.0 2.0 0 1 0 4 0a2.0 2.0 0 1 0 -4 0" fill="#dc4a3c" fill-opacity="0.45"/>
<path d="M423.2 618.1a1.3 1.3 0 1 0 2.6 0a1.3 1.3 0 1 0 -2.6 0M424.2 618.1a1.3 1.3 0 1 0 2.6 0a1.3 1.3 0 1 0 -2.6 0M449.7 622.7a1.3 1.3 0 1 0 2.6 0a1.3 1.3 0 1 0 -2.6 0M461.8 633.9a1.3 1.3 0 1 0 2.6 0a1.3 1.3 0 1 0 -2.6 0M474.9 644a1.3 1.3 0 1 0 2.6 0a1.3 1.3 0 1 0 -2.6 0M464 649.5a1.3 1.3 0 1 0 2.6 0a1.3 1.3 0 1 0 -2.6 0M457.6 652.4a1.3 1.3 0 1 0 2.6 0a1.3 1.3 0 1 0 -2.6 0M492 648.2a1.3 1.3 0 1 0 2.6 0a1.3 1.3 0 1 0 -2.6 0M526.8 623.8a1.3 1.3 0 1 0 2.6 0a1.3 1.3 0 1 0 -2.6 0M444.7 670.2a1.3 1.3 0 1 0 2.6 0a1.3 1.3 0 1 0 -2.6 0M474.9 675.9a1.3 1.3 0 1 0 2.6 0a1.3 1.3 0 1 0 -2.6 0M513 676.4a1.3 1.3 0 1 0 2.6 0a1.3 1.3 0 1 0 -2.6 0M514.4 676.9a1.3 1.3 0 1 0 2.6 0a1.3 1.3 0 1 0 -2.6 0M487.2 687.6a1.3 1.3 0 1 0 2.6 0a1.3 1.3 0 1 0 -2.6 0M493.8 693.3a1.3 1.3 0 1 0 2.6 0a1.3 1.3 0 1 0 -2.6 0M530.3 707.5a1.3 1.3 0 1 0 2.6 0a1.3 1.3 0 1 0 -2.6 0M562.4 624.3a1.3 1.3 0 1 0 2.6 0a1.3 1.3 0 1 0 -2.6 0M570.4 634.9a1.3 1.3 0 1 0 2.6 0a1.3 1.3 0 1 0 -2.6 0M596.8 631.1a1.3 1.3 0 1 0 2.6 0a1.3 1.3 0 1 0 -2.6 0M601.8 629.7a1.3 1.3 0 1 0 2.6 0a1.3 1.3 0 1 0 -2.6 0M568.7 657.9a1.3 1.3 0 1 0 2.6 0a1.3 1.3 0 1 0 -2.6 0" fill="#a92419"/>
<text x="417.8" y="628" class="lb">World</text>
<text x="417.3" y="636.1" class="lb">SAU</text>
<text x="451.4" y="620.1" class="lb">RUS</text>
<text x="466.8" y="639.5" class="lb">KAZ</text>
<text x="481.6" y="647" class="lb">MEX</text>
<text x="470.7" y="652.9" class="lb">BEL</text>
<text x="443.8" y="658.8" class="lb">NOR</text>
<text x="497.5" y="654.1" class="lb">DZA</text>
<text x="526.8" y="633.4" class="lb">MYS</text>
<text x="442.1" y="680.6" class="lb">CAN</text>
<text x="481.2" y="676.4" class="lb">DEU</text>
<text x="518" y="682.3" class="lb">USA</text>
<text x="491.3" y="686.6" class="lb">GBR</text>
<text x="498.3" y="697.9" class="lb">NLD</text>
<text x="538.8" y="712.8" class="lb">EU-28</text>
<text x="564.5" y="620.5" class="lb">AUS</text>
<text x="566.2" y="644" class="lb">CHN</text>
<text x="607.6" y="631.6" class="lb">KOR</text>
<text x="598.9" y="641.1" class="lb">JPN</text>
<text x="574.9" y="665" class="lb">ITA</text>
</g>
<g id="Ft">
<line x1="787.5" y1="449.2" x2="787.5" y2="585.3" stroke="#fafafa" stroke-width="1"/>
<line x1="847.5" y1="449.2" x2="847.5" y2="585.3" stroke="#fafafa" stroke-width="1"/>
<line x1="908.5" y1="449.2" x2="908.5" y2="585.3" stroke="#fafafa" stroke-width="1"/>
<line x1="968.5" y1="449.2" x2="968.5" y2="585.3" stroke="#fafafa" stroke-width="1"/>
<line x1="1028.5" y1="449.2" x2="1028.5" y2="585.3" stroke="#fafafa" stroke-width="1"/>
<line x1="781.5" y1="469.5" x2="1071.5" y2="469.5" stroke="#fafafa" stroke-width="1"/>
<line x1="781.5" y1="496.5" x2="1071.5" y2="496.5" stroke="#fafafa" stroke-width="1"/>
<line x1="781.5" y1="524.5" x2="1071.5" y2="524.5" stroke="#fafafa" stroke-width="1"/>
<line x1="781.5" y1="551.5" x2="1071.5" y2="551.5" stroke="#fafafa" stroke-width="1"/>
<line x1="781.5" y1="579.5" x2="1071.5" y2="579.5" stroke="#fafafa" stroke-width="1"/>
<line x1="817.5" y1="449.2" x2="817.5" y2="585.3" stroke="#f4f4f4" stroke-width="1"/>
<line x1="877.5" y1="449.2" x2="877.5" y2="585.3" stroke="#f4f4f4" stroke-width="1"/>
<line x1="938.5" y1="449.2" x2="938.5" y2="585.3" stroke="#f4f4f4" stroke-width="1"/>
<line x1="998.5" y1="449.2" x2="998.5" y2="585.3" stroke="#f4f4f4" stroke-width="1"/>
<line x1="1058.5" y1="449.2" x2="1058.5" y2="585.3" stroke="#f4f4f4" stroke-width="1"/>
<line x1="781.5" y1="455.5" x2="1071.5" y2="455.5" stroke="#f4f4f4" stroke-width="1"/>
<line x1="781.5" y1="482.5" x2="1071.5" y2="482.5" stroke="#f4f4f4" stroke-width="1"/>
<line x1="781.5" y1="510.5" x2="1071.5" y2="510.5" stroke="#f4f4f4" stroke-width="1"/>
<line x1="781.5" y1="538.5" x2="1071.5" y2="538.5" stroke="#f4f4f4" stroke-width="1"/>
<line x1="781.5" y1="565.5" x2="1071.5" y2="565.5" stroke="#f4f4f4" stroke-width="1"/>
<rect x="781.5" y="449.2" width="290" height="136.1" fill="none" stroke="#c6c6c6" stroke-width="0.9"/>
<path d="M817.7 585.3v2M877.9 585.3v2M938.1 585.3v2M998.3 585.3v2M1058.5 585.3v2M781.5 455.3h-2M781.5 482.9h-2M781.5 510.5h-2M781.5 538.1h-2M781.5 565.7h-2" stroke="#c6c6c6" stroke-width="0.7"/>
<text x="817.7" y="592.46" text-anchor="middle" class="tk">−2.0</text>
<text x="877.9" y="592.46" text-anchor="middle" class="tk">−1.5</text>
<text x="938.1" y="592.46" text-anchor="middle" class="tk">−1.0</text>
<text x="998.3" y="592.46" text-anchor="middle" class="tk">−0.5</text>
<text x="1058.5" y="592.46" text-anchor="middle" class="tk">0.0</text>
<text x="778.3" y="456.86" text-anchor="end" class="tk">1.5</text>
<text x="778.3" y="484.46" text-anchor="end" class="tk">1.0</text>
<text x="778.3" y="512.06" text-anchor="end" class="tk">0.5</text>
<text x="778.3" y="539.66" text-anchor="end" class="tk">0.0</text>
<text x="778.3" y="567.26" text-anchor="end" class="tk">−0.5</text>
<text x="926.5" y="600.98" text-anchor="middle" class="ti">Major</text>
<text transform="translate(763.88 517.25) rotate(-90)" text-anchor="middle" class="ti">Minor</text>
<rect x="787.5" y="519.4" width="80.8" height="19.9" fill="none" stroke="#606060" stroke-width="1.1"/>
<path d="M798.65 533.5a1.85 1.85 0 1 0 3.7 0a1.85 1.85 0 1 0 -3.7 0M800.15 534a1.85 1.85 0 1 0 3.7 0a1.85 1.85 0 1 0 -3.7 0M801.65 534.5a1.85 1.85 0 1 0 3.7 0a1.85 1.85 0 1 0 -3.7 0M803.15 534a1.85 1.85 0 1 0 3.7 0a1.85 1.85 0 1 0 -3.7 0M805.15 534.5a1.85 1.85 0 1 0 3.7 0a1.85 1.85 0 1 0 -3.7 0M812.65 531a1.85 1.85 0 1 0 3.7 0a1.85 1.85 0 1 0 -3.7 0M813.65 533.5a1.85 1.85 0 1 0 3.7 0a1.85 1.85 0 1 0 -3.7 0M815.15 532.5a1.85 1.85 0 1 0 3.7 0a1.85 1.85 0 1 0 -3.7 0M814.15 530.2a1.85 1.85 0 1 0 3.7 0a1.85 1.85 0 1 0 -3.7 0M802.15 533a1.85 1.85 0 1 0 3.7 0a1.85 1.85 0 1 0 -3.7 0M829.25 533.1a1.85 1.85 0 1 0 3.7 0a1.85 1.85 0 1 0 -3.7 0M834.15 527.7a1.85 1.85 0 1 0 3.7 0a1.85 1.85 0 1 0 -3.7 0M835.25 535a1.85 1.85 0 1 0 3.7 0a1.85 1.85 0 1 0 -3.7 0M843.95 529.1a1.85 1.85 0 1 0 3.7 0a1.85 1.85 0 1 0 -3.7 0M851.85 527.4a1.85 1.85 0 1 0 3.7 0a1.85 1.85 0 1 0 -3.7 0M853.25 522.1a1.85 1.85 0 1 0 3.7 0a1.85 1.85 0 1 0 -3.7 0M875.45 526.5a1.85 1.85 0 1 0 3.7 0a1.85 1.85 0 1 0 -3.7 0M810.35 541.5a1.85 1.85 0 1 0 3.7 0a1.85 1.85 0 1 0 -3.7 0M852.75 541.5a1.85 1.85 0 1 0 3.7 0a1.85 1.85 0 1 0 -3.7 0M859.75 543.4a1.85 1.85 0 1 0 3.7 0a1.85 1.85 0 1 0 -3.7 0M914.95 503.2a1.85 1.85 0 1 0 3.7 0a1.85 1.85 0 1 0 -3.7 0M924.35 530.1a1.85 1.85 0 1 0 3.7 0a1.85 1.85 0 1 0 -3.7 0M819.25 566a1.85 1.85 0 1 0 3.7 0a1.85 1.85 0 1 0 -3.7 0M823.65 568.3a1.85 1.85 0 1 0 3.7 0a1.85 1.85 0 1 0 -3.7 0M1045.45 502.4a1.85 1.85 0 1 0 3.7 0a1.85 1.85 0 1 0 -3.7 0M1049.45 521.6a1.85 1.85 0 1 0 3.7 0a1.85 1.85 0 1 0 -3.7 0M1053.05 525a1.85 1.85 0 1 0 3.7 0a1.85 1.85 0 1 0 -3.7 0M1056.75 527a1.85 1.85 0 1 0 3.7 0a1.85 1.85 0 1 0 -3.7 0M1053.75 533.8a1.85 1.85 0 1 0 3.7 0a1.85 1.85 0 1 0 -3.7 0M1055.75 535.2a1.85 1.85 0 1 0 3.7 0a1.85 1.85 0 1 0 -3.7 0M1056.45 537.2a1.85 1.85 0 1 0 3.7 0a1.85 1.85 0 1 0 -3.7 0M1056.75 539.9a1.85 1.85 0 1 0 3.7 0a1.85 1.85 0 1 0 -3.7 0M1056.45 542.4a1.85 1.85 0 1 0 3.7 0a1.85 1.85 0 1 0 -3.7 0" fill="#8a8a8a" fill-opacity="0.35"/>
<path d="M799.25 533.5a1.25 1.25 0 1 0 2.5 0a1.25 1.25 0 1 0 -2.5 0M800.75 534a1.25 1.25 0 1 0 2.5 0a1.25 1.25 0 1 0 -2.5 0M802.25 534.5a1.25 1.25 0 1 0 2.5 0a1.25 1.25 0 1 0 -2.5 0M803.75 534a1.25 1.25 0 1 0 2.5 0a1.25 1.25 0 1 0 -2.5 0M805.75 534.5a1.25 1.25 0 1 0 2.5 0a1.25 1.25 0 1 0 -2.5 0M813.25 531a1.25 1.25 0 1 0 2.5 0a1.25 1.25 0 1 0 -2.5 0M814.25 533.5a1.25 1.25 0 1 0 2.5 0a1.25 1.25 0 1 0 -2.5 0M815.75 532.5a1.25 1.25 0 1 0 2.5 0a1.25 1.25 0 1 0 -2.5 0M814.75 530.2a1.25 1.25 0 1 0 2.5 0a1.25 1.25 0 1 0 -2.5 0M802.75 533a1.25 1.25 0 1 0 2.5 0a1.25 1.25 0 1 0 -2.5 0M829.85 533.1a1.25 1.25 0 1 0 2.5 0a1.25 1.25 0 1 0 -2.5 0M834.75 527.7a1.25 1.25 0 1 0 2.5 0a1.25 1.25 0 1 0 -2.5 0M835.85 535a1.25 1.25 0 1 0 2.5 0a1.25 1.25 0 1 0 -2.5 0M844.55 529.1a1.25 1.25 0 1 0 2.5 0a1.25 1.25 0 1 0 -2.5 0M852.45 527.4a1.25 1.25 0 1 0 2.5 0a1.25 1.25 0 1 0 -2.5 0M853.85 522.1a1.25 1.25 0 1 0 2.5 0a1.25 1.25 0 1 0 -2.5 0M876.05 526.5a1.25 1.25 0 1 0 2.5 0a1.25 1.25 0 1 0 -2.5 0M810.95 541.5a1.25 1.25 0 1 0 2.5 0a1.25 1.25 0 1 0 -2.5 0M853.35 541.5a1.25 1.25 0 1 0 2.5 0a1.25 1.25 0 1 0 -2.5 0M860.35 543.4a1.25 1.25 0 1 0 2.5 0a1.25 1.25 0 1 0 -2.5 0M915.55 503.2a1.25 1.25 0 1 0 2.5 0a1.25 1.25 0 1 0 -2.5 0M924.95 530.1a1.25 1.25 0 1 0 2.5 0a1.25 1.25 0 1 0 -2.5 0M819.85 566a1.25 1.25 0 1 0 2.5 0a1.25 1.25 0 1 0 -2.5 0M824.25 568.3a1.25 1.25 0 1 0 2.5 0a1.25 1.25 0 1 0 -2.5 0M1046.05 502.4a1.25 1.25 0 1 0 2.5 0a1.25 1.25 0 1 0 -2.5 0M1050.05 521.6a1.25 1.25 0 1 0 2.5 0a1.25 1.25 0 1 0 -2.5 0M1053.65 525a1.25 1.25 0 1 0 2.5 0a1.25 1.25 0 1 0 -2.5 0M1057.35 527a1.25 1.25 0 1 0 2.5 0a1.25 1.25 0 1 0 -2.5 0M1054.35 533.8a1.25 1.25 0 1 0 2.5 0a1.25 1.25 0 1 0 -2.5 0M1056.35 535.2a1.25 1.25 0 1 0 2.5 0a1.25 1.25 0 1 0 -2.5 0M1057.05 537.2a1.25 1.25 0 1 0 2.5 0a1.25 1.25 0 1 0 -2.5 0M1057.35 539.9a1.25 1.25 0 1 0 2.5 0a1.25 1.25 0 1 0 -2.5 0M1057.05 542.4a1.25 1.25 0 1 0 2.5 0a1.25 1.25 0 1 0 -2.5 0" fill="#575757"/>
<path d="M792 533.5a2.0 2.0 0 1 0 4 0a2.0 2.0 0 1 0 -4 0M796.7 533.1a2.0 2.0 0 1 0 4 0a2.0 2.0 0 1 0 -4 0M806 533a2.0 2.0 0 1 0 4 0a2.0 2.0 0 1 0 -4 0M807.5 534.5a2.0 2.0 0 1 0 4 0a2.0 2.0 0 1 0 -4 0M809 535.2a2.0 2.0 0 1 0 4 0a2.0 2.0 0 1 0 -4 0M810.5 533.5a2.0 2.0 0 1 0 4 0a2.0 2.0 0 1 0 -4 0M808 532.4a2.0 2.0 0 1 0 4 0a2.0 2.0 0 1 0 -4 0M816 531.5a2.0 2.0 0 1 0 4 0a2.0 2.0 0 1 0 -4 0M817.5 533.5a2.0 2.0 0 1 0 4 0a2.0 2.0 0 1 0 -4 0M819 532a2.0 2.0 0 1 0 4 0a2.0 2.0 0 1 0 -4 0M820.5 534a2.0 2.0 0 1 0 4 0a2.0 2.0 0 1 0 -4 0M822 531a2.0 2.0 0 1 0 4 0a2.0 2.0 0 1 0 -4 0M823.5 533.5a2.0 2.0 0 1 0 4 0a2.0 2.0 0 1 0 -4 0M824.6 535a2.0 2.0 0 1 0 4 0a2.0 2.0 0 1 0 -4 0M818 530.3a2.0 2.0 0 1 0 4 0a2.0 2.0 0 1 0 -4 0M821.5 530.2a2.0 2.0 0 1 0 4 0a2.0 2.0 0 1 0 -4 0M807 535.5a2.0 2.0 0 1 0 4 0a2.0 2.0 0 1 0 -4 0M809.5 531.8a2.0 2.0 0 1 0 4 0a2.0 2.0 0 1 0 -4 0M811 535a2.0 2.0 0 1 0 4 0a2.0 2.0 0 1 0 -4 0M816.5 535a2.0 2.0 0 1 0 4 0a2.0 2.0 0 1 0 -4 0M819.5 535.3a2.0 2.0 0 1 0 4 0a2.0 2.0 0 1 0 -4 0M822.5 535.2a2.0 2.0 0 1 0 4 0a2.0 2.0 0 1 0 -4 0M824 531.5a2.0 2.0 0 1 0 4 0a2.0 2.0 0 1 0 -4 0M825 533a2.0 2.0 0 1 0 4 0a2.0 2.0 0 1 0 -4 0M794 533.3a2.0 2.0 0 1 0 4 0a2.0 2.0 0 1 0 -4 0M804.5 533.2a2.0 2.0 0 1 0 4 0a2.0 2.0 0 1 0 -4 0M833.5 530.7a2.0 2.0 0 1 0 4 0a2.0 2.0 0 1 0 -4 0M839.6 531.6a2.0 2.0 0 1 0 4 0a2.0 2.0 0 1 0 -4 0M842.8 531a2.0 2.0 0 1 0 4 0a2.0 2.0 0 1 0 -4 0M842.8 532.6a2.0 2.0 0 1 0 4 0a2.0 2.0 0 1 0 -4 0M848.9 528.9a2.0 2.0 0 1 0 4 0a2.0 2.0 0 1 0 -4 0M861.3 527.5a2.0 2.0 0 1 0 4 0a2.0 2.0 0 1 0 -4 0M1049.6 469.4a2.0 2.0 0 1 0 4 0a2.0 2.0 0 1 0 -4 0M1052 528.9a2.0 2.0 0 1 0 4 0a2.0 2.0 0 1 0 -4 0" fill="#dc4a3c" fill-opacity="0.45"/>
<path d="M792.7 533.5a1.3 1.3 0 1 0 2.6 0a1.3 1.3 0 1 0 -2.6 0M797.4 533.1a1.3 1.3 0 1 0 2.6 0a1.3 1.3 0 1 0 -2.6 0M806.7 533a1.3 1.3 0 1 0 2.6 0a1.3 1.3 0 1 0 -2.6 0M808.2 534.5a1.3 1.3 0 1 0 2.6 0a1.3 1.3 0 1 0 -2.6 0M809.7 535.2a1.3 1.3 0 1 0 2.6 0a1.3 1.3 0 1 0 -2.6 0M811.2 533.5a1.3 1.3 0 1 0 2.6 0a1.3 1.3 0 1 0 -2.6 0M808.7 532.4a1.3 1.3 0 1 0 2.6 0a1.3 1.3 0 1 0 -2.6 0M816.7 531.5a1.3 1.3 0 1 0 2.6 0a1.3 1.3 0 1 0 -2.6 0M818.2 533.5a1.3 1.3 0 1 0 2.6 0a1.3 1.3 0 1 0 -2.6 0M819.7 532a1.3 1.3 0 1 0 2.6 0a1.3 1.3 0 1 0 -2.6 0M821.2 534a1.3 1.3 0 1 0 2.6 0a1.3 1.3 0 1 0 -2.6 0M822.7 531a1.3 1.3 0 1 0 2.6 0a1.3 1.3 0 1 0 -2.6 0M824.2 533.5a1.3 1.3 0 1 0 2.6 0a1.3 1.3 0 1 0 -2.6 0M825.3 535a1.3 1.3 0 1 0 2.6 0a1.3 1.3 0 1 0 -2.6 0M818.7 530.3a1.3 1.3 0 1 0 2.6 0a1.3 1.3 0 1 0 -2.6 0M822.2 530.2a1.3 1.3 0 1 0 2.6 0a1.3 1.3 0 1 0 -2.6 0M807.7 535.5a1.3 1.3 0 1 0 2.6 0a1.3 1.3 0 1 0 -2.6 0M810.2 531.8a1.3 1.3 0 1 0 2.6 0a1.3 1.3 0 1 0 -2.6 0M811.7 535a1.3 1.3 0 1 0 2.6 0a1.3 1.3 0 1 0 -2.6 0M817.2 535a1.3 1.3 0 1 0 2.6 0a1.3 1.3 0 1 0 -2.6 0M820.2 535.3a1.3 1.3 0 1 0 2.6 0a1.3 1.3 0 1 0 -2.6 0M823.2 535.2a1.3 1.3 0 1 0 2.6 0a1.3 1.3 0 1 0 -2.6 0M824.7 531.5a1.3 1.3 0 1 0 2.6 0a1.3 1.3 0 1 0 -2.6 0M825.7 533a1.3 1.3 0 1 0 2.6 0a1.3 1.3 0 1 0 -2.6 0M794.7 533.3a1.3 1.3 0 1 0 2.6 0a1.3 1.3 0 1 0 -2.6 0M805.2 533.2a1.3 1.3 0 1 0 2.6 0a1.3 1.3 0 1 0 -2.6 0M834.2 530.7a1.3 1.3 0 1 0 2.6 0a1.3 1.3 0 1 0 -2.6 0M840.3 531.6a1.3 1.3 0 1 0 2.6 0a1.3 1.3 0 1 0 -2.6 0M843.5 531a1.3 1.3 0 1 0 2.6 0a1.3 1.3 0 1 0 -2.6 0M843.5 532.6a1.3 1.3 0 1 0 2.6 0a1.3 1.3 0 1 0 -2.6 0M849.6 528.9a1.3 1.3 0 1 0 2.6 0a1.3 1.3 0 1 0 -2.6 0M862 527.5a1.3 1.3 0 1 0 2.6 0a1.3 1.3 0 1 0 -2.6 0M1050.3 469.4a1.3 1.3 0 1 0 2.6 0a1.3 1.3 0 1 0 -2.6 0M1052.7 528.9a1.3 1.3 0 1 0 2.6 0a1.3 1.3 0 1 0 -2.6 0" fill="#a92419"/>
<text x="1030.6" y="475" class="lb">NGA</text>
<text x="1036" y="532.4" class="lb">QAT</text>
<path d="M826.2 539.3L837.9 609.2M834.97 605.65L837.9 609.2L839.51 604.89" fill="none" stroke="#4a4a4a" stroke-width="1.0"/>
</g>
<g id="Fb">
<line x1="838.5" y1="609.6" x2="838.5" y2="745.5" stroke="#fafafa" stroke-width="1"/>
<line x1="926.5" y1="609.6" x2="926.5" y2="745.5" stroke="#fafafa" stroke-width="1"/>
<line x1="1014.5" y1="609.6" x2="1014.5" y2="745.5" stroke="#fafafa" stroke-width="1"/>
<line x1="781.6" y1="631.5" x2="1071.5" y2="631.5" stroke="#fafafa" stroke-width="1"/>
<line x1="781.6" y1="662.5" x2="1071.5" y2="662.5" stroke="#fafafa" stroke-width="1"/>
<line x1="781.6" y1="693.5" x2="1071.5" y2="693.5" stroke="#fafafa" stroke-width="1"/>
<line x1="781.6" y1="724.5" x2="1071.5" y2="724.5" stroke="#fafafa" stroke-width="1"/>
<line x1="794.5" y1="609.6" x2="794.5" y2="745.5" stroke="#f4f4f4" stroke-width="1"/>
<line x1="882.5" y1="609.6" x2="882.5" y2="745.5" stroke="#f4f4f4" stroke-width="1"/>
<line x1="970.5" y1="609.6" x2="970.5" y2="745.5" stroke="#f4f4f4" stroke-width="1"/>
<line x1="1058.5" y1="609.6" x2="1058.5" y2="745.5" stroke="#f4f4f4" stroke-width="1"/>
<line x1="781.6" y1="615.5" x2="1071.5" y2="615.5" stroke="#f4f4f4" stroke-width="1"/>
<line x1="781.6" y1="646.5" x2="1071.5" y2="646.5" stroke="#f4f4f4" stroke-width="1"/>
<line x1="781.6" y1="677.5" x2="1071.5" y2="677.5" stroke="#f4f4f4" stroke-width="1"/>
<line x1="781.6" y1="708.5" x2="1071.5" y2="708.5" stroke="#f4f4f4" stroke-width="1"/>
<line x1="781.6" y1="739.5" x2="1071.5" y2="739.5" stroke="#f4f4f4" stroke-width="1"/>
<rect x="781.6" y="609.6" width="289.9" height="135.9" fill="none" stroke="#c6c6c6" stroke-width="0.9"/>
<path d="M794.5 745.5v2M882.6 745.5v2M970.7 745.5v2M1058.8 745.5v2M781.6 615.6h-2M781.6 646.6h-2M781.6 677.6h-2M781.6 708.6h-2M781.6 739.6h-2" stroke="#c6c6c6" stroke-width="0.7"/>
<text x="794.5" y="752.66" text-anchor="middle" class="tk">−2.2</text>
<text x="882.6" y="752.66" text-anchor="middle" class="tk">−2.0</text>
<text x="970.7" y="752.66" text-anchor="middle" class="tk">−1.8</text>
<text x="1058.8" y="752.66" text-anchor="middle" class="tk">−1.6</text>
<text x="778.4" y="617.16" text-anchor="end" class="tk">0.20</text>
<text x="778.4" y="648.16" text-anchor="end" class="tk">0.15</text>
<text x="778.4" y="679.16" text-anchor="end" class="tk">0.10</text>
<text x="778.4" y="710.16" text-anchor="end" class="tk">0.05</text>
<text x="778.4" y="741.16" text-anchor="end" class="tk">0.00</text>
<text x="926.55" y="761.18" text-anchor="middle" class="ti">Major</text>
<text transform="translate(762.88 677.55) rotate(-90)" text-anchor="middle" class="ti">Minor</text>
<path d="M801.05 689.7a1.85 1.85 0 1 0 3.7 0a1.85 1.85 0 1 0 -3.7 0M802.75 690.2a1.85 1.85 0 1 0 3.7 0a1.85 1.85 0 1 0 -3.7 0M814.15 690.6a1.85 1.85 0 1 0 3.7 0a1.85 1.85 0 1 0 -3.7 0M818.65 687.7a1.85 1.85 0 1 0 3.7 0a1.85 1.85 0 1 0 -3.7 0M819.55 691.9a1.85 1.85 0 1 0 3.7 0a1.85 1.85 0 1 0 -3.7 0M822.85 687.7a1.85 1.85 0 1 0 3.7 0a1.85 1.85 0 1 0 -3.7 0M828.75 684.8a1.85 1.85 0 1 0 3.7 0a1.85 1.85 0 1 0 -3.7 0M834.15 687.3a1.85 1.85 0 1 0 3.7 0a1.85 1.85 0 1 0 -3.7 0M837.95 681.8a1.85 1.85 0 1 0 3.7 0a1.85 1.85 0 1 0 -3.7 0M837.95 685.3a1.85 1.85 0 1 0 3.7 0a1.85 1.85 0 1 0 -3.7 0M841.85 687a1.85 1.85 0 1 0 3.7 0a1.85 1.85 0 1 0 -3.7 0M839.65 693.6a1.85 1.85 0 1 0 3.7 0a1.85 1.85 0 1 0 -3.7 0M852.25 685.3a1.85 1.85 0 1 0 3.7 0a1.85 1.85 0 1 0 -3.7 0M853.95 686.5a1.85 1.85 0 1 0 3.7 0a1.85 1.85 0 1 0 -3.7 0M858.15 671.4a1.85 1.85 0 1 0 3.7 0a1.85 1.85 0 1 0 -3.7 0M858.95 684a1.85 1.85 0 1 0 3.7 0a1.85 1.85 0 1 0 -3.7 0M863.65 677.7a1.85 1.85 0 1 0 3.7 0a1.85 1.85 0 1 0 -3.7 0M863.65 680.3a1.85 1.85 0 1 0 3.7 0a1.85 1.85 0 1 0 -3.7 0M867.35 672.2a1.85 1.85 0 1 0 3.7 0a1.85 1.85 0 1 0 -3.7 0M869.05 669.7a1.85 1.85 0 1 0 3.7 0a1.85 1.85 0 1 0 -3.7 0M876.55 652.6a1.85 1.85 0 1 0 3.7 0a1.85 1.85 0 1 0 -3.7 0M883.85 665.1a1.85 1.85 0 1 0 3.7 0a1.85 1.85 0 1 0 -3.7 0M877.45 680.3a1.85 1.85 0 1 0 3.7 0a1.85 1.85 0 1 0 -3.7 0M880.75 682.6a1.85 1.85 0 1 0 3.7 0a1.85 1.85 0 1 0 -3.7 0M890.05 682.8a1.85 1.85 0 1 0 3.7 0a1.85 1.85 0 1 0 -3.7 0M900.35 688.1a1.85 1.85 0 1 0 3.7 0a1.85 1.85 0 1 0 -3.7 0M879.15 687.3a1.85 1.85 0 1 0 3.7 0a1.85 1.85 0 1 0 -3.7 0M877.45 689.6a1.85 1.85 0 1 0 3.7 0a1.85 1.85 0 1 0 -3.7 0M874.95 691.4a1.85 1.85 0 1 0 3.7 0a1.85 1.85 0 1 0 -3.7 0M855.65 694.1a1.85 1.85 0 1 0 3.7 0a1.85 1.85 0 1 0 -3.7 0M824.55 697.6a1.85 1.85 0 1 0 3.7 0a1.85 1.85 0 1 0 -3.7 0M825.35 701.8a1.85 1.85 0 1 0 3.7 0a1.85 1.85 0 1 0 -3.7 0M829.55 698.5a1.85 1.85 0 1 0 3.7 0a1.85 1.85 0 1 0 -3.7 0M830.45 701a1.85 1.85 0 1 0 3.7 0a1.85 1.85 0 1 0 -3.7 0M832.15 695.1a1.85 1.85 0 1 0 3.7 0a1.85 1.85 0 1 0 -3.7 0M827.15 700a1.85 1.85 0 1 0 3.7 0a1.85 1.85 0 1 0 -3.7 0M855.65 701.8a1.85 1.85 0 1 0 3.7 0a1.85 1.85 0 1 0 -3.7 0M858.15 694.3a1.85 1.85 0 1 0 3.7 0a1.85 1.85 0 1 0 -3.7 0M879.15 710.7a1.85 1.85 0 1 0 3.7 0a1.85 1.85 0 1 0 -3.7 0M905.55 710a1.85 1.85 0 1 0 3.7 0a1.85 1.85 0 1 0 -3.7 0M946.75 626.5a1.85 1.85 0 1 0 3.7 0a1.85 1.85 0 1 0 -3.7 0M1011.35 621.3a1.85 1.85 0 1 0 3.7 0a1.85 1.85 0 1 0 -3.7 0M978.75 638.3a1.85 1.85 0 1 0 3.7 0a1.85 1.85 0 1 0 -3.7 0M983.85 645.3a1.85 1.85 0 1 0 3.7 0a1.85 1.85 0 1 0 -3.7 0M977.45 668.5a1.85 1.85 0 1 0 3.7 0a1.85 1.85 0 1 0 -3.7 0M928.75 684.1a1.85 1.85 0 1 0 3.7 0a1.85 1.85 0 1 0 -3.7 0M950.25 703.5a1.85 1.85 0 1 0 3.7 0a1.85 1.85 0 1 0 -3.7 0" fill="#8a8a8a" fill-opacity="0.35"/>
<path d="M801.65 689.7a1.25 1.25 0 1 0 2.5 0a1.25 1.25 0 1 0 -2.5 0M803.35 690.2a1.25 1.25 0 1 0 2.5 0a1.25 1.25 0 1 0 -2.5 0M814.75 690.6a1.25 1.25 0 1 0 2.5 0a1.25 1.25 0 1 0 -2.5 0M819.25 687.7a1.25 1.25 0 1 0 2.5 0a1.25 1.25 0 1 0 -2.5 0M820.15 691.9a1.25 1.25 0 1 0 2.5 0a1.25 1.25 0 1 0 -2.5 0M823.45 687.7a1.25 1.25 0 1 0 2.5 0a1.25 1.25 0 1 0 -2.5 0M829.35 684.8a1.25 1.25 0 1 0 2.5 0a1.25 1.25 0 1 0 -2.5 0M834.75 687.3a1.25 1.25 0 1 0 2.5 0a1.25 1.25 0 1 0 -2.5 0M838.55 681.8a1.25 1.25 0 1 0 2.5 0a1.25 1.25 0 1 0 -2.5 0M838.55 685.3a1.25 1.25 0 1 0 2.5 0a1.25 1.25 0 1 0 -2.5 0M842.45 687a1.25 1.25 0 1 0 2.5 0a1.25 1.25 0 1 0 -2.5 0M840.25 693.6a1.25 1.25 0 1 0 2.5 0a1.25 1.25 0 1 0 -2.5 0M852.85 685.3a1.25 1.25 0 1 0 2.5 0a1.25 1.25 0 1 0 -2.5 0M854.55 686.5a1.25 1.25 0 1 0 2.5 0a1.25 1.25 0 1 0 -2.5 0M858.75 671.4a1.25 1.25 0 1 0 2.5 0a1.25 1.25 0 1 0 -2.5 0M859.55 684a1.25 1.25 0 1 0 2.5 0a1.25 1.25 0 1 0 -2.5 0M864.25 677.7a1.25 1.25 0 1 0 2.5 0a1.25 1.25 0 1 0 -2.5 0M864.25 680.3a1.25 1.25 0 1 0 2.5 0a1.25 1.25 0 1 0 -2.5 0M867.95 672.2a1.25 1.25 0 1 0 2.5 0a1.25 1.25 0 1 0 -2.5 0M869.65 669.7a1.25 1.25 0 1 0 2.5 0a1.25 1.25 0 1 0 -2.5 0M877.15 652.6a1.25 1.25 0 1 0 2.5 0a1.25 1.25 0 1 0 -2.5 0M884.45 665.1a1.25 1.25 0 1 0 2.5 0a1.25 1.25 0 1 0 -2.5 0M878.05 680.3a1.25 1.25 0 1 0 2.5 0a1.25 1.25 0 1 0 -2.5 0M881.35 682.6a1.25 1.25 0 1 0 2.5 0a1.25 1.25 0 1 0 -2.5 0M890.65 682.8a1.25 1.25 0 1 0 2.5 0a1.25 1.25 0 1 0 -2.5 0M900.95 688.1a1.25 1.25 0 1 0 2.5 0a1.25 1.25 0 1 0 -2.5 0M879.75 687.3a1.25 1.25 0 1 0 2.5 0a1.25 1.25 0 1 0 -2.5 0M878.05 689.6a1.25 1.25 0 1 0 2.5 0a1.25 1.25 0 1 0 -2.5 0M875.55 691.4a1.25 1.25 0 1 0 2.5 0a1.25 1.25 0 1 0 -2.5 0M856.25 694.1a1.25 1.25 0 1 0 2.5 0a1.25 1.25 0 1 0 -2.5 0M825.15 697.6a1.25 1.25 0 1 0 2.5 0a1.25 1.25 0 1 0 -2.5 0M825.95 701.8a1.25 1.25 0 1 0 2.5 0a1.25 1.25 0 1 0 -2.5 0M830.15 698.5a1.25 1.25 0 1 0 2.5 0a1.25 1.25 0 1 0 -2.5 0M831.05 701a1.25 1.25 0 1 0 2.5 0a1.25 1.25 0 1 0 -2.5 0M832.75 695.1a1.25 1.25 0 1 0 2.5 0a1.25 1.25 0 1 0 -2.5 0M827.75 700a1.25 1.25 0 1 0 2.5 0a1.25 1.25 0 1 0 -2.5 0M856.25 701.8a1.25 1.25 0 1 0 2.5 0a1.25 1.25 0 1 0 -2.5 0M858.75 694.3a1.25 1.25 0 1 0 2.5 0a1.25 1.25 0 1 0 -2.5 0M879.75 710.7a1.25 1.25 0 1 0 2.5 0a1.25 1.25 0 1 0 -2.5 0M906.15 710a1.25 1.25 0 1 0 2.5 0a1.25 1.25 0 1 0 -2.5 0M947.35 626.5a1.25 1.25 0 1 0 2.5 0a1.25 1.25 0 1 0 -2.5 0M1011.95 621.3a1.25 1.25 0 1 0 2.5 0a1.25 1.25 0 1 0 -2.5 0M979.35 638.3a1.25 1.25 0 1 0 2.5 0a1.25 1.25 0 1 0 -2.5 0M984.45 645.3a1.25 1.25 0 1 0 2.5 0a1.25 1.25 0 1 0 -2.5 0M978.05 668.5a1.25 1.25 0 1 0 2.5 0a1.25 1.25 0 1 0 -2.5 0M929.35 684.1a1.25 1.25 0 1 0 2.5 0a1.25 1.25 0 1 0 -2.5 0M950.85 703.5a1.25 1.25 0 1 0 2.5 0a1.25 1.25 0 1 0 -2.5 0" fill="#575757"/>
<path d="M795 689.7a2.0 2.0 0 1 0 4 0a2.0 2.0 0 1 0 -4 0M796.7 689.7a2.0 2.0 0 1 0 4 0a2.0 2.0 0 1 0 -4 0M810.6 684.3a2.0 2.0 0 1 0 4 0a2.0 2.0 0 1 0 -4 0M844.2 679.2a2.0 2.0 0 1 0 4 0a2.0 2.0 0 1 0 -4 0M852.9 680.1a2.0 2.0 0 1 0 4 0a2.0 2.0 0 1 0 -4 0M847.9 689.9a2.0 2.0 0 1 0 4 0a2.0 2.0 0 1 0 -4 0M848.4 688.2a2.0 2.0 0 1 0 4 0a2.0 2.0 0 1 0 -4 0M880.6 672.5a2.0 2.0 0 1 0 4 0a2.0 2.0 0 1 0 -4 0M882.3 673a2.0 2.0 0 1 0 4 0a2.0 2.0 0 1 0 -4 0M880.6 677.2a2.0 2.0 0 1 0 4 0a2.0 2.0 0 1 0 -4 0M890.4 668.8a2.0 2.0 0 1 0 4 0a2.0 2.0 0 1 0 -4 0M884 681.9a2.0 2.0 0 1 0 4 0a2.0 2.0 0 1 0 -4 0M887 681.9a2.0 2.0 0 1 0 4 0a2.0 2.0 0 1 0 -4 0M848.4 701.8a2.0 2.0 0 1 0 4 0a2.0 2.0 0 1 0 -4 0M858.3 711.9a2.0 2.0 0 1 0 4 0a2.0 2.0 0 1 0 -4 0M897.5 701.4a2.0 2.0 0 1 0 4 0a2.0 2.0 0 1 0 -4 0M911.8 696.3a2.0 2.0 0 1 0 4 0a2.0 2.0 0 1 0 -4 0M905.5 655.4a2.0 2.0 0 1 0 4 0a2.0 2.0 0 1 0 -4 0M906.3 662.3a2.0 2.0 0 1 0 4 0a2.0 2.0 0 1 0 -4 0M908.2 677.7a2.0 2.0 0 1 0 4 0a2.0 2.0 0 1 0 -4 0M1046.5 621.8a2.0 2.0 0 1 0 4 0a2.0 2.0 0 1 0 -4 0M1000.5 634.8a2.0 2.0 0 1 0 4 0a2.0 2.0 0 1 0 -4 0M943.4 657.9a2.0 2.0 0 1 0 4 0a2.0 2.0 0 1 0 -4 0M946.2 657.4a2.0 2.0 0 1 0 4 0a2.0 2.0 0 1 0 -4 0M980.2 662.1a2.0 2.0 0 1 0 4 0a2.0 2.0 0 1 0 -4 0M966.9 667.2a2.0 2.0 0 1 0 4 0a2.0 2.0 0 1 0 -4 0M978.6 675.9a2.0 2.0 0 1 0 4 0a2.0 2.0 0 1 0 -4 0M890.3 668.8a2.0 2.0 0 1 0 4 0a2.0 2.0 0 1 0 -4 0" fill="#dc4a3c" fill-opacity="0.45"/>
<path d="M795.7 689.7a1.3 1.3 0 1 0 2.6 0a1.3 1.3 0 1 0 -2.6 0M797.4 689.7a1.3 1.3 0 1 0 2.6 0a1.3 1.3 0 1 0 -2.6 0M811.3 684.3a1.3 1.3 0 1 0 2.6 0a1.3 1.3 0 1 0 -2.6 0M844.9 679.2a1.3 1.3 0 1 0 2.6 0a1.3 1.3 0 1 0 -2.6 0M853.6 680.1a1.3 1.3 0 1 0 2.6 0a1.3 1.3 0 1 0 -2.6 0M848.6 689.9a1.3 1.3 0 1 0 2.6 0a1.3 1.3 0 1 0 -2.6 0M849.1 688.2a1.3 1.3 0 1 0 2.6 0a1.3 1.3 0 1 0 -2.6 0M881.3 672.5a1.3 1.3 0 1 0 2.6 0a1.3 1.3 0 1 0 -2.6 0M883 673a1.3 1.3 0 1 0 2.6 0a1.3 1.3 0 1 0 -2.6 0M881.3 677.2a1.3 1.3 0 1 0 2.6 0a1.3 1.3 0 1 0 -2.6 0M891.1 668.8a1.3 1.3 0 1 0 2.6 0a1.3 1.3 0 1 0 -2.6 0M884.7 681.9a1.3 1.3 0 1 0 2.6 0a1.3 1.3 0 1 0 -2.6 0M887.7 681.9a1.3 1.3 0 1 0 2.6 0a1.3 1.3 0 1 0 -2.6 0M849.1 701.8a1.3 1.3 0 1 0 2.6 0a1.3 1.3 0 1 0 -2.6 0M859 711.9a1.3 1.3 0 1 0 2.6 0a1.3 1.3 0 1 0 -2.6 0M898.2 701.4a1.3 1.3 0 1 0 2.6 0a1.3 1.3 0 1 0 -2.6 0M912.5 696.3a1.3 1.3 0 1 0 2.6 0a1.3 1.3 0 1 0 -2.6 0M906.2 655.4a1.3 1.3 0 1 0 2.6 0a1.3 1.3 0 1 0 -2.6 0M907 662.3a1.3 1.3 0 1 0 2.6 0a1.3 1.3 0 1 0 -2.6 0M908.9 677.7a1.3 1.3 0 1 0 2.6 0a1.3 1.3 0 1 0 -2.6 0M1047.2 621.8a1.3 1.3 0 1 0 2.6 0a1.3 1.3 0 1 0 -2.6 0M1001.2 634.8a1.3 1.3 0 1 0 2.6 0a1.3 1.3 0 1 0 -2.6 0M944.1 657.9a1.3 1.3 0 1 0 2.6 0a1.3 1.3 0 1 0 -2.6 0M946.9 657.4a1.3 1.3 0 1 0 2.6 0a1.3 1.3 0 1 0 -2.6 0M980.9 662.1a1.3 1.3 0 1 0 2.6 0a1.3 1.3 0 1 0 -2.6 0M967.6 667.2a1.3 1.3 0 1 0 2.6 0a1.3 1.3 0 1 0 -2.6 0M979.3 675.9a1.3 1.3 0 1 0 2.6 0a1.3 1.3 0 1 0 -2.6 0M891 668.8a1.3 1.3 0 1 0 2.6 0a1.3 1.3 0 1 0 -2.6 0" fill="#a92419"/>
<text x="790" y="685.6" class="lb">World</text>
<text x="814.6" y="681.4" class="lb">CAN</text>
<text x="837.3" y="675.6" class="lb">NOR</text>
<text x="852.8" y="676.4" class="lb">BEL</text>
<text x="791.1" y="703.2" class="lb">SAU</text>
<text x="846.5" y="698.3" class="lb">KAZ</text>
<text x="837" y="711.1" class="lb">MEX</text>
<text x="854.4" y="722.3" class="lb">RUS</text>
<text x="869.2" y="661.3" class="lb">GBR</text>
<text x="870.6" y="670.2" class="lb">AUS</text>
<text x="896.4" y="673.9" class="lb">DEU</text>
<text x="885.2" y="689.1" class="lb">JPN</text>
<text x="885.2" y="698.1" class="lb">MYS</text>
<text x="886.8" y="711.1" class="lb">DZA</text>
<text x="907.2" y="650.7" class="lb">IDN</text>
<text x="913.2" y="665.5" class="lb">NLD</text>
<text x="915.5" y="680.2" class="lb">USA</text>
<text x="919.6" y="702" class="lb">BRA</text>
<text x="934.8" y="665.5" class="lb">FRA</text>
<text x="951.6" y="657.1" class="lb">EU-28</text>
<text x="987.4" y="665.8" class="lb">ITA</text>
<text x="960" y="676.4" class="lb">KOR</text>
<text x="982.3" y="686.1" class="lb">CHN</text>
<text x="1006.2" y="642.8" class="lb">ESP</text>
<text x="1048.5" y="632.2" class="lb">IND</text>
</g>
<text x="0" y="15.8" class="let">A</text>
<text x="375.4" y="15.8" class="let">B</text>
<text x="752" y="15.8" class="let">C</text>
<text x="0.2" y="445.9" class="let">D</text>
<text x="376.5" y="445.9" class="let">E</text>
<text x="753.5" y="445.9" class="let">F</text>
<text x="28.4" y="376.8" class="cap" textLength="278.5" lengthAdjust="spacingAndGlyphs">network embedding in 2012</text>
<text x="405.5" y="376.8" class="cap" textLength="276.5" lengthAdjust="spacingAndGlyphs">network embedding in 2013</text>
<text x="778.6" y="376.8" class="cap" textLength="279.2" lengthAdjust="spacingAndGlyphs">network embedding in 2014</text>
<text x="24.5" y="807.4" class="cap" textLength="276.7" lengthAdjust="spacingAndGlyphs">network embedding in 2015</text>
<text x="398.5" y="807.4" class="cap" textLength="278.7" lengthAdjust="spacingAndGlyphs">network embedding in 2016</text>
<text x="772.4" y="807.4" class="cap" textLength="280.1" lengthAdjust="spacingAndGlyphs">network embedding in 2017</text>
</g>
</svg></body></html>
